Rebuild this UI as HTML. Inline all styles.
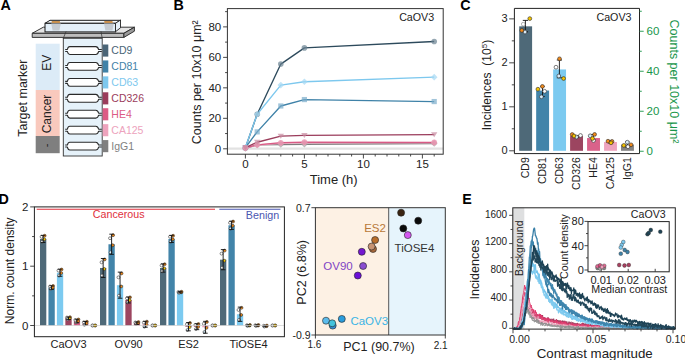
<!DOCTYPE html>
<html><head><meta charset="utf-8"><style>
html,body{margin:0;padding:0;background:#fff;width:685px;height:360px;overflow:hidden}
svg{display:block;font-family:"Liberation Sans",sans-serif}
</style></head><body>
<svg width="685" height="360" viewBox="0 0 685 360">
<rect width="685" height="360" fill="#fff"/>
<polygon points="32.2,33.3 43.3,27.2 134.4,27.2 123.9,33.3" fill="#e4e4e4" stroke="#222" stroke-width="0.9" stroke-linejoin="round"/>
<polygon points="32.2,33.3 123.9,33.3 123.9,37.4 32.2,37.4" fill="#bdbdbd" stroke="#222" stroke-width="0.9"/>
<polygon points="123.9,33.3 134.4,27.2 134.4,31.2 123.9,37.4" fill="#9a9a9a" stroke="#222" stroke-width="0.9" stroke-linejoin="round"/>
<polygon points="45,23.3 50,20.3 120.6,20.3 115.5,23.3" fill="#f7fbfe" stroke="#1a1a1a" stroke-width="1.0" stroke-linejoin="round"/>
<rect x="45" y="23.3" width="70.5" height="8.6" fill="#e3eff8" stroke="#1a1a1a" stroke-width="1.0"/>
<polygon points="115.5,23.3 120.5,20 120.5,27.8 115.5,31.7" fill="#e8f2fa" stroke="#222" stroke-width="0.9" stroke-linejoin="round"/>
<polygon points="51.6,20.9 59.8,20.9 60.2,23 51.9,23" fill="#c8904e"/>
<polygon points="104.2,20.9 112.4,20.9 112.8,23 104.5,23" fill="#c8904e"/>
<polygon points="51.2,23.6 60.8,23.6 59.4,30.6 52.6,30.6" fill="#c5cbd1"/>
<polygon points="104,23.6 113.8,23.6 112.4,30.6 105.4,30.6" fill="#c5cbd1"/>
<path d="M66.1,31.4 L63.3,38.3 M101,31.4 L102.2,38.3" stroke="#333" stroke-width="0.7" fill="none"/>
<rect x="63.3" y="38.3" width="38.9" height="117.7" fill="#e6f2fa" stroke="#333" stroke-width="0.9"/>
<rect x="35.7" y="43.7" width="24" height="46.3" fill="#dcebf7"/>
<rect x="35.7" y="90" width="24" height="46" fill="#f9c9bd"/>
<rect x="35.7" y="136" width="24" height="17.2" fill="#7f7f7f"/>
<text transform="translate(50.9,62.8) rotate(-90)" text-anchor="middle" font-size="12" fill="#222">EV</text>
<text transform="translate(50.7,114) rotate(-90)" text-anchor="middle" font-size="12" fill="#222">Cancer</text>
<text transform="translate(49.8,145.4) rotate(-90)" text-anchor="middle" font-size="11" fill="#222">-</text>
<text transform="translate(26.9,98.2) rotate(-90)" text-anchor="middle" font-size="12.5" fill="#222">Target marker</text>
<path d="M67.4,50.50 Q68,46.60 69.8,46.60 L95.8,46.60 Q97.8,46.60 98.6,50.50 Q97.8,54.40 95.8,54.40 L69.8,54.40 Q68,54.40 67.4,50.50 Z" fill="#fff"/>
<path d="M65.2,49.50 L67.4,49.50 Q68,46.60 69.8,46.60 L95.8,46.60 Q97.8,46.60 98.6,49.50 L101.8,49.50 M65.2,51.50 L67.4,51.50 Q68,54.40 69.8,54.40 L95.8,54.40 Q97.8,54.40 98.6,51.50 L101.8,51.50" fill="none" stroke="#2a2a2a" stroke-width="1.05" stroke-linejoin="round"/>
<rect x="102.7" y="44.50" width="5.6" height="12.1" fill="#4a6577"/>
<text x="111.3" y="54.40" font-size="10.5" fill="#4a6577">CD9</text>
<path d="M67.4,66.43 Q68,62.53 69.8,62.53 L95.8,62.53 Q97.8,62.53 98.6,66.43 Q97.8,70.33 95.8,70.33 L69.8,70.33 Q68,70.33 67.4,66.43 Z" fill="#fff"/>
<path d="M65.2,65.43 L67.4,65.43 Q68,62.53 69.8,62.53 L95.8,62.53 Q97.8,62.53 98.6,65.43 L101.8,65.43 M65.2,67.43 L67.4,67.43 Q68,70.33 69.8,70.33 L95.8,70.33 Q97.8,70.33 98.6,67.43 L101.8,67.43" fill="none" stroke="#2a2a2a" stroke-width="1.05" stroke-linejoin="round"/>
<rect x="102.7" y="60.43" width="5.6" height="12.1" fill="#3f82a8"/>
<text x="111.3" y="70.33" font-size="10.5" fill="#3f82a8">CD81</text>
<path d="M67.4,82.36 Q68,78.46 69.8,78.46 L95.8,78.46 Q97.8,78.46 98.6,82.36 Q97.8,86.26 95.8,86.26 L69.8,86.26 Q68,86.26 67.4,82.36 Z" fill="#fff"/>
<path d="M65.2,81.36 L67.4,81.36 Q68,78.46 69.8,78.46 L95.8,78.46 Q97.8,78.46 98.6,81.36 L101.8,81.36 M65.2,83.36 L67.4,83.36 Q68,86.26 69.8,86.26 L95.8,86.26 Q97.8,86.26 98.6,83.36 L101.8,83.36" fill="none" stroke="#2a2a2a" stroke-width="1.05" stroke-linejoin="round"/>
<rect x="102.7" y="76.36" width="5.6" height="12.1" fill="#7dc8ee"/>
<text x="111.3" y="86.26" font-size="10.5" fill="#7dc8ee">CD63</text>
<path d="M67.4,98.29 Q68,94.39 69.8,94.39 L95.8,94.39 Q97.8,94.39 98.6,98.29 Q97.8,102.19 95.8,102.19 L69.8,102.19 Q68,102.19 67.4,98.29 Z" fill="#fff"/>
<path d="M65.2,97.29 L67.4,97.29 Q68,94.39 69.8,94.39 L95.8,94.39 Q97.8,94.39 98.6,97.29 L101.8,97.29 M65.2,99.29 L67.4,99.29 Q68,102.19 69.8,102.19 L95.8,102.19 Q97.8,102.19 98.6,99.29 L101.8,99.29" fill="none" stroke="#2a2a2a" stroke-width="1.05" stroke-linejoin="round"/>
<rect x="102.7" y="92.29" width="5.6" height="12.1" fill="#9b3d5c"/>
<text x="111.3" y="102.19" font-size="10.5" fill="#9b3d5c">CD326</text>
<path d="M67.4,114.22 Q68,110.32 69.8,110.32 L95.8,110.32 Q97.8,110.32 98.6,114.22 Q97.8,118.12 95.8,118.12 L69.8,118.12 Q68,118.12 67.4,114.22 Z" fill="#fff"/>
<path d="M65.2,113.22 L67.4,113.22 Q68,110.32 69.8,110.32 L95.8,110.32 Q97.8,110.32 98.6,113.22 L101.8,113.22 M65.2,115.22 L67.4,115.22 Q68,118.12 69.8,118.12 L95.8,118.12 Q97.8,118.12 98.6,115.22 L101.8,115.22" fill="none" stroke="#2a2a2a" stroke-width="1.05" stroke-linejoin="round"/>
<rect x="102.7" y="108.22" width="5.6" height="12.1" fill="#dc5b85"/>
<text x="111.3" y="118.12" font-size="10.5" fill="#dc5b85">HE4</text>
<path d="M67.4,130.15 Q68,126.25 69.8,126.25 L95.8,126.25 Q97.8,126.25 98.6,130.15 Q97.8,134.05 95.8,134.05 L69.8,134.05 Q68,134.05 67.4,130.15 Z" fill="#fff"/>
<path d="M65.2,129.15 L67.4,129.15 Q68,126.25 69.8,126.25 L95.8,126.25 Q97.8,126.25 98.6,129.15 L101.8,129.15 M65.2,131.15 L67.4,131.15 Q68,134.05 69.8,134.05 L95.8,134.05 Q97.8,134.05 98.6,131.15 L101.8,131.15" fill="none" stroke="#2a2a2a" stroke-width="1.05" stroke-linejoin="round"/>
<rect x="102.7" y="124.15" width="5.6" height="12.1" fill="#eda3bd"/>
<text x="111.3" y="134.05" font-size="10.5" fill="#eda3bd">CA125</text>
<path d="M67.4,146.08 Q68,142.18 69.8,142.18 L95.8,142.18 Q97.8,142.18 98.6,146.08 Q97.8,149.98 95.8,149.98 L69.8,149.98 Q68,149.98 67.4,146.08 Z" fill="#fff"/>
<path d="M65.2,145.08 L67.4,145.08 Q68,142.18 69.8,142.18 L95.8,142.18 Q97.8,142.18 98.6,145.08 L101.8,145.08 M65.2,147.08 L67.4,147.08 Q68,149.98 69.8,149.98 L95.8,149.98 Q97.8,149.98 98.6,147.08 L101.8,147.08" fill="none" stroke="#2a2a2a" stroke-width="1.05" stroke-linejoin="round"/>
<rect x="102.7" y="140.08" width="5.6" height="12.1" fill="#7f7f7f"/>
<text x="111.3" y="149.98" font-size="10.5" fill="#7f7f7f">IgG1</text>
<line x1="227.4" y1="148.6" x2="443.2" y2="148.6" stroke="#e2e2e2" stroke-width="2.2"/>
<polyline points="245.40,148.34 257.20,144.84 280.80,144.53 304.40,144.23 434.20,143.47" fill="none" stroke="#7f7f7f" stroke-width="1.35" stroke-linejoin="round"/>
<polyline points="245.40,148.04 257.20,144.99 280.80,143.31 304.40,142.70 434.20,142.70" fill="none" stroke="#eda3bd" stroke-width="1.35" stroke-linejoin="round"/>
<polyline points="245.40,147.89 257.20,144.84 280.80,142.70 304.40,142.09 434.20,142.40" fill="none" stroke="#d95a85" stroke-width="1.35" stroke-linejoin="round"/>
<polyline points="245.40,147.58 257.20,142.25 280.80,136.15 304.40,135.39 434.20,134.63" fill="none" stroke="#9b3d5c" stroke-width="1.35" stroke-linejoin="round"/>
<polyline points="245.40,147.58 257.20,131.88 280.80,105.98 304.40,99.57 434.20,101.56" fill="none" stroke="#3f82a8" stroke-width="1.35" stroke-linejoin="round"/>
<polyline points="245.40,147.73 257.20,114.21 280.80,64.07 304.40,47.91 434.20,41.51" fill="none" stroke="#2d4a5c" stroke-width="1.35" stroke-linejoin="round"/>
<polyline points="245.40,147.43 257.20,114.21 280.80,85.10 304.40,81.74 434.20,77.17" fill="none" stroke="#7dc8ee" stroke-width="1.35" stroke-linejoin="round"/>
<circle cx="245.40" cy="147.73" r="2.8" fill="#6a8292" opacity="0.7"/>
<circle cx="257.20" cy="114.21" r="2.8" fill="#6a8292" opacity="0.7"/>
<circle cx="280.80" cy="64.07" r="2.8" fill="#6a8292" opacity="0.7"/>
<circle cx="304.40" cy="47.91" r="2.8" fill="#6a8292" opacity="0.7"/>
<circle cx="434.20" cy="41.51" r="2.8" fill="#6a8292" opacity="0.7"/>
<polygon points="245.40,144.13 248.70,147.43 245.40,150.73 242.10,147.43" fill="#a5d9f3" opacity="0.7"/>
<polygon points="257.20,110.91 260.50,114.21 257.20,117.51 253.90,114.21" fill="#a5d9f3" opacity="0.7"/>
<polygon points="280.80,81.80 284.10,85.10 280.80,88.40 277.50,85.10" fill="#a5d9f3" opacity="0.7"/>
<polygon points="304.40,78.44 307.70,81.74 304.40,85.04 301.10,81.74" fill="#a5d9f3" opacity="0.7"/>
<polygon points="434.20,73.87 437.50,77.17 434.20,80.47 430.90,77.17" fill="#a5d9f3" opacity="0.7"/>
<rect x="242.80" y="144.98" width="5.2" height="5.2" fill="#7aaccb" opacity="0.7"/>
<rect x="254.60" y="129.28" width="5.2" height="5.2" fill="#7aaccb" opacity="0.7"/>
<rect x="278.20" y="103.38" width="5.2" height="5.2" fill="#7aaccb" opacity="0.7"/>
<rect x="301.80" y="96.97" width="5.2" height="5.2" fill="#7aaccb" opacity="0.7"/>
<rect x="431.60" y="98.96" width="5.2" height="5.2" fill="#7aaccb" opacity="0.7"/>
<polygon points="245.40,145.04 248.70,148.34 245.40,151.64 242.10,148.34" fill="#a0a0a0" opacity="0.7"/>
<polygon points="257.20,141.54 260.50,144.84 257.20,148.14 253.90,144.84" fill="#a0a0a0" opacity="0.7"/>
<polygon points="280.80,141.23 284.10,144.53 280.80,147.83 277.50,144.53" fill="#a0a0a0" opacity="0.7"/>
<polygon points="304.40,140.93 307.70,144.23 304.40,147.53 301.10,144.23" fill="#a0a0a0" opacity="0.7"/>
<polygon points="434.20,140.17 437.50,143.47 434.20,146.77 430.90,143.47" fill="#a0a0a0" opacity="0.7"/>
<polygon points="245.40,144.74 248.70,148.04 245.40,151.34 242.10,148.04" fill="#f0b5c8" opacity="0.7"/>
<polygon points="257.20,141.69 260.50,144.99 257.20,148.29 253.90,144.99" fill="#f0b5c8" opacity="0.7"/>
<polygon points="280.80,140.01 284.10,143.31 280.80,146.61 277.50,143.31" fill="#f0b5c8" opacity="0.7"/>
<polygon points="304.40,139.40 307.70,142.70 304.40,146.00 301.10,142.70" fill="#f0b5c8" opacity="0.7"/>
<polygon points="434.20,139.40 437.50,142.70 434.20,146.00 430.90,142.70" fill="#f0b5c8" opacity="0.7"/>
<circle cx="245.40" cy="147.89" r="2.8" fill="#e58aa8" opacity="0.7"/>
<circle cx="257.20" cy="144.84" r="2.8" fill="#e58aa8" opacity="0.7"/>
<circle cx="280.80" cy="142.70" r="2.8" fill="#e58aa8" opacity="0.7"/>
<circle cx="304.40" cy="142.09" r="2.8" fill="#e58aa8" opacity="0.7"/>
<circle cx="434.20" cy="142.40" r="2.8" fill="#e58aa8" opacity="0.7"/>
<polygon points="242.20,145.18 248.60,145.18 245.40,150.18" fill="#c88aa0" opacity="0.7"/>
<polygon points="254.00,139.85 260.40,139.85 257.20,144.85" fill="#c88aa0" opacity="0.7"/>
<polygon points="277.60,133.75 284.00,133.75 280.80,138.75" fill="#c88aa0" opacity="0.7"/>
<polygon points="301.20,132.99 307.60,132.99 304.40,137.99" fill="#c88aa0" opacity="0.7"/>
<polygon points="431.00,132.23 437.40,132.23 434.20,137.23" fill="#c88aa0" opacity="0.7"/>
<rect x="227.4" y="8.6" width="215.79999999999998" height="145.6" fill="none" stroke="#333" stroke-width="1"/>
<line x1="223.1" y1="148.80" x2="227.4" y2="148.80" stroke="#333" stroke-width="0.9"/>
<text x="221.2" y="152.50" text-anchor="end" font-size="11.5" fill="#222">0</text>
<line x1="225.1" y1="133.56" x2="227.4" y2="133.56" stroke="#333" stroke-width="0.9"/>
<line x1="223.1" y1="118.32" x2="227.4" y2="118.32" stroke="#333" stroke-width="0.9"/>
<text x="221.2" y="122.02" text-anchor="end" font-size="11.5" fill="#222">20</text>
<line x1="225.1" y1="103.08" x2="227.4" y2="103.08" stroke="#333" stroke-width="0.9"/>
<line x1="223.1" y1="87.84" x2="227.4" y2="87.84" stroke="#333" stroke-width="0.9"/>
<text x="221.2" y="91.54" text-anchor="end" font-size="11.5" fill="#222">40</text>
<line x1="225.1" y1="72.60" x2="227.4" y2="72.60" stroke="#333" stroke-width="0.9"/>
<line x1="223.1" y1="57.36" x2="227.4" y2="57.36" stroke="#333" stroke-width="0.9"/>
<text x="221.2" y="61.06" text-anchor="end" font-size="11.5" fill="#222">60</text>
<line x1="225.1" y1="42.12" x2="227.4" y2="42.12" stroke="#333" stroke-width="0.9"/>
<line x1="223.1" y1="26.88" x2="227.4" y2="26.88" stroke="#333" stroke-width="0.9"/>
<text x="221.2" y="30.58" text-anchor="end" font-size="11.5" fill="#222">80</text>
<line x1="225.1" y1="11.64" x2="227.4" y2="11.64" stroke="#333" stroke-width="0.9"/>
<line x1="245.40" y1="154.2" x2="245.40" y2="158.5" stroke="#333" stroke-width="0.9"/>
<text x="245.40" y="168.2" text-anchor="middle" font-size="11.5" fill="#222">0</text>
<line x1="257.20" y1="154.2" x2="257.20" y2="156.5" stroke="#333" stroke-width="0.9"/>
<line x1="269.00" y1="154.2" x2="269.00" y2="156.5" stroke="#333" stroke-width="0.9"/>
<line x1="280.80" y1="154.2" x2="280.80" y2="156.5" stroke="#333" stroke-width="0.9"/>
<line x1="292.60" y1="154.2" x2="292.60" y2="156.5" stroke="#333" stroke-width="0.9"/>
<line x1="304.40" y1="154.2" x2="304.40" y2="158.5" stroke="#333" stroke-width="0.9"/>
<text x="304.40" y="168.2" text-anchor="middle" font-size="11.5" fill="#222">5</text>
<line x1="316.20" y1="154.2" x2="316.20" y2="156.5" stroke="#333" stroke-width="0.9"/>
<line x1="328.00" y1="154.2" x2="328.00" y2="156.5" stroke="#333" stroke-width="0.9"/>
<line x1="339.80" y1="154.2" x2="339.80" y2="156.5" stroke="#333" stroke-width="0.9"/>
<line x1="351.60" y1="154.2" x2="351.60" y2="156.5" stroke="#333" stroke-width="0.9"/>
<line x1="363.40" y1="154.2" x2="363.40" y2="158.5" stroke="#333" stroke-width="0.9"/>
<text x="363.40" y="168.2" text-anchor="middle" font-size="11.5" fill="#222">10</text>
<line x1="375.20" y1="154.2" x2="375.20" y2="156.5" stroke="#333" stroke-width="0.9"/>
<line x1="387.00" y1="154.2" x2="387.00" y2="156.5" stroke="#333" stroke-width="0.9"/>
<line x1="398.80" y1="154.2" x2="398.80" y2="156.5" stroke="#333" stroke-width="0.9"/>
<line x1="410.60" y1="154.2" x2="410.60" y2="156.5" stroke="#333" stroke-width="0.9"/>
<line x1="422.40" y1="154.2" x2="422.40" y2="158.5" stroke="#333" stroke-width="0.9"/>
<text x="422.40" y="168.2" text-anchor="middle" font-size="11.5" fill="#222">15</text>
<line x1="434.20" y1="154.2" x2="434.20" y2="156.5" stroke="#333" stroke-width="0.9"/>
<text x="333.7" y="183.6" text-anchor="middle" font-size="13" fill="#222">Time (h)</text>
<text transform="translate(201.2,82.2) rotate(-90)" text-anchor="middle" font-size="12.5" fill="#222">Counts per 10x10 μm²</text>
<text x="434.2" y="21.4" text-anchor="end" font-size="10.7" fill="#222">CaOV3</text>
<rect x="519.20" y="26.34" width="12.9" height="124.46" fill="#4e6978"/>
<rect x="536.17" y="90.55" width="12.9" height="60.25" fill="#4284a9"/>
<rect x="553.14" y="69.44" width="12.9" height="81.36" fill="#7ccaf0"/>
<rect x="570.11" y="136.07" width="12.9" height="14.73" fill="#9c4560"/>
<rect x="587.08" y="138.05" width="12.9" height="12.75" fill="#d9628a"/>
<rect x="604.05" y="142.00" width="12.9" height="8.80" fill="#eea4be"/>
<rect x="621.02" y="144.64" width="12.9" height="6.16" fill="#838383"/>
<path d="M525.40,20.40 V31.80 M522.80,20.40 H528.00 M522.80,31.80 H528.00" stroke="#111" stroke-width="0.9" fill="none"/>
<circle cx="523.30" cy="24.20" r="1.9" fill="#ffffff" stroke="#2a2a2a" stroke-width="0.6" opacity="0.6"/>
<circle cx="525.00" cy="32.00" r="1.9" fill="#d8ecf8" stroke="#2a2a2a" stroke-width="0.6" opacity="1.0"/>
<circle cx="521.80" cy="30.40" r="1.9" fill="#f08a1c" stroke="#2a2a2a" stroke-width="0.6" opacity="1.0"/>
<circle cx="529.80" cy="18.60" r="1.9" fill="#f5c400" stroke="#2a2a2a" stroke-width="0.6" opacity="1.0"/>
<path d="M542.50,86.40 V96.50 M540.30,86.40 H544.70 M540.30,96.50 H544.70" stroke="#111" stroke-width="0.9" fill="none"/>
<circle cx="544.60" cy="91.30" r="1.9" fill="#ffffff" stroke="#2a2a2a" stroke-width="0.6" opacity="1.0"/>
<circle cx="541.40" cy="96.80" r="1.9" fill="#d8ecf8" stroke="#2a2a2a" stroke-width="0.6" opacity="1.0"/>
<circle cx="537.90" cy="89.20" r="1.9" fill="#f5c400" stroke="#2a2a2a" stroke-width="0.6" opacity="1.0"/>
<circle cx="542.40" cy="86.40" r="1.9" fill="#f08a1c" stroke="#2a2a2a" stroke-width="0.6" opacity="1.0"/>
<path d="M559.40,60.00 V77.80 M556.80,60.00 H562.00 M556.80,77.80 H562.00" stroke="#111" stroke-width="0.9" fill="none"/>
<circle cx="556.00" cy="67.20" r="1.9" fill="#ffffff" stroke="#2a2a2a" stroke-width="0.6" opacity="1.0"/>
<circle cx="558.80" cy="76.00" r="1.9" fill="#d8ecf8" stroke="#2a2a2a" stroke-width="0.6" opacity="1.0"/>
<circle cx="563.60" cy="78.50" r="1.9" fill="#f5c400" stroke="#2a2a2a" stroke-width="0.6" opacity="1.0"/>
<circle cx="559.50" cy="58.80" r="1.9" fill="#f08a1c" stroke="#2a2a2a" stroke-width="0.6" opacity="1.0"/>
<path d="M576.60,135.50 V137.50 M574.40,135.50 H578.80 M574.40,137.50 H578.80" stroke="#111" stroke-width="0.9" fill="none"/>
<circle cx="580.50" cy="135.50" r="1.9" fill="#ffffff" stroke="#2a2a2a" stroke-width="0.6" opacity="1.0"/>
<circle cx="576.50" cy="137.00" r="1.9" fill="#d8ecf8" stroke="#2a2a2a" stroke-width="0.6" opacity="1.0"/>
<circle cx="572.20" cy="134.50" r="1.9" fill="#f08a1c" stroke="#2a2a2a" stroke-width="0.6" opacity="1.0"/>
<circle cx="574.00" cy="136.00" r="1.9" fill="#f5c400" stroke="#2a2a2a" stroke-width="0.6" opacity="1.0"/>
<path d="M593.40,134.50 V140.00 M591.20,134.50 H595.60 M591.20,140.00 H595.60" stroke="#111" stroke-width="0.9" fill="none"/>
<circle cx="590.20" cy="135.80" r="1.9" fill="#d8ecf8" stroke="#2a2a2a" stroke-width="0.6" opacity="1.0"/>
<circle cx="593.50" cy="140.50" r="1.9" fill="#ffffff" stroke="#2a2a2a" stroke-width="0.6" opacity="1.0"/>
<circle cx="594.60" cy="134.40" r="1.9" fill="#f08a1c" stroke="#2a2a2a" stroke-width="0.6" opacity="1.0"/>
<circle cx="592.50" cy="138.50" r="1.9" fill="#f5c400" stroke="#2a2a2a" stroke-width="0.6" opacity="1.0"/>
<path d="M610.40,141.00 V143.00 M608.20,141.00 H612.60 M608.20,143.00 H612.60" stroke="#111" stroke-width="0.9" fill="none"/>
<circle cx="608.00" cy="141.20" r="1.9" fill="#f08a1c" stroke="#2a2a2a" stroke-width="0.6" opacity="1.0"/>
<circle cx="612.00" cy="141.40" r="1.9" fill="#f08a1c" stroke="#2a2a2a" stroke-width="0.6" opacity="1.0"/>
<circle cx="611.00" cy="142.80" r="1.9" fill="#f5c400" stroke="#2a2a2a" stroke-width="0.6" opacity="1.0"/>
<path d="M627.40,142.00 V147.00 M625.20,142.00 H629.60 M625.20,147.00 H629.60" stroke="#111" stroke-width="0.9" fill="none"/>
<circle cx="627.30" cy="142.20" r="1.9" fill="#d8ecf8" stroke="#2a2a2a" stroke-width="0.6" opacity="1.0"/>
<circle cx="628.00" cy="146.70" r="1.9" fill="#ffffff" stroke="#2a2a2a" stroke-width="0.6" opacity="1.0"/>
<circle cx="623.80" cy="145.40" r="1.9" fill="#f5c400" stroke="#2a2a2a" stroke-width="0.6" opacity="1.0"/>
<circle cx="631.00" cy="144.80" r="1.9" fill="#f08a1c" stroke="#2a2a2a" stroke-width="0.6" opacity="1.0"/>
<path d="M514.4,8.4 H639.5 M514.4,8.4 V153.6 H639.5" stroke="#222" stroke-width="1" fill="none"/>
<line x1="639.5" y1="8.4" x2="639.5" y2="153.6" stroke="#222" stroke-width="1"/>
<line x1="509.2" y1="150.80" x2="514.4" y2="150.80" stroke="#333" stroke-width="0.9"/>
<text x="507.6" y="154.20" text-anchor="end" font-size="11" fill="#222">0</text>
<line x1="511.79999999999995" y1="128.81" x2="514.4" y2="128.81" stroke="#333" stroke-width="0.9"/>
<line x1="509.2" y1="106.82" x2="514.4" y2="106.82" stroke="#333" stroke-width="0.9"/>
<text x="507.6" y="110.22" text-anchor="end" font-size="11" fill="#222">1</text>
<line x1="511.79999999999995" y1="84.83" x2="514.4" y2="84.83" stroke="#333" stroke-width="0.9"/>
<line x1="509.2" y1="62.84" x2="514.4" y2="62.84" stroke="#333" stroke-width="0.9"/>
<text x="507.6" y="66.24" text-anchor="end" font-size="11" fill="#222">2</text>
<line x1="511.79999999999995" y1="40.85" x2="514.4" y2="40.85" stroke="#333" stroke-width="0.9"/>
<line x1="509.2" y1="18.86" x2="514.4" y2="18.86" stroke="#333" stroke-width="0.9"/>
<text x="507.6" y="22.26" text-anchor="end" font-size="11" fill="#222">3</text>
<line x1="639.5" y1="151.25" x2="643.7" y2="151.25" stroke="#18964a" stroke-width="0.9"/>
<text x="646.6" y="155.35" font-size="11.5" fill="#18964a">0</text>
<line x1="639.5" y1="131.25" x2="641.8" y2="131.25" stroke="#18964a" stroke-width="0.9"/>
<line x1="639.5" y1="111.25" x2="643.7" y2="111.25" stroke="#18964a" stroke-width="0.9"/>
<text x="646.6" y="115.35" font-size="11.5" fill="#18964a">20</text>
<line x1="639.5" y1="91.25" x2="641.8" y2="91.25" stroke="#18964a" stroke-width="0.9"/>
<line x1="639.5" y1="71.25" x2="643.7" y2="71.25" stroke="#18964a" stroke-width="0.9"/>
<text x="646.6" y="75.35" font-size="11.5" fill="#18964a">40</text>
<line x1="639.5" y1="51.25" x2="641.8" y2="51.25" stroke="#18964a" stroke-width="0.9"/>
<line x1="639.5" y1="31.25" x2="643.7" y2="31.25" stroke="#18964a" stroke-width="0.9"/>
<text x="646.6" y="35.35" font-size="11.5" fill="#18964a">60</text>
<line x1="639.5" y1="11.25" x2="641.8" y2="11.25" stroke="#18964a" stroke-width="0.9"/>
<text transform="translate(670.3,81.5) rotate(90)" text-anchor="middle" font-size="12.5" fill="#18964a">Counts per 10x10 μm²</text>
<text transform="translate(491.3,85.0) rotate(-90)" text-anchor="middle" font-size="12.1" fill="#222">Incidences&#160;&#160;(10<tspan font-size="8" dy="-4.5">5</tspan><tspan dy="4.5">)</tspan></text>
<text transform="translate(529.45,157.2) rotate(-90)" text-anchor="end" font-size="10.5" fill="#222">CD9</text>
<text transform="translate(546.42,157.2) rotate(-90)" text-anchor="end" font-size="10.5" fill="#222">CD81</text>
<text transform="translate(563.39,157.2) rotate(-90)" text-anchor="end" font-size="10.5" fill="#222">CD63</text>
<text transform="translate(580.36,157.2) rotate(-90)" text-anchor="end" font-size="10.5" fill="#222">CD326</text>
<text transform="translate(597.33,157.2) rotate(-90)" text-anchor="end" font-size="10.5" fill="#222">HE4</text>
<text transform="translate(614.30,157.2) rotate(-90)" text-anchor="end" font-size="10.5" fill="#222">CA125</text>
<text transform="translate(631.27,157.2) rotate(-90)" text-anchor="end" font-size="10.5" fill="#222">IgG1</text>
<text x="631.5" y="21.3" text-anchor="end" font-size="10.7" fill="#222">CaOV3</text>
<rect x="40.00" y="238.92" width="6.3" height="86.58" fill="#4e6978"/>
<rect x="48.45" y="287.55" width="6.3" height="37.95" fill="#4284a9"/>
<rect x="56.90" y="272.72" width="6.3" height="52.78" fill="#7ccaf0"/>
<rect x="65.35" y="318.27" width="6.3" height="7.23" fill="#9c4560"/>
<rect x="73.80" y="321.05" width="6.3" height="4.45" fill="#d9628a"/>
<rect x="82.25" y="323.31" width="6.3" height="2.19" fill="#eea4be"/>
<rect x="100.00" y="267.98" width="6.3" height="57.52" fill="#4e6978"/>
<rect x="108.45" y="244.26" width="6.3" height="81.24" fill="#4284a9"/>
<rect x="116.90" y="285.18" width="6.3" height="40.32" fill="#7ccaf0"/>
<rect x="125.35" y="300.00" width="6.3" height="25.50" fill="#9c4560"/>
<rect x="133.80" y="323.13" width="6.3" height="2.37" fill="#d9628a"/>
<rect x="142.25" y="324.31" width="6.3" height="1.19" fill="#eea4be"/>
<rect x="160.00" y="267.98" width="6.3" height="57.52" fill="#4e6978"/>
<rect x="168.45" y="238.92" width="6.3" height="86.58" fill="#4284a9"/>
<rect x="176.90" y="292.29" width="6.3" height="33.21" fill="#7ccaf0"/>
<rect x="185.35" y="325.50" width="6.3" height="1.19" fill="#9c4560"/>
<rect x="193.80" y="325.50" width="6.3" height="1.19" fill="#d9628a"/>
<rect x="202.25" y="325.50" width="6.3" height="1.78" fill="#eea4be"/>
<rect x="220.00" y="259.68" width="6.3" height="65.82" fill="#4e6978"/>
<rect x="228.45" y="225.28" width="6.3" height="100.22" fill="#4284a9"/>
<rect x="236.90" y="314.23" width="6.3" height="11.27" fill="#7ccaf0"/>
<rect x="262.25" y="325.50" width="6.3" height="0.59" fill="#eea4be"/>
<circle cx="41.55" cy="236.79" r="1.45" fill="#ffffff" stroke="#2a2a2a" stroke-width="0.55" opacity="1.0"/>
<circle cx="44.65" cy="235.72" r="1.45" fill="#f08a1c" stroke="#2a2a2a" stroke-width="0.55" opacity="1.0"/>
<circle cx="42.15" cy="241.77" r="1.45" fill="#ffffff" stroke="#2a2a2a" stroke-width="0.55" opacity="1.0"/>
<circle cx="44.25" cy="239.28" r="1.45" fill="#f5c400" stroke="#2a2a2a" stroke-width="0.55" opacity="1.0"/>
<path d="M43.15,235.36 V242.48 M40.85,235.36 H45.45 M40.85,242.48 H45.45" stroke="#111" stroke-width="0.9" fill="none"/>
<circle cx="50.00" cy="286.48" r="1.45" fill="#ffffff" stroke="#2a2a2a" stroke-width="0.55" opacity="1.0"/>
<circle cx="53.10" cy="285.95" r="1.45" fill="#f08a1c" stroke="#2a2a2a" stroke-width="0.55" opacity="1.0"/>
<circle cx="50.60" cy="288.97" r="1.45" fill="#d8ecf8" stroke="#2a2a2a" stroke-width="0.55" opacity="1.0"/>
<circle cx="52.70" cy="287.73" r="1.45" fill="#f08a1c" stroke="#2a2a2a" stroke-width="0.55" opacity="1.0"/>
<path d="M51.60,285.77 V289.33 M49.30,285.77 H53.90 M49.30,289.33 H53.90" stroke="#111" stroke-width="0.9" fill="none"/>
<circle cx="58.45" cy="270.59" r="1.45" fill="#ffffff" stroke="#2a2a2a" stroke-width="0.55" opacity="1.0"/>
<circle cx="61.55" cy="269.52" r="1.45" fill="#f08a1c" stroke="#2a2a2a" stroke-width="0.55" opacity="1.0"/>
<circle cx="59.05" cy="275.57" r="1.45" fill="#ffffff" stroke="#2a2a2a" stroke-width="0.55" opacity="1.0"/>
<circle cx="61.15" cy="273.08" r="1.45" fill="#f08a1c" stroke="#2a2a2a" stroke-width="0.55" opacity="1.0"/>
<path d="M60.05,269.17 V276.28 M57.75,269.17 H62.35 M57.75,276.28 H62.35" stroke="#111" stroke-width="0.9" fill="none"/>
<circle cx="66.90" cy="317.55" r="1.45" fill="#ffffff" stroke="#2a2a2a" stroke-width="0.55" opacity="1.0"/>
<circle cx="70.00" cy="317.20" r="1.45" fill="#f08a1c" stroke="#2a2a2a" stroke-width="0.55" opacity="1.0"/>
<circle cx="67.50" cy="319.21" r="1.45" fill="#d8ecf8" stroke="#2a2a2a" stroke-width="0.55" opacity="1.0"/>
<circle cx="69.60" cy="318.38" r="1.45" fill="#f5c400" stroke="#2a2a2a" stroke-width="0.55" opacity="1.0"/>
<path d="M68.50,317.08 V319.45 M66.20,317.08 H70.80 M66.20,319.45 H70.80" stroke="#111" stroke-width="0.9" fill="none"/>
<circle cx="75.35" cy="319.99" r="1.45" fill="#ffffff" stroke="#2a2a2a" stroke-width="0.55" opacity="1.0"/>
<circle cx="78.45" cy="319.45" r="1.45" fill="#f08a1c" stroke="#2a2a2a" stroke-width="0.55" opacity="1.0"/>
<circle cx="75.95" cy="322.48" r="1.45" fill="#ffffff" stroke="#2a2a2a" stroke-width="0.55" opacity="1.0"/>
<circle cx="78.05" cy="321.23" r="1.45" fill="#f08a1c" stroke="#2a2a2a" stroke-width="0.55" opacity="1.0"/>
<path d="M76.95,319.27 V322.83 M74.65,319.27 H79.25 M74.65,322.83 H79.25" stroke="#111" stroke-width="0.9" fill="none"/>
<circle cx="83.80" cy="322.24" r="1.45" fill="#ffffff" stroke="#2a2a2a" stroke-width="0.55" opacity="1.0"/>
<circle cx="86.90" cy="321.70" r="1.45" fill="#f08a1c" stroke="#2a2a2a" stroke-width="0.55" opacity="1.0"/>
<circle cx="84.40" cy="324.73" r="1.45" fill="#d8ecf8" stroke="#2a2a2a" stroke-width="0.55" opacity="1.0"/>
<circle cx="86.50" cy="323.48" r="1.45" fill="#f08a1c" stroke="#2a2a2a" stroke-width="0.55" opacity="1.0"/>
<path d="M85.40,321.53 V325.08 M83.10,321.53 H87.70 M83.10,325.08 H87.70" stroke="#111" stroke-width="0.9" fill="none"/>
<circle cx="92.25" cy="325.50" r="1.45" fill="#ffffff" stroke="#2a2a2a" stroke-width="0.55" opacity="1.0"/>
<circle cx="95.35" cy="325.50" r="1.45" fill="#f08a1c" stroke="#2a2a2a" stroke-width="0.55" opacity="1.0"/>
<circle cx="92.85" cy="325.50" r="1.45" fill="#ffffff" stroke="#2a2a2a" stroke-width="0.55" opacity="1.0"/>
<circle cx="94.95" cy="325.50" r="1.45" fill="#f5c400" stroke="#2a2a2a" stroke-width="0.55" opacity="1.0"/>
<circle cx="101.55" cy="262.29" r="1.45" fill="#ffffff" stroke="#2a2a2a" stroke-width="0.55" opacity="1.0"/>
<circle cx="104.65" cy="259.44" r="1.45" fill="#f08a1c" stroke="#2a2a2a" stroke-width="0.55" opacity="1.0"/>
<circle cx="102.15" cy="275.57" r="1.45" fill="#ffffff" stroke="#2a2a2a" stroke-width="0.55" opacity="1.0"/>
<circle cx="104.25" cy="268.93" r="1.45" fill="#f5c400" stroke="#2a2a2a" stroke-width="0.55" opacity="1.0"/>
<path d="M103.15,258.49 V277.47 M100.85,258.49 H105.45 M100.85,277.47 H105.45" stroke="#111" stroke-width="0.9" fill="none"/>
<circle cx="110.00" cy="238.21" r="1.45" fill="#ffffff" stroke="#2a2a2a" stroke-width="0.55" opacity="1.0"/>
<circle cx="113.10" cy="235.19" r="1.45" fill="#f08a1c" stroke="#2a2a2a" stroke-width="0.55" opacity="1.0"/>
<circle cx="110.60" cy="252.32" r="1.45" fill="#d8ecf8" stroke="#2a2a2a" stroke-width="0.55" opacity="1.0"/>
<circle cx="112.70" cy="245.27" r="1.45" fill="#f08a1c" stroke="#2a2a2a" stroke-width="0.55" opacity="1.0"/>
<path d="M111.60,234.18 V254.34 M109.30,234.18 H113.90 M109.30,254.34 H113.90" stroke="#111" stroke-width="0.9" fill="none"/>
<circle cx="118.45" cy="277.35" r="1.45" fill="#ffffff" stroke="#2a2a2a" stroke-width="0.55" opacity="1.0"/>
<circle cx="121.55" cy="273.43" r="1.45" fill="#f08a1c" stroke="#2a2a2a" stroke-width="0.55" opacity="1.0"/>
<circle cx="119.05" cy="295.61" r="1.45" fill="#ffffff" stroke="#2a2a2a" stroke-width="0.55" opacity="1.0"/>
<circle cx="121.15" cy="286.48" r="1.45" fill="#f08a1c" stroke="#2a2a2a" stroke-width="0.55" opacity="1.0"/>
<path d="M120.05,272.13 V298.22 M117.75,272.13 H122.35 M117.75,298.22 H122.35" stroke="#111" stroke-width="0.9" fill="none"/>
<circle cx="126.90" cy="298.22" r="1.45" fill="#ffffff" stroke="#2a2a2a" stroke-width="0.55" opacity="1.0"/>
<circle cx="130.00" cy="297.33" r="1.45" fill="#f08a1c" stroke="#2a2a2a" stroke-width="0.55" opacity="1.0"/>
<circle cx="127.50" cy="302.37" r="1.45" fill="#d8ecf8" stroke="#2a2a2a" stroke-width="0.55" opacity="1.0"/>
<circle cx="129.60" cy="300.30" r="1.45" fill="#f5c400" stroke="#2a2a2a" stroke-width="0.55" opacity="1.0"/>
<path d="M128.50,297.04 V302.97 M126.20,297.04 H130.80 M126.20,302.97 H130.80" stroke="#111" stroke-width="0.9" fill="none"/>
<circle cx="135.35" cy="322.42" r="1.45" fill="#ffffff" stroke="#2a2a2a" stroke-width="0.55" opacity="1.0"/>
<circle cx="138.45" cy="322.06" r="1.45" fill="#f08a1c" stroke="#2a2a2a" stroke-width="0.55" opacity="1.0"/>
<circle cx="135.95" cy="324.08" r="1.45" fill="#ffffff" stroke="#2a2a2a" stroke-width="0.55" opacity="1.0"/>
<circle cx="138.05" cy="323.25" r="1.45" fill="#f08a1c" stroke="#2a2a2a" stroke-width="0.55" opacity="1.0"/>
<path d="M136.95,321.94 V324.31 M134.65,321.94 H139.25 M134.65,324.31 H139.25" stroke="#111" stroke-width="0.9" fill="none"/>
<circle cx="143.80" cy="322.54" r="1.45" fill="#ffffff" stroke="#2a2a2a" stroke-width="0.55" opacity="1.0"/>
<circle cx="146.90" cy="321.65" r="1.45" fill="#f08a1c" stroke="#2a2a2a" stroke-width="0.55" opacity="1.0"/>
<circle cx="144.40" cy="326.69" r="1.45" fill="#d8ecf8" stroke="#2a2a2a" stroke-width="0.55" opacity="1.0"/>
<circle cx="146.50" cy="324.61" r="1.45" fill="#f08a1c" stroke="#2a2a2a" stroke-width="0.55" opacity="1.0"/>
<path d="M145.40,321.35 V327.28 M143.10,321.35 H147.70 M143.10,327.28 H147.70" stroke="#111" stroke-width="0.9" fill="none"/>
<circle cx="152.25" cy="325.50" r="1.45" fill="#ffffff" stroke="#2a2a2a" stroke-width="0.55" opacity="1.0"/>
<circle cx="155.35" cy="325.50" r="1.45" fill="#f08a1c" stroke="#2a2a2a" stroke-width="0.55" opacity="1.0"/>
<circle cx="152.85" cy="325.50" r="1.45" fill="#ffffff" stroke="#2a2a2a" stroke-width="0.55" opacity="1.0"/>
<circle cx="154.95" cy="325.50" r="1.45" fill="#f5c400" stroke="#2a2a2a" stroke-width="0.55" opacity="1.0"/>
<circle cx="161.55" cy="265.49" r="1.45" fill="#ffffff" stroke="#2a2a2a" stroke-width="0.55" opacity="1.0"/>
<circle cx="164.65" cy="264.24" r="1.45" fill="#f08a1c" stroke="#2a2a2a" stroke-width="0.55" opacity="1.0"/>
<circle cx="162.15" cy="271.30" r="1.45" fill="#ffffff" stroke="#2a2a2a" stroke-width="0.55" opacity="1.0"/>
<circle cx="164.25" cy="268.39" r="1.45" fill="#f5c400" stroke="#2a2a2a" stroke-width="0.55" opacity="1.0"/>
<path d="M163.15,263.83 V272.13 M160.85,263.83 H165.45 M160.85,272.13 H165.45" stroke="#111" stroke-width="0.9" fill="none"/>
<circle cx="170.00" cy="236.79" r="1.45" fill="#ffffff" stroke="#2a2a2a" stroke-width="0.55" opacity="1.0"/>
<circle cx="173.10" cy="235.72" r="1.45" fill="#f08a1c" stroke="#2a2a2a" stroke-width="0.55" opacity="1.0"/>
<circle cx="170.60" cy="241.77" r="1.45" fill="#d8ecf8" stroke="#2a2a2a" stroke-width="0.55" opacity="1.0"/>
<circle cx="172.70" cy="239.28" r="1.45" fill="#f08a1c" stroke="#2a2a2a" stroke-width="0.55" opacity="1.0"/>
<path d="M171.60,235.36 V242.48 M169.30,235.36 H173.90 M169.30,242.48 H173.90" stroke="#111" stroke-width="0.9" fill="none"/>
<circle cx="178.45" cy="291.94" r="1.45" fill="#ffffff" stroke="#2a2a2a" stroke-width="0.55" opacity="1.0"/>
<circle cx="181.55" cy="291.76" r="1.45" fill="#f08a1c" stroke="#2a2a2a" stroke-width="0.55" opacity="1.0"/>
<circle cx="179.05" cy="292.77" r="1.45" fill="#ffffff" stroke="#2a2a2a" stroke-width="0.55" opacity="1.0"/>
<circle cx="181.15" cy="292.35" r="1.45" fill="#f08a1c" stroke="#2a2a2a" stroke-width="0.55" opacity="1.0"/>
<path d="M180.05,291.70 V292.88 M177.75,291.70 H182.35 M177.75,292.88 H182.35" stroke="#111" stroke-width="0.9" fill="none"/>
<circle cx="186.90" cy="324.20" r="1.45" fill="#ffffff" stroke="#2a2a2a" stroke-width="0.55" opacity="1.0"/>
<circle cx="190.00" cy="322.95" r="1.45" fill="#f08a1c" stroke="#2a2a2a" stroke-width="0.55" opacity="1.0"/>
<circle cx="187.50" cy="330.01" r="1.45" fill="#d8ecf8" stroke="#2a2a2a" stroke-width="0.55" opacity="1.0"/>
<circle cx="189.60" cy="327.10" r="1.45" fill="#f5c400" stroke="#2a2a2a" stroke-width="0.55" opacity="1.0"/>
<path d="M188.50,322.54 V330.84 M186.20,322.54 H190.80 M186.20,330.84 H190.80" stroke="#111" stroke-width="0.9" fill="none"/>
<circle cx="195.35" cy="324.91" r="1.45" fill="#ffffff" stroke="#2a2a2a" stroke-width="0.55" opacity="1.0"/>
<circle cx="198.45" cy="324.02" r="1.45" fill="#f08a1c" stroke="#2a2a2a" stroke-width="0.55" opacity="1.0"/>
<circle cx="195.95" cy="329.06" r="1.45" fill="#ffffff" stroke="#2a2a2a" stroke-width="0.55" opacity="1.0"/>
<circle cx="198.05" cy="326.98" r="1.45" fill="#f08a1c" stroke="#2a2a2a" stroke-width="0.55" opacity="1.0"/>
<path d="M196.95,323.72 V329.65 M194.65,323.72 H199.25 M194.65,329.65 H199.25" stroke="#111" stroke-width="0.9" fill="none"/>
<circle cx="203.80" cy="323.72" r="1.45" fill="#ffffff" stroke="#2a2a2a" stroke-width="0.55" opacity="1.0"/>
<circle cx="206.90" cy="321.94" r="1.45" fill="#f08a1c" stroke="#2a2a2a" stroke-width="0.55" opacity="1.0"/>
<circle cx="204.40" cy="332.02" r="1.45" fill="#d8ecf8" stroke="#2a2a2a" stroke-width="0.55" opacity="1.0"/>
<circle cx="206.50" cy="327.87" r="1.45" fill="#f08a1c" stroke="#2a2a2a" stroke-width="0.55" opacity="1.0"/>
<path d="M205.40,321.35 V333.21 M203.10,321.35 H207.70 M203.10,333.21 H207.70" stroke="#111" stroke-width="0.9" fill="none"/>
<circle cx="212.25" cy="325.50" r="1.45" fill="#ffffff" stroke="#2a2a2a" stroke-width="0.55" opacity="1.0"/>
<circle cx="215.35" cy="325.50" r="1.45" fill="#f08a1c" stroke="#2a2a2a" stroke-width="0.55" opacity="1.0"/>
<circle cx="212.85" cy="325.50" r="1.45" fill="#ffffff" stroke="#2a2a2a" stroke-width="0.55" opacity="1.0"/>
<circle cx="214.95" cy="325.50" r="1.45" fill="#f5c400" stroke="#2a2a2a" stroke-width="0.55" opacity="1.0"/>
<circle cx="221.55" cy="253.63" r="1.45" fill="#ffffff" stroke="#2a2a2a" stroke-width="0.55" opacity="1.0"/>
<circle cx="224.65" cy="250.60" r="1.45" fill="#f08a1c" stroke="#2a2a2a" stroke-width="0.55" opacity="1.0"/>
<circle cx="222.15" cy="267.74" r="1.45" fill="#ffffff" stroke="#2a2a2a" stroke-width="0.55" opacity="1.0"/>
<circle cx="224.25" cy="260.69" r="1.45" fill="#f5c400" stroke="#2a2a2a" stroke-width="0.55" opacity="1.0"/>
<path d="M223.15,249.60 V269.76 M220.85,249.60 H225.45 M220.85,269.76 H225.45" stroke="#111" stroke-width="0.9" fill="none"/>
<circle cx="230.00" cy="222.79" r="1.45" fill="#ffffff" stroke="#2a2a2a" stroke-width="0.55" opacity="1.0"/>
<circle cx="233.10" cy="221.55" r="1.45" fill="#f08a1c" stroke="#2a2a2a" stroke-width="0.55" opacity="1.0"/>
<circle cx="230.60" cy="228.60" r="1.45" fill="#d8ecf8" stroke="#2a2a2a" stroke-width="0.55" opacity="1.0"/>
<circle cx="232.70" cy="225.70" r="1.45" fill="#f08a1c" stroke="#2a2a2a" stroke-width="0.55" opacity="1.0"/>
<path d="M231.60,221.13 V229.43 M229.30,221.13 H233.90 M229.30,229.43 H233.90" stroke="#111" stroke-width="0.9" fill="none"/>
<circle cx="238.45" cy="309.96" r="1.45" fill="#ffffff" stroke="#2a2a2a" stroke-width="0.55" opacity="1.0"/>
<circle cx="241.55" cy="307.83" r="1.45" fill="#f08a1c" stroke="#2a2a2a" stroke-width="0.55" opacity="1.0"/>
<circle cx="239.05" cy="319.93" r="1.45" fill="#ffffff" stroke="#2a2a2a" stroke-width="0.55" opacity="1.0"/>
<circle cx="241.15" cy="314.94" r="1.45" fill="#f08a1c" stroke="#2a2a2a" stroke-width="0.55" opacity="1.0"/>
<path d="M240.05,307.12 V321.35 M237.75,307.12 H242.35 M237.75,321.35 H242.35" stroke="#111" stroke-width="0.9" fill="none"/>
<circle cx="246.90" cy="325.14" r="1.45" fill="#ffffff" stroke="#2a2a2a" stroke-width="0.55" opacity="1.0"/>
<circle cx="250.00" cy="324.97" r="1.45" fill="#f08a1c" stroke="#2a2a2a" stroke-width="0.55" opacity="1.0"/>
<circle cx="247.50" cy="325.97" r="1.45" fill="#d8ecf8" stroke="#2a2a2a" stroke-width="0.55" opacity="1.0"/>
<circle cx="249.60" cy="325.56" r="1.45" fill="#f5c400" stroke="#2a2a2a" stroke-width="0.55" opacity="1.0"/>
<path d="M248.50,324.91 V326.09 M246.20,324.91 H250.80 M246.20,326.09 H250.80" stroke="#111" stroke-width="0.9" fill="none"/>
<circle cx="255.35" cy="325.14" r="1.45" fill="#ffffff" stroke="#2a2a2a" stroke-width="0.55" opacity="1.0"/>
<circle cx="258.45" cy="324.97" r="1.45" fill="#f08a1c" stroke="#2a2a2a" stroke-width="0.55" opacity="1.0"/>
<circle cx="255.95" cy="325.97" r="1.45" fill="#ffffff" stroke="#2a2a2a" stroke-width="0.55" opacity="1.0"/>
<circle cx="258.05" cy="325.56" r="1.45" fill="#f08a1c" stroke="#2a2a2a" stroke-width="0.55" opacity="1.0"/>
<path d="M256.95,324.91 V326.09 M254.65,324.91 H259.25 M254.65,326.09 H259.25" stroke="#111" stroke-width="0.9" fill="none"/>
<circle cx="263.80" cy="325.74" r="1.45" fill="#ffffff" stroke="#2a2a2a" stroke-width="0.55" opacity="1.0"/>
<circle cx="266.90" cy="325.56" r="1.45" fill="#f08a1c" stroke="#2a2a2a" stroke-width="0.55" opacity="1.0"/>
<circle cx="264.40" cy="326.57" r="1.45" fill="#d8ecf8" stroke="#2a2a2a" stroke-width="0.55" opacity="1.0"/>
<circle cx="266.50" cy="326.15" r="1.45" fill="#f08a1c" stroke="#2a2a2a" stroke-width="0.55" opacity="1.0"/>
<path d="M265.40,325.50 V326.69 M263.10,325.50 H267.70 M263.10,326.69 H267.70" stroke="#111" stroke-width="0.9" fill="none"/>
<circle cx="272.25" cy="325.50" r="1.45" fill="#ffffff" stroke="#2a2a2a" stroke-width="0.55" opacity="1.0"/>
<circle cx="275.35" cy="325.50" r="1.45" fill="#f08a1c" stroke="#2a2a2a" stroke-width="0.55" opacity="1.0"/>
<circle cx="272.85" cy="325.50" r="1.45" fill="#ffffff" stroke="#2a2a2a" stroke-width="0.55" opacity="1.0"/>
<circle cx="274.95" cy="325.50" r="1.45" fill="#f5c400" stroke="#2a2a2a" stroke-width="0.55" opacity="1.0"/>
<line x1="34.4" y1="325.50" x2="284.4" y2="325.50" stroke="#cfcfcf" stroke-width="0.7"/>
<rect x="34.4" y="206.9" width="249.99999999999997" height="129.79999999999998" fill="none" stroke="#222" stroke-width="1"/>
<line x1="30.2" y1="325.50" x2="34.4" y2="325.50" stroke="#333" stroke-width="0.9"/>
<text x="28.3" y="329.60" text-anchor="end" font-size="11.5" fill="#222">0</text>
<line x1="32.1" y1="295.85" x2="34.4" y2="295.85" stroke="#333" stroke-width="0.9"/>
<line x1="30.2" y1="266.20" x2="34.4" y2="266.20" stroke="#333" stroke-width="0.9"/>
<text x="28.3" y="270.30" text-anchor="end" font-size="11.5" fill="#222">1</text>
<line x1="32.1" y1="236.55" x2="34.4" y2="236.55" stroke="#333" stroke-width="0.9"/>
<line x1="30.2" y1="206.90" x2="34.4" y2="206.90" stroke="#333" stroke-width="0.9"/>
<text x="28.3" y="211.00" text-anchor="end" font-size="11.5" fill="#222">2</text>
<line x1="36.7" y1="209.3" x2="215" y2="209.3" stroke="#e0303c" stroke-width="1.1"/>
<line x1="219.3" y1="209.3" x2="280.5" y2="209.3" stroke="#4a56b0" stroke-width="1.1"/>
<text x="118.7" y="218.2" text-anchor="middle" font-size="10.7" fill="#e0303c">Cancerous</text>
<text x="262.5" y="218.6" text-anchor="middle" font-size="10.7" fill="#4a56b0">Benign</text>
<text x="68.6" y="347.7" text-anchor="middle" font-size="11" fill="#222">CaOV3</text>
<text x="128.6" y="347.7" text-anchor="middle" font-size="11" fill="#222">OV90</text>
<text x="188.6" y="347.7" text-anchor="middle" font-size="11" fill="#222">ES2</text>
<text x="248.6" y="347.7" text-anchor="middle" font-size="11" fill="#222">TiOSE4</text>
<text transform="translate(14.3,270.8) rotate(-90)" text-anchor="middle" font-size="12" fill="#222">Norm. count density</text>
<rect x="315.4" y="207.7" width="73.30000000000001" height="127.30000000000001" fill="#fdf1e4"/>
<rect x="388.7" y="207.7" width="56.60000000000002" height="127.30000000000001" fill="#e6f4fc"/>
<line x1="388.7" y1="207.7" x2="388.7" y2="335.0" stroke="#555" stroke-width="1"/>
<rect x="315.4" y="207.7" width="129.90000000000003" height="127.30000000000001" fill="none" stroke="#333" stroke-width="1"/>
<circle cx="375.1" cy="240.0" r="3.5" fill="#b86e2c" stroke="#222" stroke-width="0.6"/>
<circle cx="373.0" cy="249.0" r="3.5" fill="#a8683a" stroke="#222" stroke-width="0.6"/>
<circle cx="371.6" cy="246.5" r="3.5" fill="#c79372" stroke="#222" stroke-width="0.6"/>
<circle cx="361.8" cy="251.8" r="3.5" fill="#7418d0" stroke="#222" stroke-width="0.6"/>
<circle cx="363.1" cy="266.0" r="3.5" fill="#8a4ed0" stroke="#222" stroke-width="0.6"/>
<circle cx="357.8" cy="275.5" r="3.5" fill="#6c10d8" stroke="#222" stroke-width="0.6"/>
<circle cx="401.1" cy="212.7" r="3.5" fill="#3a2412" stroke="#222" stroke-width="0.6"/>
<circle cx="418.2" cy="220.7" r="3.5" fill="#0a0a0a" stroke="#222" stroke-width="0.6"/>
<circle cx="403.3" cy="228.4" r="3.5" fill="#0a0a0a" stroke="#222" stroke-width="0.6"/>
<circle cx="407.8" cy="235.1" r="3.5" fill="#d458f0" stroke="#222" stroke-width="0.6"/>
<circle cx="326.0" cy="320.7" r="3.5" fill="#5cbcec" stroke="#222" stroke-width="0.6"/>
<circle cx="332.7" cy="325.6" r="3.5" fill="#3590d8" stroke="#222" stroke-width="0.6"/>
<circle cx="332.2" cy="323.3" r="3.5" fill="#45c3dc" stroke="#222" stroke-width="0.6"/>
<circle cx="341.8" cy="318.9" r="3.5" fill="#2a9cdc" stroke="#222" stroke-width="0.6"/>
<line x1="311.4" y1="207.7" x2="315.4" y2="207.7" stroke="#333" stroke-width="0.9"/>
<line x1="311.4" y1="335.0" x2="315.4" y2="335.0" stroke="#333" stroke-width="0.9"/>
<line x1="315.4" y1="335.0" x2="315.4" y2="338.5" stroke="#333" stroke-width="0.9"/>
<line x1="445.3" y1="335.0" x2="445.3" y2="338.5" stroke="#333" stroke-width="0.9"/>
<text x="310.5" y="211.89999999999998" text-anchor="end" font-size="10.5" fill="#222">0.7</text>
<text x="310.5" y="338.7" text-anchor="end" font-size="10.5" fill="#222">-0.9</text>
<text x="314.4" y="348.1" text-anchor="middle" font-size="10" fill="#222">1.6</text>
<text x="440.6" y="348.7" text-anchor="middle" font-size="10" fill="#222">2.1</text>
<text x="379" y="351" text-anchor="middle" font-size="12.5" fill="#222">PC1 (90.7%)</text>
<text transform="translate(306.2,272.4) rotate(-90)" text-anchor="middle" font-size="12.5" fill="#222">PC2 (6.8%)</text>
<text x="375" y="232" text-anchor="middle" font-size="11.5" fill="#b87838">ES2</text>
<text x="338" y="270" text-anchor="middle" font-size="11.5" fill="#8044c4">OV90</text>
<text x="414.5" y="252" text-anchor="middle" font-size="11.5" fill="#333">TiOSE4</text>
<text x="350.4" y="325" font-size="11.5" fill="#3ab4e4">CaOV3</text>
<rect x="512.8" y="207.8" width="11.5" height="121.30000000000001" fill="#dedfe0"/>
<text transform="translate(522.6,248.3) rotate(-90)" text-anchor="middle" font-size="10.4" fill="#222">Background</text>
<polyline points="513.50,328.33 513.80,328.34 514.10,328.80 514.40,327.92 514.70,328.70 515.00,327.94 515.30,328.80 515.60,328.80 515.90,328.80 516.20,328.57 516.50,328.80 516.80,328.65 517.10,328.48 517.40,328.80 517.70,328.30 518.00,328.62 518.30,328.45 518.60,327.50 518.90,326.59 519.20,327.52 519.50,325.58 519.80,324.51 520.10,324.11 520.40,322.17 520.70,320.83 521.00,319.42 521.30,320.05 521.60,316.88 521.90,315.60 522.20,314.66 522.50,314.58 522.80,310.92 523.10,309.39 523.40,312.13 523.70,307.49 524.00,308.15 524.30,308.75 524.60,310.01 524.90,306.00 525.20,303.87 525.50,306.77 525.80,304.96 526.10,304.89 526.40,306.20 526.70,306.29 527.00,306.72 527.30,306.28 527.60,308.52 527.90,309.10 528.20,307.86 528.50,307.70 528.80,309.32 529.10,309.39 529.40,308.10 529.70,309.04 530.00,310.94 530.30,310.07 530.60,310.15 530.90,311.03 531.20,311.09 531.50,311.45 531.80,309.83 532.10,313.84 532.40,312.61 532.70,311.87 533.00,314.02 533.30,313.68 533.60,313.71 533.90,315.03 534.20,316.50 534.50,315.19 534.80,316.48 535.10,317.25 535.40,314.38 535.70,314.96 536.00,316.28 536.30,314.07 536.60,315.52 536.90,317.07 537.20,316.94 537.50,316.62 537.80,314.46 538.10,318.45 538.40,316.91 538.70,317.21 539.00,317.07 539.30,315.18 539.60,315.54 539.90,315.85 540.20,318.77 540.50,316.41 540.80,317.05 541.10,317.14 541.40,317.99 541.70,318.03 542.00,317.93 542.30,316.69 542.60,315.15 542.90,318.16 543.20,318.35 543.50,319.30 543.80,318.24 544.10,317.91 544.40,318.90 544.70,317.32 545.00,317.87 545.30,317.96 545.60,319.12 545.90,320.72 546.20,319.64 546.50,320.02 546.80,319.31 547.10,319.40 547.40,318.84 547.70,319.04 548.00,317.29 548.30,318.38 548.60,318.37 548.90,320.21 549.20,320.12 549.50,320.57 549.80,320.97 550.10,319.48 550.40,320.67 550.70,321.47 551.00,319.90 551.30,320.86 551.60,319.88 551.90,318.75 552.20,320.23 552.50,319.51 552.80,320.34 553.10,319.92 553.40,320.62 553.70,318.68 554.00,322.17 554.30,321.63 554.60,320.30 554.90,319.91 555.20,320.71 555.50,321.30 555.80,321.16 556.10,321.20 556.40,319.36 556.70,320.09 557.00,322.12 557.30,321.29 557.60,319.95 557.90,320.53 558.20,320.13 558.50,320.53 558.80,322.32 559.10,321.27 559.40,322.39 559.70,321.71 560.00,320.43 560.30,321.14 560.60,323.50 560.90,321.12 561.20,320.94 561.50,322.78 561.80,321.91 562.10,321.87 562.40,323.07 562.70,320.57 563.00,322.32 563.30,321.20 563.60,320.97 563.90,321.47 564.20,323.04 564.50,322.07 564.80,320.79 565.10,321.39 565.40,323.47 565.70,323.12 566.00,321.52 566.30,324.27 566.60,322.16 566.90,321.56 567.20,322.41 567.50,323.27 567.80,323.82 568.10,323.42 568.40,322.34 568.70,322.27 569.00,321.63 569.30,322.72 569.60,322.36 569.90,323.04 570.20,321.93 570.50,322.54 570.80,322.30 571.10,322.09 571.40,322.15 571.70,322.31 572.00,322.23 572.30,323.58 572.60,323.26 572.90,322.24 573.20,323.65 573.50,323.52 573.80,324.42 574.10,323.23 574.40,323.26 574.70,322.94 575.00,323.58 575.30,323.89 575.60,323.69 575.90,323.41 576.20,324.05 576.50,323.74 576.80,323.89 577.10,323.07 577.40,323.94 577.70,323.10 578.00,323.25 578.30,324.02 578.60,325.46 578.90,324.69 579.20,324.02 579.50,323.92 579.80,324.80 580.10,325.11 580.40,325.02 580.70,324.04 581.00,324.34 581.30,323.99 581.60,324.05 581.90,323.68 582.20,324.13 582.50,322.82 582.80,323.52 583.10,324.69 583.40,323.77 583.70,324.82 584.00,323.56 584.30,324.24 584.60,324.80 584.90,323.83 585.20,324.08 585.50,326.32 585.80,324.16 586.10,324.17 586.40,324.29 586.70,324.73 587.00,324.72 587.30,325.44 587.60,325.34 587.90,324.54 588.20,324.60 588.50,323.90 588.80,323.87 589.10,324.42 589.40,325.45 589.70,325.06 590.00,325.55 590.30,325.67 590.60,324.95 590.90,326.50 591.20,324.76 591.50,324.72 591.80,324.88 592.10,325.96 592.40,325.13 592.70,324.75 593.00,325.56 593.30,326.05 593.60,325.25 593.90,325.18 594.20,326.10 594.50,326.06 594.80,326.06 595.10,324.96 595.40,325.67 595.70,325.75 596.00,324.36 596.30,326.35 596.60,325.66 596.90,325.40 597.20,327.12 597.50,325.77 597.80,325.23 598.10,325.69 598.40,326.12 598.70,326.30 599.00,325.77 599.30,325.28 599.60,325.41 599.90,325.36 600.20,325.24 600.50,325.91 600.80,325.63 601.10,325.99 601.40,325.44 601.70,325.44 602.00,325.88 602.30,325.80 602.60,326.76 602.90,325.48 603.20,326.19 603.50,326.05 603.80,325.27 604.10,326.57 604.40,326.23 604.70,324.83 605.00,326.53 605.30,326.76 605.60,325.69 605.90,327.26 606.20,326.32 606.50,325.52 606.80,326.60 607.10,326.04 607.40,325.45 607.70,324.97 608.00,326.47 608.30,325.88 608.60,326.74 608.90,326.60 609.20,326.06 609.50,326.07 609.80,327.49 610.10,327.47 610.40,326.90 610.70,326.24 611.00,325.87 611.30,326.25 611.60,327.51 611.90,326.80 612.20,326.36 612.50,325.81 612.80,326.67 613.10,326.05 613.40,326.61 613.70,327.06 614.00,327.27 614.30,326.73 614.60,326.46 614.90,326.81 615.20,327.77 615.50,326.93 615.80,325.89 616.10,327.66 616.40,326.90 616.70,328.80 617.00,326.51 617.30,326.75 617.60,326.64 617.90,327.06 618.20,326.51 618.50,326.00 618.80,325.76 619.10,326.82 619.40,326.61 619.70,326.59 620.00,328.18 620.30,327.42 620.60,327.61 620.90,326.70 621.20,327.18 621.50,326.90 621.80,326.92 622.10,327.48 622.40,327.41 622.70,327.26 623.00,327.18 623.30,326.29 623.60,326.71 623.90,327.36 624.20,326.96 624.50,326.74 624.80,327.40 625.10,326.69 625.40,326.85 625.70,327.74 626.00,327.06 626.30,328.07 626.60,327.58 626.90,327.76 627.20,327.95 627.50,326.13 627.80,327.31 628.10,326.65 628.40,327.13 628.70,327.34 629.00,328.10 629.30,327.41 629.60,328.34 629.90,327.17 630.20,327.44 630.50,327.53 630.80,328.00 631.10,327.46 631.40,327.16 631.70,327.33 632.00,326.75 632.30,328.20 632.60,327.93 632.90,327.77 633.20,327.69 633.50,327.22 633.80,327.34 634.10,328.00 634.40,327.15 634.70,327.16 635.00,328.43 635.30,328.43 635.60,327.76 635.90,327.89 636.20,327.71 636.50,328.38 636.80,327.39 637.10,327.68 637.40,327.90 637.70,328.41 638.00,327.52 638.30,327.79 638.60,327.41 638.90,327.33 639.20,327.34 639.50,327.74 639.80,328.17 640.10,327.34 640.40,327.40 640.70,327.51 641.00,327.91 641.30,328.10 641.60,327.09 641.90,327.93 642.20,327.24 642.50,328.13 642.80,327.27 643.10,327.22 643.40,327.42 643.70,327.76 644.00,327.28 644.30,327.92 644.60,327.89 644.90,327.86 645.20,327.97 645.50,328.28 645.80,327.47 646.10,327.85 646.40,327.84 646.70,326.81 647.00,328.07 647.30,327.49 647.60,327.52 647.90,327.67 648.20,327.95 648.50,328.07 648.80,328.16 649.10,327.57 649.40,328.28 649.70,328.15 650.00,327.74 650.30,327.94 650.60,328.36 650.90,328.18 651.20,328.32 651.50,328.03 651.80,328.55 652.10,328.80 652.40,328.22 652.70,327.21 653.00,328.80 653.30,327.74 653.60,327.34 653.90,326.86 654.20,328.25 654.50,328.59 654.80,328.55 655.10,327.88 655.40,328.78 655.70,328.04 656.00,327.80 656.30,328.12 656.60,328.20 656.90,328.13 657.20,328.31 657.50,327.06 657.80,328.80 658.10,327.86 658.40,328.46 658.70,327.76 659.00,328.23 659.30,328.08 659.60,327.41 659.90,328.36 660.20,328.49 660.50,327.66 660.80,327.20 661.10,327.90 661.40,327.81 661.70,328.27 662.00,328.22 662.30,328.80 662.60,328.55 662.90,328.13 663.20,328.33 663.50,326.91 663.80,327.85 664.10,327.85 664.40,328.23 664.70,328.44 665.00,328.40 665.30,328.74 665.60,327.99 665.90,328.46 666.20,328.27 666.50,328.34 666.80,328.49 667.10,328.22 667.40,328.45 667.70,328.35 668.00,328.80 668.30,328.33 668.60,328.52 668.90,328.80 669.20,328.68 669.50,328.64 669.80,328.80 670.10,327.97 670.40,328.75 670.70,328.77 671.00,328.64 671.30,328.80 671.60,328.80 671.90,328.80 672.20,328.19 672.50,328.67 672.80,328.24 673.10,328.80 673.40,328.56 673.70,327.94 674.00,328.56 674.30,328.08 674.60,328.80 674.90,328.39" fill="none" stroke="#9e3c5c" stroke-width="1.0" stroke-linejoin="round" opacity="1.0"/>
<polyline points="513.50,328.80 513.80,328.11 514.10,328.47 514.40,328.78 514.70,328.80 515.00,328.75 515.30,328.15 515.60,328.80 515.90,328.32 516.20,328.80 516.50,328.66 516.80,328.80 517.10,328.70 517.40,328.38 517.70,328.22 518.00,328.62 518.30,328.39 518.60,328.22 518.90,327.17 519.20,326.00 519.50,326.17 519.80,324.35 520.10,324.82 520.40,322.64 520.70,323.06 521.00,321.42 521.30,319.64 521.60,317.16 521.90,317.26 522.20,315.82 522.50,313.67 522.80,312.30 523.10,313.18 523.40,311.05 523.70,311.46 524.00,311.99 524.30,308.57 524.60,311.53 524.90,310.28 525.20,308.07 525.50,307.29 525.80,306.55 526.10,308.68 526.40,305.22 526.70,309.31 527.00,308.81 527.30,308.23 527.60,308.74 527.90,309.21 528.20,309.68 528.50,311.16 528.80,309.70 529.10,311.99 529.40,312.16 529.70,311.19 530.00,312.35 530.30,311.48 530.60,312.37 530.90,313.10 531.20,314.80 531.50,313.13 531.80,313.32 532.10,313.79 532.40,313.87 532.70,313.30 533.00,316.41 533.30,314.33 533.60,314.65 533.90,314.83 534.20,316.42 534.50,318.80 534.80,319.13 535.10,317.48 535.40,316.99 535.70,316.75 536.00,315.96 536.30,317.64 536.60,316.98 536.90,319.03 537.20,317.01 537.50,316.45 537.80,315.81 538.10,315.97 538.40,318.19 538.70,318.04 539.00,316.82 539.30,316.58 539.60,318.28 539.90,317.81 540.20,318.42 540.50,318.30 540.80,317.73 541.10,317.00 541.40,318.72 541.70,318.79 542.00,318.96 542.30,319.71 542.60,319.79 542.90,318.67 543.20,319.68 543.50,317.43 543.80,319.95 544.10,319.45 544.40,320.43 544.70,320.50 545.00,318.97 545.30,319.71 545.60,320.80 545.90,319.46 546.20,320.03 546.50,319.51 546.80,320.56 547.10,320.37 547.40,319.49 547.70,319.05 548.00,318.45 548.30,321.03 548.60,320.01 548.90,319.86 549.20,320.05 549.50,319.78 549.80,321.14 550.10,321.15 550.40,318.86 550.70,320.71 551.00,320.88 551.30,320.58 551.60,320.98 551.90,322.30 552.20,321.25 552.50,322.01 552.80,321.92 553.10,319.94 553.40,322.63 553.70,321.42 554.00,321.08 554.30,322.03 554.60,323.19 554.90,320.83 555.20,320.97 555.50,321.85 555.80,320.21 556.10,320.79 556.40,321.76 556.70,322.36 557.00,322.25 557.30,322.53 557.60,322.77 557.90,321.63 558.20,321.76 558.50,321.83 558.80,321.87 559.10,323.04 559.40,322.90 559.70,320.69 560.00,322.71 560.30,321.55 560.60,321.54 560.90,323.43 561.20,323.49 561.50,323.40 561.80,323.05 562.10,323.96 562.40,321.73 562.70,323.28 563.00,322.16 563.30,322.24 563.60,321.50 563.90,323.93 564.20,324.15 564.50,323.51 564.80,322.44 565.10,323.05 565.40,322.14 565.70,322.78 566.00,324.15 566.30,324.25 566.60,323.58 566.90,323.70 567.20,323.06 567.50,323.46 567.80,323.09 568.10,323.61 568.40,322.81 568.70,324.06 569.00,323.18 569.30,323.54 569.60,323.32 569.90,324.58 570.20,324.16 570.50,322.93 570.80,322.86 571.10,324.01 571.40,323.70 571.70,323.48 572.00,323.85 572.30,324.92 572.60,323.69 572.90,324.83 573.20,323.47 573.50,323.69 573.80,324.12 574.10,323.87 574.40,323.60 574.70,323.23 575.00,323.79 575.30,323.77 575.60,324.09 575.90,324.87 576.20,324.53 576.50,325.02 576.80,324.38 577.10,324.58 577.40,324.74 577.70,324.84 578.00,325.08 578.30,324.01 578.60,324.73 578.90,324.61 579.20,325.35 579.50,325.12 579.80,324.18 580.10,324.89 580.40,325.12 580.70,324.69 581.00,325.54 581.30,324.88 581.60,323.85 581.90,324.96 582.20,325.31 582.50,324.24 582.80,325.29 583.10,322.97 583.40,326.24 583.70,323.94 584.00,324.59 584.30,324.72 584.60,324.01 584.90,325.19 585.20,324.39 585.50,324.13 585.80,323.50 586.10,325.54 586.40,325.88 586.70,324.94 587.00,325.29 587.30,326.24 587.60,325.46 587.90,325.99 588.20,325.92 588.50,325.76 588.80,325.65 589.10,326.11 589.40,325.49 589.70,325.46 590.00,324.93 590.30,324.06 590.60,324.84 590.90,325.25 591.20,326.18 591.50,325.29 591.80,324.26 592.10,326.01 592.40,326.39 592.70,325.82 593.00,325.83 593.30,325.85 593.60,325.65 593.90,326.62 594.20,325.21 594.50,325.28 594.80,324.85 595.10,325.49 595.40,325.39 595.70,325.44 596.00,326.01 596.30,326.57 596.60,325.07 596.90,326.03 597.20,325.54 597.50,325.58 597.80,325.74 598.10,326.29 598.40,325.06 598.70,327.05 599.00,326.07 599.30,325.70 599.60,325.18 599.90,326.86 600.20,326.65 600.50,326.78 600.80,326.34 601.10,327.33 601.40,327.24 601.70,327.61 602.00,326.52 602.30,326.90 602.60,326.10 602.90,326.42 603.20,326.16 603.50,326.40 603.80,326.43 604.10,326.41 604.40,326.41 604.70,326.52 605.00,326.19 605.30,326.03 605.60,326.19 605.90,326.88 606.20,326.93 606.50,327.17 606.80,327.99 607.10,325.92 607.40,327.06 607.70,325.78 608.00,326.23 608.30,326.11 608.60,326.64 608.90,327.41 609.20,327.55 609.50,326.86 609.80,327.24 610.10,326.93 610.40,325.95 610.70,327.70 611.00,326.36 611.30,326.42 611.60,326.70 611.90,326.19 612.20,326.39 612.50,327.23 612.80,326.24 613.10,326.44 613.40,325.82 613.70,325.74 614.00,327.05 614.30,327.12 614.60,326.67 614.90,327.90 615.20,326.33 615.50,327.23 615.80,326.52 616.10,326.94 616.40,327.26 616.70,326.20 617.00,327.79 617.30,326.96 617.60,327.06 617.90,326.95 618.20,327.26 618.50,326.36 618.80,326.40 619.10,327.30 619.40,326.99 619.70,326.90 620.00,327.32 620.30,328.04 620.60,326.58 620.90,325.79 621.20,327.01 621.50,326.24 621.80,327.09 622.10,326.70 622.40,327.28 622.70,328.31 623.00,327.23 623.30,326.35 623.60,326.69 623.90,326.73 624.20,326.53 624.50,327.60 624.80,327.47 625.10,327.94 625.40,327.85 625.70,327.33 626.00,327.10 626.30,327.15 626.60,327.43 626.90,327.09 627.20,326.60 627.50,328.76 627.80,328.27 628.10,327.36 628.40,327.28 628.70,327.35 629.00,327.80 629.30,327.40 629.60,326.40 629.90,327.74 630.20,327.90 630.50,326.88 630.80,326.85 631.10,327.58 631.40,327.04 631.70,328.19 632.00,328.10 632.30,326.73 632.60,327.91 632.90,326.89 633.20,327.29 633.50,328.39 633.80,327.54 634.10,328.04 634.40,327.47 634.70,328.77 635.00,327.71 635.30,328.80 635.60,328.02 635.90,327.54 636.20,327.78 636.50,327.61 636.80,328.56 637.10,327.21 637.40,328.23 637.70,328.55 638.00,328.35 638.30,327.09 638.60,328.48 638.90,328.24 639.20,328.40 639.50,327.28 639.80,327.91 640.10,328.44 640.40,327.89 640.70,327.95 641.00,327.63 641.30,327.76 641.60,327.87 641.90,328.80 642.20,327.81 642.50,327.61 642.80,327.35 643.10,328.11 643.40,327.99 643.70,327.64 644.00,327.03 644.30,328.80 644.60,327.84 644.90,327.56 645.20,328.07 645.50,327.48 645.80,327.81 646.10,326.94 646.40,327.66 646.70,326.60 647.00,328.37 647.30,327.93 647.60,327.82 647.90,327.96 648.20,327.25 648.50,327.96 648.80,327.97 649.10,328.42 649.40,327.61 649.70,327.72 650.00,327.95 650.30,328.11 650.60,328.05 650.90,328.15 651.20,328.45 651.50,328.15 651.80,328.20 652.10,327.96 652.40,327.32 652.70,328.33 653.00,327.86 653.30,328.00 653.60,327.45 653.90,328.80 654.20,328.64 654.50,327.93 654.80,328.37 655.10,328.58 655.40,328.80 655.70,328.23 656.00,328.62 656.30,327.72 656.60,328.03 656.90,328.06 657.20,328.01 657.50,327.61 657.80,328.46 658.10,327.72 658.40,327.76 658.70,328.13 659.00,328.80 659.30,328.76 659.60,328.13 659.90,327.68 660.20,327.53 660.50,328.24 660.80,328.62 661.10,328.65 661.40,328.19 661.70,327.87 662.00,328.48 662.30,328.80 662.60,328.27 662.90,328.52 663.20,328.14 663.50,328.20 663.80,328.80 664.10,328.04 664.40,328.80 664.70,328.15 665.00,328.33 665.30,328.73 665.60,328.67 665.90,328.08 666.20,328.31 666.50,328.37 666.80,328.40 667.10,328.35 667.40,328.78 667.70,327.94 668.00,328.80 668.30,328.80 668.60,327.85 668.90,328.41 669.20,328.07 669.50,327.72 669.80,328.47 670.10,328.71 670.40,328.25 670.70,328.61 671.00,328.49 671.30,327.59 671.60,328.40 671.90,328.80 672.20,328.80 672.50,327.95 672.80,327.83 673.10,328.69 673.40,328.40 673.70,328.59 674.00,328.31 674.30,328.80 674.60,328.80 674.90,328.39" fill="none" stroke="#a84466" stroke-width="1.0" stroke-linejoin="round" opacity="1.0"/>
<polyline points="513.50,328.66 513.80,328.80 514.10,328.67 514.40,328.64 514.70,328.42 515.00,328.67 515.30,328.80 515.60,328.80 515.90,328.80 516.20,328.80 516.50,328.80 516.80,327.99 517.10,326.10 517.40,326.71 517.70,325.66 518.00,324.81 518.30,322.40 518.60,321.46 518.90,321.22 519.20,320.67 519.50,320.44 519.80,318.01 520.10,316.39 520.40,313.15 520.70,311.94 521.00,309.90 521.30,306.63 521.60,307.14 521.90,303.71 522.20,302.35 522.50,298.03 522.80,296.12 523.10,294.85 523.40,293.40 523.70,292.61 524.00,290.36 524.30,287.67 524.60,285.21 524.90,285.85 525.20,289.17 525.50,287.33 525.80,289.69 526.10,290.86 526.40,289.25 526.70,292.21 527.00,294.78 527.30,291.44 527.60,294.58 527.90,295.81 528.20,295.88 528.50,298.47 528.80,298.74 529.10,298.00 529.40,301.71 529.70,302.47 530.00,303.74 530.30,305.24 530.60,304.96 530.90,305.63 531.20,305.02 531.50,308.08 531.80,307.71 532.10,308.85 532.40,308.97 532.70,309.99 533.00,310.63 533.30,312.68 533.60,309.51 533.90,310.29 534.20,312.19 534.50,313.59 534.80,312.92 535.10,310.65 535.40,310.24 535.70,313.28 536.00,312.40 536.30,312.22 536.60,314.46 536.90,314.77 537.20,314.05 537.50,314.33 537.80,314.70 538.10,316.00 538.40,315.26 538.70,315.36 539.00,315.58 539.30,313.79 539.60,316.65 539.90,316.54 540.20,316.33 540.50,314.22 540.80,315.65 541.10,317.20 541.40,314.98 541.70,316.65 542.00,317.93 542.30,316.03 542.60,318.83 542.90,318.08 543.20,317.66 543.50,318.27 543.80,318.67 544.10,318.30 544.40,319.27 544.70,317.79 545.00,318.09 545.30,319.43 545.60,318.64 545.90,317.94 546.20,319.59 546.50,320.12 546.80,318.57 547.10,317.87 547.40,319.01 547.70,319.08 548.00,319.04 548.30,320.56 548.60,318.60 548.90,320.60 549.20,318.57 549.50,319.06 549.80,320.33 550.10,320.82 550.40,320.68 550.70,320.34 551.00,320.26 551.30,320.35 551.60,320.78 551.90,320.25 552.20,320.71 552.50,321.03 552.80,320.65 553.10,321.35 553.40,321.27 553.70,322.51 554.00,321.25 554.30,320.73 554.60,320.86 554.90,321.23 555.20,322.06 555.50,321.15 555.80,321.80 556.10,323.02 556.40,319.67 556.70,320.88 557.00,322.03 557.30,322.23 557.60,322.19 557.90,321.76 558.20,322.68 558.50,322.48 558.80,321.95 559.10,324.27 559.40,322.78 559.70,322.19 560.00,322.61 560.30,322.57 560.60,322.74 560.90,320.80 561.20,322.52 561.50,323.67 561.80,322.11 562.10,322.97 562.40,323.77 562.70,323.75 563.00,324.26 563.30,321.97 563.60,323.01 563.90,323.06 564.20,323.81 564.50,324.20 564.80,321.52 565.10,324.29 565.40,322.51 565.70,324.09 566.00,322.58 566.30,323.82 566.60,324.60 566.90,323.69 567.20,323.98 567.50,324.45 567.80,324.04 568.10,323.92 568.40,325.11 568.70,324.82 569.00,323.93 569.30,326.09 569.60,323.43 569.90,324.91 570.20,324.14 570.50,324.46 570.80,324.90 571.10,324.62 571.40,324.95 571.70,323.52 572.00,323.59 572.30,325.05 572.60,324.01 572.90,323.99 573.20,323.71 573.50,325.58 573.80,325.25 574.10,325.77 574.40,324.16 574.70,324.82 575.00,324.08 575.30,325.38 575.60,325.95 575.90,324.32 576.20,325.97 576.50,325.61 576.80,324.86 577.10,323.69 577.40,325.96 577.70,324.98 578.00,324.67 578.30,325.36 578.60,325.39 578.90,326.13 579.20,324.49 579.50,325.93 579.80,326.18 580.10,326.18 580.40,325.14 580.70,324.79 581.00,325.96 581.30,325.40 581.60,325.43 581.90,326.29 582.20,325.22 582.50,323.93 582.80,325.19 583.10,324.26 583.40,326.01 583.70,325.71 584.00,325.14 584.30,325.55 584.60,326.11 584.90,325.65 585.20,326.47 585.50,325.61 585.80,326.33 586.10,326.64 586.40,326.73 586.70,325.31 587.00,326.31 587.30,324.60 587.60,325.12 587.90,324.59 588.20,326.52 588.50,325.10 588.80,325.89 589.10,325.80 589.40,325.92 589.70,325.60 590.00,326.13 590.30,327.12 590.60,326.06 590.90,326.39 591.20,326.70 591.50,325.98 591.80,325.35 592.10,325.81 592.40,326.83 592.70,325.19 593.00,325.85 593.30,326.85 593.60,326.75 593.90,326.29 594.20,326.80 594.50,326.43 594.80,325.64 595.10,325.44 595.40,326.02 595.70,326.98 596.00,326.11 596.30,325.93 596.60,326.03 596.90,325.60 597.20,326.47 597.50,325.86 597.80,326.80 598.10,325.21 598.40,326.82 598.70,326.28 599.00,325.54 599.30,327.12 599.60,326.56 599.90,325.45 600.20,326.25 600.50,326.94 600.80,326.51 601.10,327.24 601.40,327.24 601.70,327.20 602.00,327.01 602.30,327.60 602.60,327.23 602.90,327.12 603.20,325.67 603.50,327.39 603.80,327.64 604.10,326.73 604.40,326.64 604.70,328.03 605.00,325.93 605.30,327.21 605.60,328.34 605.90,326.43 606.20,327.37 606.50,328.06 606.80,326.93 607.10,327.32 607.40,327.53 607.70,326.51 608.00,326.99 608.30,327.21 608.60,327.53 608.90,327.05 609.20,326.97 609.50,326.52 609.80,326.90 610.10,327.61 610.40,327.18 610.70,326.66 611.00,326.67 611.30,328.65 611.60,327.80 611.90,327.53 612.20,325.74 612.50,327.54 612.80,327.48 613.10,328.15 613.40,327.47 613.70,327.20 614.00,327.54 614.30,326.19 614.60,327.84 614.90,327.46 615.20,326.91 615.50,328.03 615.80,328.31 616.10,326.56 616.40,326.97 616.70,327.51 617.00,327.46 617.30,327.15 617.60,326.85 617.90,328.54 618.20,327.96 618.50,326.77 618.80,326.70 619.10,328.35 619.40,327.98 619.70,328.44 620.00,327.90 620.30,327.01 620.60,327.63 620.90,326.34 621.20,327.11 621.50,327.49 621.80,327.81 622.10,327.15 622.40,327.49 622.70,327.81 623.00,327.77 623.30,327.92 623.60,327.70 623.90,327.43 624.20,328.03 624.50,327.65 624.80,327.20 625.10,327.32 625.40,327.66 625.70,327.61 626.00,327.76 626.30,327.69 626.60,327.79 626.90,327.64 627.20,327.07 627.50,327.95 627.80,328.29 628.10,327.98 628.40,327.67 628.70,328.01 629.00,327.29 629.30,326.82 629.60,327.84 629.90,327.34 630.20,328.21 630.50,327.29 630.80,326.51 631.10,327.33 631.40,328.67 631.70,327.69 632.00,327.20 632.30,327.52 632.60,328.18 632.90,328.18 633.20,328.03 633.50,328.69 633.80,328.31 634.10,327.96 634.40,328.28 634.70,328.80 635.00,328.48 635.30,328.52 635.60,327.49 635.90,327.96 636.20,328.40 636.50,327.91 636.80,328.59 637.10,328.37 637.40,328.53 637.70,327.99 638.00,328.80 638.30,328.72 638.60,328.03 638.90,328.18 639.20,328.80 639.50,328.00 639.80,328.59 640.10,328.65 640.40,328.19 640.70,327.63 641.00,328.29 641.30,328.37 641.60,328.74 641.90,328.58 642.20,328.23 642.50,328.63 642.80,328.48 643.10,328.33 643.40,328.26 643.70,328.12 644.00,328.57 644.30,327.75 644.60,327.96 644.90,328.26 645.20,327.58 645.50,328.06 645.80,327.33 646.10,327.96 646.40,328.55 646.70,328.55 647.00,328.27 647.30,328.19 647.60,327.64 647.90,328.80 648.20,328.55 648.50,328.80 648.80,327.91 649.10,328.24 649.40,327.49 649.70,328.70 650.00,328.77 650.30,327.47 650.60,328.33 650.90,328.65 651.20,327.55 651.50,327.53 651.80,327.89 652.10,328.09 652.40,327.74 652.70,328.40 653.00,328.50 653.30,328.68 653.60,328.72 653.90,328.80 654.20,328.80 654.50,327.82 654.80,328.19 655.10,327.95 655.40,327.95 655.70,328.40 656.00,328.44 656.30,328.66 656.60,327.74 656.90,327.90 657.20,328.45 657.50,328.38 657.80,328.33 658.10,328.45 658.40,328.14 658.70,328.79 659.00,328.65 659.30,328.46 659.60,328.20 659.90,328.43 660.20,327.32 660.50,328.09 660.80,328.53 661.10,327.87 661.40,328.61 661.70,328.60 662.00,327.94 662.30,328.43 662.60,328.41 662.90,328.75 663.20,328.80 663.50,328.55 663.80,328.20 664.10,328.51 664.40,328.55 664.70,328.80 665.00,328.71 665.30,328.29 665.60,328.03 665.90,328.44 666.20,328.30 666.50,328.15 666.80,328.57 667.10,328.42 667.40,328.67 667.70,328.80 668.00,328.47 668.30,328.80 668.60,328.51 668.90,328.80 669.20,328.71 669.50,328.80 669.80,327.70 670.10,328.37 670.40,328.77 670.70,328.80 671.00,328.80 671.30,328.80 671.60,328.80 671.90,328.80 672.20,328.80 672.50,328.80 672.80,328.65 673.10,328.80 673.40,328.31 673.70,328.80 674.00,328.35 674.30,328.80 674.60,328.80 674.90,328.67" fill="none" stroke="#e0346a" stroke-width="1.0" stroke-linejoin="round" opacity="1.0"/>
<polyline points="513.50,328.80 513.80,328.80 514.10,328.80 514.40,328.80 514.70,328.80 515.00,328.80 515.30,328.80 515.60,328.75 515.90,328.50 516.20,328.44 516.50,328.35 516.80,328.19 517.10,327.66 517.40,327.61 517.70,326.23 518.00,325.37 518.30,324.92 518.60,323.73 518.90,321.60 519.20,323.10 519.50,321.19 519.80,319.94 520.10,317.69 520.40,318.86 520.70,315.43 521.00,312.91 521.30,309.47 521.60,309.83 521.90,306.03 522.20,306.57 522.50,301.61 522.80,301.82 523.10,301.59 523.40,297.88 523.70,297.61 524.00,296.20 524.30,295.75 524.60,292.36 524.90,293.98 525.20,296.61 525.50,292.66 525.80,294.29 526.10,296.81 526.40,296.15 526.70,296.06 527.00,300.40 527.30,300.61 527.60,301.59 527.90,302.36 528.20,302.72 528.50,301.65 528.80,300.61 529.10,304.86 529.40,303.82 529.70,305.95 530.00,307.15 530.30,306.09 530.60,307.95 530.90,311.05 531.20,310.78 531.50,309.01 531.80,311.35 532.10,312.38 532.40,313.77 532.70,314.53 533.00,313.88 533.30,313.87 533.60,315.14 533.90,313.01 534.20,315.74 534.50,315.10 534.80,314.43 535.10,314.52 535.40,315.48 535.70,313.98 536.00,313.30 536.30,316.10 536.60,317.30 536.90,315.91 537.20,316.27 537.50,316.37 537.80,315.63 538.10,317.09 538.40,317.64 538.70,317.06 539.00,318.03 539.30,316.41 539.60,317.76 539.90,316.99 540.20,317.40 540.50,318.25 540.80,318.32 541.10,319.10 541.40,319.09 541.70,317.61 542.00,319.97 542.30,317.60 542.60,319.06 542.90,319.57 543.20,319.40 543.50,320.06 543.80,319.75 544.10,318.95 544.40,320.56 544.70,319.89 545.00,319.22 545.30,320.12 545.60,320.12 545.90,320.50 546.20,319.80 546.50,320.50 546.80,320.27 547.10,321.83 547.40,320.27 547.70,321.70 548.00,320.65 548.30,321.72 548.60,322.76 548.90,320.62 549.20,321.12 549.50,320.34 549.80,320.57 550.10,320.76 550.40,321.37 550.70,322.11 551.00,322.15 551.30,321.12 551.60,321.70 551.90,320.49 552.20,322.18 552.50,321.60 552.80,321.01 553.10,321.36 553.40,322.46 553.70,322.16 554.00,322.65 554.30,321.88 554.60,322.42 554.90,322.19 555.20,321.27 555.50,322.39 555.80,322.48 556.10,322.14 556.40,323.33 556.70,324.43 557.00,323.95 557.30,322.98 557.60,322.15 557.90,322.95 558.20,322.69 558.50,323.35 558.80,324.19 559.10,323.34 559.40,322.41 559.70,324.51 560.00,323.64 560.30,324.63 560.60,323.04 560.90,325.53 561.20,322.87 561.50,323.90 561.80,324.43 562.10,322.03 562.40,323.36 562.70,322.82 563.00,325.23 563.30,324.54 563.60,323.41 563.90,322.89 564.20,322.93 564.50,324.33 564.80,323.68 565.10,324.55 565.40,323.96 565.70,323.18 566.00,325.68 566.30,324.79 566.60,324.01 566.90,324.30 567.20,325.49 567.50,325.19 567.80,323.80 568.10,325.71 568.40,324.32 568.70,325.18 569.00,324.00 569.30,324.41 569.60,325.44 569.90,324.13 570.20,325.04 570.50,325.30 570.80,324.62 571.10,326.08 571.40,325.60 571.70,325.10 572.00,325.91 572.30,326.16 572.60,326.10 572.90,325.21 573.20,325.85 573.50,325.59 573.80,324.62 574.10,325.14 574.40,326.73 574.70,324.89 575.00,325.75 575.30,326.56 575.60,325.22 575.90,325.48 576.20,325.02 576.50,325.86 576.80,324.75 577.10,325.86 577.40,325.05 577.70,325.82 578.00,324.51 578.30,324.93 578.60,326.26 578.90,326.06 579.20,323.74 579.50,326.70 579.80,325.21 580.10,326.33 580.40,326.43 580.70,325.69 581.00,325.57 581.30,324.61 581.60,326.15 581.90,327.06 582.20,325.10 582.50,326.63 582.80,326.40 583.10,326.55 583.40,325.30 583.70,325.92 584.00,326.17 584.30,327.11 584.60,325.46 584.90,325.74 585.20,325.61 585.50,326.64 585.80,325.14 586.10,326.02 586.40,325.35 586.70,325.97 587.00,326.67 587.30,325.89 587.60,326.67 587.90,325.97 588.20,326.25 588.50,326.20 588.80,325.77 589.10,326.59 589.40,326.75 589.70,325.89 590.00,326.81 590.30,326.48 590.60,326.17 590.90,326.55 591.20,326.97 591.50,326.94 591.80,327.41 592.10,326.69 592.40,326.68 592.70,325.67 593.00,326.27 593.30,326.96 593.60,325.96 593.90,326.09 594.20,327.75 594.50,326.64 594.80,326.05 595.10,325.47 595.40,326.23 595.70,328.12 596.00,326.77 596.30,327.16 596.60,327.21 596.90,326.56 597.20,327.06 597.50,326.91 597.80,326.71 598.10,327.51 598.40,326.46 598.70,326.52 599.00,326.60 599.30,327.69 599.60,326.74 599.90,328.06 600.20,326.29 600.50,326.49 600.80,325.57 601.10,326.55 601.40,327.13 601.70,327.49 602.00,326.54 602.30,326.82 602.60,327.92 602.90,326.85 603.20,327.19 603.50,327.50 603.80,326.61 604.10,327.85 604.40,327.06 604.70,327.62 605.00,327.03 605.30,327.35 605.60,327.89 605.90,327.34 606.20,326.21 606.50,327.08 606.80,327.03 607.10,327.15 607.40,327.37 607.70,326.37 608.00,328.25 608.30,326.82 608.60,328.01 608.90,327.10 609.20,327.12 609.50,327.26 609.80,327.14 610.10,327.65 610.40,328.03 610.70,328.36 611.00,328.39 611.30,326.71 611.60,327.75 611.90,327.67 612.20,327.37 612.50,327.58 612.80,327.44 613.10,326.82 613.40,326.99 613.70,327.97 614.00,327.43 614.30,328.22 614.60,327.24 614.90,327.18 615.20,327.56 615.50,327.57 615.80,328.04 616.10,327.25 616.40,327.97 616.70,327.74 617.00,327.09 617.30,327.47 617.60,327.48 617.90,328.12 618.20,328.25 618.50,327.97 618.80,327.33 619.10,328.01 619.40,327.72 619.70,327.33 620.00,328.04 620.30,327.26 620.60,327.51 620.90,327.13 621.20,326.96 621.50,327.88 621.80,326.88 622.10,327.37 622.40,327.53 622.70,327.97 623.00,327.39 623.30,328.12 623.60,327.34 623.90,327.36 624.20,327.35 624.50,327.53 624.80,327.42 625.10,327.08 625.40,327.43 625.70,327.39 626.00,328.37 626.30,327.30 626.60,328.01 626.90,327.39 627.20,328.30 627.50,327.81 627.80,327.59 628.10,328.47 628.40,328.66 628.70,328.68 629.00,328.40 629.30,327.96 629.60,327.60 629.90,327.71 630.20,327.68 630.50,328.22 630.80,327.76 631.10,328.10 631.40,328.09 631.70,327.95 632.00,327.69 632.30,327.50 632.60,328.80 632.90,327.98 633.20,327.26 633.50,327.45 633.80,327.76 634.10,328.80 634.40,328.16 634.70,327.65 635.00,328.80 635.30,327.21 635.60,328.68 635.90,328.80 636.20,328.15 636.50,328.63 636.80,328.49 637.10,326.78 637.40,328.35 637.70,327.92 638.00,326.88 638.30,328.63 638.60,327.94 638.90,328.39 639.20,328.45 639.50,327.96 639.80,327.14 640.10,328.05 640.40,327.90 640.70,327.71 641.00,327.89 641.30,328.27 641.60,328.80 641.90,328.33 642.20,328.40 642.50,328.80 642.80,328.52 643.10,328.20 643.40,328.00 643.70,327.75 644.00,328.75 644.30,328.28 644.60,328.80 644.90,327.96 645.20,328.05 645.50,328.52 645.80,328.80 646.10,328.26 646.40,328.07 646.70,328.59 647.00,327.74 647.30,328.80 647.60,327.78 647.90,327.65 648.20,328.40 648.50,328.12 648.80,328.80 649.10,328.75 649.40,328.60 649.70,327.46 650.00,328.37 650.30,328.01 650.60,327.51 650.90,328.80 651.20,327.54 651.50,327.96 651.80,328.01 652.10,328.12 652.40,328.50 652.70,328.62 653.00,327.86 653.30,328.62 653.60,328.73 653.90,328.59 654.20,328.80 654.50,328.22 654.80,328.30 655.10,328.26 655.40,327.95 655.70,328.43 656.00,328.80 656.30,328.73 656.60,328.48 656.90,328.55 657.20,328.80 657.50,328.80 657.80,327.68 658.10,327.91 658.40,328.80 658.70,328.80 659.00,328.80 659.30,328.80 659.60,328.04 659.90,327.99 660.20,328.74 660.50,328.01 660.80,328.60 661.10,328.80 661.40,327.78 661.70,328.79 662.00,328.80 662.30,328.80 662.60,328.38 662.90,328.17 663.20,328.59 663.50,328.04 663.80,328.65 664.10,328.44 664.40,328.47 664.70,328.80 665.00,328.61 665.30,328.35 665.60,328.54 665.90,328.51 666.20,328.51 666.50,328.42 666.80,328.80 667.10,328.46 667.40,328.80 667.70,328.80 668.00,328.80 668.30,328.80 668.60,328.11 668.90,328.80 669.20,328.48 669.50,328.23 669.80,328.74 670.10,328.75 670.40,327.87 670.70,328.12 671.00,328.54 671.30,328.53 671.60,328.26 671.90,328.31 672.20,328.69 672.50,328.30 672.80,328.80 673.10,328.80 673.40,328.51 673.70,328.80 674.00,328.80 674.30,328.16 674.60,328.71 674.90,328.80" fill="none" stroke="#e04a78" stroke-width="1.0" stroke-linejoin="round" opacity="1.0"/>
<polyline points="513.50,328.78 513.80,328.80 514.10,328.41 514.40,328.80 514.70,328.66 515.00,328.66 515.30,328.80 515.60,328.80 515.90,328.73 516.20,328.80 516.50,328.80 516.80,328.74 517.10,328.80 517.40,328.40 517.70,328.62 518.00,328.59 518.30,327.22 518.60,326.18 518.90,325.19 519.20,325.17 519.50,324.35 519.80,323.38 520.10,322.50 520.40,319.59 520.70,318.81 521.00,317.31 521.30,316.02 521.60,312.71 521.90,311.34 522.20,307.86 522.50,307.64 522.80,303.97 523.10,303.21 523.40,304.91 523.70,299.90 524.00,302.24 524.30,300.52 524.60,298.57 524.90,298.35 525.20,297.27 525.50,296.76 525.80,295.89 526.10,296.19 526.40,296.92 526.70,297.20 527.00,299.10 527.30,298.96 527.60,301.92 527.90,299.18 528.20,301.00 528.50,302.15 528.80,301.83 529.10,307.31 529.40,303.47 529.70,306.79 530.00,307.50 530.30,310.78 530.60,307.92 530.90,312.05 531.20,311.18 531.50,312.72 531.80,313.19 532.10,315.17 532.40,313.73 532.70,314.97 533.00,315.62 533.30,317.24 533.60,313.54 533.90,317.41 534.20,317.12 534.50,316.05 534.80,317.01 535.10,316.55 535.40,318.68 535.70,317.64 536.00,317.50 536.30,317.73 536.60,318.00 536.90,318.26 537.20,317.90 537.50,320.65 537.80,317.52 538.10,316.34 538.40,319.52 538.70,319.74 539.00,320.41 539.30,320.17 539.60,320.46 539.90,321.09 540.20,321.72 540.50,320.66 540.80,320.80 541.10,322.70 541.40,321.65 541.70,320.53 542.00,323.21 542.30,322.06 542.60,321.06 542.90,320.68 543.20,321.90 543.50,321.09 543.80,320.99 544.10,320.88 544.40,321.56 544.70,322.87 545.00,321.76 545.30,321.06 545.60,322.74 545.90,322.36 546.20,323.02 546.50,323.36 546.80,322.39 547.10,322.48 547.40,322.63 547.70,321.89 548.00,323.30 548.30,323.89 548.60,323.08 548.90,322.84 549.20,322.90 549.50,322.59 549.80,322.65 550.10,323.01 550.40,322.77 550.70,323.13 551.00,322.38 551.30,323.84 551.60,323.70 551.90,322.91 552.20,322.17 552.50,323.87 552.80,324.72 553.10,323.50 553.40,323.75 553.70,323.76 554.00,324.69 554.30,323.67 554.60,325.05 554.90,324.24 555.20,325.12 555.50,324.54 555.80,324.39 556.10,323.57 556.40,324.14 556.70,324.46 557.00,325.12 557.30,324.87 557.60,324.26 557.90,325.04 558.20,325.45 558.50,324.72 558.80,324.55 559.10,324.62 559.40,325.45 559.70,325.30 560.00,324.35 560.30,325.25 560.60,324.71 560.90,324.56 561.20,325.91 561.50,325.66 561.80,324.67 562.10,325.23 562.40,325.54 562.70,324.82 563.00,325.19 563.30,325.73 563.60,324.16 563.90,325.57 564.20,325.87 564.50,325.74 564.80,324.58 565.10,325.68 565.40,324.95 565.70,325.90 566.00,325.96 566.30,325.74 566.60,325.14 566.90,325.28 567.20,326.23 567.50,325.15 567.80,326.06 568.10,326.10 568.40,325.63 568.70,327.34 569.00,325.91 569.30,327.24 569.60,324.67 569.90,324.56 570.20,326.60 570.50,326.41 570.80,325.85 571.10,326.04 571.40,324.94 571.70,325.75 572.00,325.53 572.30,326.06 572.60,326.77 572.90,326.29 573.20,326.51 573.50,325.89 573.80,326.08 574.10,326.44 574.40,326.24 574.70,327.19 575.00,325.94 575.30,327.62 575.60,325.94 575.90,327.19 576.20,326.13 576.50,327.59 576.80,326.73 577.10,326.91 577.40,327.14 577.70,326.37 578.00,326.16 578.30,325.62 578.60,327.53 578.90,326.46 579.20,326.55 579.50,326.90 579.80,328.08 580.10,325.98 580.40,327.12 580.70,326.76 581.00,327.30 581.30,325.98 581.60,326.79 581.90,327.50 582.20,327.92 582.50,327.95 582.80,326.57 583.10,327.09 583.40,327.01 583.70,326.30 584.00,326.28 584.30,327.52 584.60,327.24 584.90,327.04 585.20,327.81 585.50,326.57 585.80,327.44 586.10,327.16 586.40,327.13 586.70,327.44 587.00,327.28 587.30,327.34 587.60,327.34 587.90,328.28 588.20,327.04 588.50,327.79 588.80,327.57 589.10,327.05 589.40,327.69 589.70,326.79 590.00,327.91 590.30,326.83 590.60,327.02 590.90,327.47 591.20,327.76 591.50,327.81 591.80,327.81 592.10,327.22 592.40,326.82 592.70,327.65 593.00,327.53 593.30,326.85 593.60,327.91 593.90,327.50 594.20,326.88 594.50,327.65 594.80,326.70 595.10,326.95 595.40,327.65 595.70,326.60 596.00,327.47 596.30,326.73 596.60,327.87 596.90,327.09 597.20,327.59 597.50,326.69 597.80,327.32 598.10,328.02 598.40,327.77 598.70,326.55 599.00,328.04 599.30,328.03 599.60,327.36 599.90,328.32 600.20,327.02 600.50,327.54 600.80,328.19 601.10,328.30 601.40,328.29 601.70,327.05 602.00,326.70 602.30,327.85 602.60,326.90 602.90,327.59 603.20,327.00 603.50,328.23 603.80,328.11 604.10,327.99 604.40,327.72 604.70,327.74 605.00,327.57 605.30,327.93 605.60,327.87 605.90,327.99 606.20,327.54 606.50,328.75 606.80,327.92 607.10,328.51 607.40,328.48 607.70,327.36 608.00,326.95 608.30,328.47 608.60,327.64 608.90,327.88 609.20,327.72 609.50,327.93 609.80,327.27 610.10,327.83 610.40,327.65 610.70,327.89 611.00,326.73 611.30,328.33 611.60,328.09 611.90,327.07 612.20,327.57 612.50,327.97 612.80,328.28 613.10,327.97 613.40,328.67 613.70,328.00 614.00,327.50 614.30,327.67 614.60,328.38 614.90,327.72 615.20,328.45 615.50,328.55 615.80,328.34 616.10,328.56 616.40,327.98 616.70,328.07 617.00,327.80 617.30,327.80 617.60,327.35 617.90,327.85 618.20,327.61 618.50,327.44 618.80,328.21 619.10,328.37 619.40,328.00 619.70,328.80 620.00,328.63 620.30,328.68 620.60,327.90 620.90,327.48 621.20,328.46 621.50,328.34 621.80,328.54 622.10,328.40 622.40,328.80 622.70,328.07 623.00,328.53 623.30,327.79 623.60,327.12 623.90,328.01 624.20,328.80 624.50,327.43 624.80,328.71 625.10,327.91 625.40,328.05 625.70,328.26 626.00,328.34 626.30,327.79 626.60,328.31 626.90,328.46 627.20,328.65 627.50,327.90 627.80,328.80 628.10,328.80 628.40,328.80 628.70,327.64 629.00,328.35 629.30,327.41 629.60,328.46 629.90,328.54 630.20,327.75 630.50,327.55 630.80,328.38 631.10,328.59 631.40,327.93 631.70,328.18 632.00,327.13 632.30,327.98 632.60,328.38 632.90,328.38 633.20,328.80 633.50,327.79 633.80,327.28 634.10,328.53 634.40,328.06 634.70,328.46 635.00,328.67 635.30,328.61 635.60,328.80 635.90,328.80 636.20,327.58 636.50,328.32 636.80,328.80 637.10,328.17 637.40,328.80 637.70,328.34 638.00,328.17 638.30,328.80 638.60,328.80 638.90,328.26 639.20,328.79 639.50,327.78 639.80,328.05 640.10,328.80 640.40,328.41 640.70,327.91 641.00,328.60 641.30,328.55 641.60,328.80 641.90,328.80 642.20,328.29 642.50,328.19 642.80,328.35 643.10,328.32 643.40,328.80 643.70,328.80 644.00,328.80 644.30,328.60 644.60,328.32 644.90,328.80 645.20,328.28 645.50,328.55 645.80,327.70 646.10,328.26 646.40,328.80 646.70,328.00 647.00,327.80 647.30,328.39 647.60,328.80 647.90,328.80 648.20,328.31 648.50,328.26 648.80,328.43 649.10,328.07 649.40,328.50 649.70,328.36 650.00,327.84 650.30,328.24 650.60,328.38 650.90,328.12 651.20,328.01 651.50,328.80 651.80,328.80 652.10,328.39 652.40,328.33 652.70,328.74 653.00,328.42 653.30,328.18 653.60,328.80 653.90,328.08 654.20,328.22 654.50,328.25 654.80,328.16 655.10,328.44 655.40,328.79 655.70,328.80 656.00,328.80 656.30,328.57 656.60,328.02 656.90,328.54 657.20,328.16 657.50,328.53 657.80,328.80 658.10,328.66 658.40,328.49 658.70,328.26 659.00,328.57 659.30,328.63 659.60,328.20 659.90,328.38 660.20,328.80 660.50,327.90 660.80,328.42 661.10,328.12 661.40,328.80 661.70,328.80 662.00,328.80 662.30,328.78 662.60,328.74 662.90,328.75 663.20,327.97 663.50,328.74 663.80,328.80 664.10,328.05 664.40,328.80 664.70,328.80 665.00,328.02 665.30,328.46 665.60,328.53 665.90,328.44 666.20,328.80 666.50,328.14 666.80,328.57 667.10,328.76 667.40,328.80 667.70,328.69 668.00,328.58 668.30,328.80 668.60,327.89 668.90,328.80 669.20,328.57 669.50,328.20 669.80,328.53 670.10,327.97 670.40,327.90 670.70,328.58 671.00,328.40 671.30,328.80 671.60,328.37 671.90,328.22 672.20,328.35 672.50,328.80 672.80,328.74 673.10,328.50 673.40,328.36 673.70,328.32 674.00,328.68 674.30,328.80 674.60,328.80 674.90,328.80" fill="none" stroke="#eba0b8" stroke-width="1.0" stroke-linejoin="round" opacity="1.0"/>
<polyline points="513.50,328.76 513.80,328.80 514.10,328.58 514.40,328.80 514.70,328.80 515.00,328.80 515.30,328.80 515.60,328.43 515.90,328.77 516.20,328.50 516.50,328.47 516.80,328.68 517.10,328.80 517.40,328.80 517.70,328.80 518.00,328.80 518.30,328.49 518.60,326.51 518.90,326.82 519.20,325.62 519.50,324.99 519.80,325.53 520.10,323.55 520.40,320.80 520.70,321.10 521.00,319.18 521.30,316.97 521.60,315.74 521.90,314.56 522.20,313.70 522.50,311.87 522.80,310.94 523.10,311.53 523.40,307.81 523.70,306.85 524.00,306.52 524.30,307.07 524.60,304.12 524.90,305.61 525.20,301.52 525.50,300.89 525.80,302.63 526.10,302.29 526.40,303.18 526.70,304.99 527.00,305.89 527.30,305.80 527.60,305.96 527.90,308.34 528.20,308.01 528.50,308.10 528.80,310.40 529.10,308.95 529.40,310.83 529.70,312.10 530.00,312.19 530.30,312.40 530.60,314.08 530.90,314.00 531.20,314.72 531.50,315.11 531.80,318.00 532.10,316.91 532.40,318.61 532.70,318.12 533.00,317.75 533.30,318.75 533.60,318.60 533.90,318.67 534.20,317.57 534.50,319.00 534.80,319.89 535.10,319.74 535.40,320.35 535.70,320.95 536.00,320.24 536.30,321.72 536.60,319.05 536.90,320.29 537.20,318.64 537.50,321.52 537.80,321.13 538.10,322.59 538.40,321.16 538.70,320.06 539.00,322.82 539.30,320.99 539.60,321.25 539.90,322.28 540.20,322.98 540.50,322.19 540.80,322.76 541.10,321.28 541.40,324.03 541.70,322.75 542.00,322.94 542.30,323.34 542.60,323.09 542.90,323.17 543.20,322.40 543.50,323.05 543.80,323.51 544.10,324.01 544.40,323.22 544.70,323.43 545.00,323.67 545.30,323.89 545.60,323.69 545.90,323.41 546.20,323.29 546.50,324.51 546.80,323.98 547.10,323.84 547.40,326.34 547.70,324.56 548.00,324.59 548.30,324.16 548.60,323.40 548.90,324.96 549.20,324.16 549.50,324.32 549.80,325.05 550.10,325.09 550.40,324.62 550.70,324.52 551.00,325.99 551.30,325.01 551.60,323.98 551.90,325.24 552.20,324.89 552.50,324.87 552.80,325.36 553.10,325.12 553.40,326.35 553.70,325.21 554.00,325.30 554.30,325.95 554.60,324.88 554.90,325.97 555.20,325.30 555.50,326.13 555.80,324.84 556.10,325.69 556.40,324.40 556.70,325.18 557.00,325.50 557.30,325.83 557.60,326.80 557.90,326.74 558.20,324.72 558.50,325.12 558.80,326.43 559.10,325.93 559.40,324.81 559.70,326.01 560.00,325.01 560.30,325.21 560.60,324.98 560.90,325.63 561.20,327.24 561.50,326.08 561.80,325.80 562.10,327.47 562.40,325.63 562.70,325.85 563.00,325.80 563.30,326.25 563.60,325.82 563.90,326.94 564.20,325.88 564.50,326.43 564.80,326.25 565.10,325.61 565.40,325.56 565.70,326.15 566.00,324.81 566.30,326.24 566.60,326.30 566.90,326.36 567.20,326.25 567.50,326.54 567.80,326.14 568.10,326.76 568.40,325.42 568.70,326.97 569.00,325.92 569.30,326.76 569.60,326.22 569.90,326.26 570.20,326.07 570.50,327.36 570.80,325.95 571.10,325.90 571.40,326.76 571.70,326.81 572.00,326.71 572.30,326.15 572.60,326.35 572.90,327.28 573.20,326.18 573.50,327.16 573.80,327.25 574.10,326.93 574.40,326.18 574.70,327.99 575.00,327.00 575.30,327.06 575.60,326.76 575.90,326.46 576.20,326.87 576.50,327.16 576.80,326.59 577.10,327.16 577.40,327.76 577.70,327.38 578.00,327.11 578.30,327.77 578.60,327.72 578.90,327.73 579.20,326.82 579.50,326.29 579.80,327.74 580.10,327.36 580.40,327.13 580.70,327.61 581.00,327.10 581.30,327.02 581.60,328.34 581.90,326.51 582.20,327.83 582.50,327.93 582.80,328.35 583.10,327.54 583.40,327.68 583.70,326.92 584.00,327.44 584.30,326.30 584.60,327.13 584.90,327.43 585.20,327.39 585.50,327.20 585.80,328.09 586.10,326.62 586.40,327.55 586.70,327.27 587.00,327.51 587.30,327.53 587.60,328.55 587.90,326.95 588.20,328.24 588.50,328.28 588.80,327.47 589.10,327.22 589.40,326.90 589.70,327.10 590.00,328.65 590.30,326.43 590.60,327.82 590.90,327.22 591.20,328.59 591.50,327.77 591.80,326.90 592.10,327.35 592.40,327.73 592.70,327.70 593.00,327.14 593.30,327.50 593.60,327.41 593.90,327.91 594.20,327.81 594.50,327.79 594.80,327.38 595.10,328.10 595.40,327.41 595.70,327.27 596.00,327.49 596.30,327.55 596.60,327.57 596.90,326.74 597.20,328.44 597.50,328.07 597.80,328.44 598.10,327.56 598.40,328.16 598.70,327.88 599.00,327.80 599.30,328.71 599.60,327.50 599.90,328.10 600.20,326.93 600.50,328.11 600.80,327.74 601.10,327.32 601.40,327.54 601.70,326.78 602.00,327.32 602.30,327.95 602.60,326.54 602.90,328.43 603.20,328.38 603.50,327.52 603.80,327.16 604.10,327.21 604.40,327.27 604.70,327.55 605.00,328.80 605.30,327.37 605.60,328.32 605.90,328.57 606.20,327.49 606.50,327.83 606.80,328.31 607.10,327.66 607.40,328.61 607.70,328.80 608.00,327.98 608.30,327.60 608.60,328.31 608.90,328.19 609.20,327.66 609.50,327.97 609.80,328.09 610.10,328.30 610.40,328.62 610.70,327.83 611.00,327.44 611.30,327.29 611.60,328.80 611.90,327.89 612.20,327.91 612.50,328.80 612.80,328.66 613.10,328.80 613.40,328.05 613.70,327.81 614.00,327.89 614.30,328.47 614.60,328.36 614.90,328.36 615.20,328.80 615.50,328.80 615.80,327.67 616.10,328.41 616.40,328.49 616.70,327.86 617.00,328.80 617.30,328.66 617.60,328.80 617.90,327.99 618.20,327.71 618.50,328.61 618.80,328.17 619.10,328.00 619.40,328.24 619.70,328.38 620.00,328.36 620.30,328.20 620.60,328.52 620.90,328.80 621.20,328.80 621.50,328.07 621.80,328.80 622.10,328.09 622.40,327.60 622.70,327.67 623.00,327.37 623.30,328.80 623.60,327.81 623.90,327.66 624.20,328.07 624.50,328.23 624.80,327.76 625.10,328.07 625.40,328.33 625.70,328.64 626.00,327.90 626.30,328.60 626.60,328.46 626.90,328.60 627.20,328.10 627.50,327.82 627.80,328.80 628.10,328.62 628.40,328.05 628.70,328.00 629.00,328.68 629.30,328.80 629.60,328.54 629.90,328.80 630.20,328.52 630.50,328.53 630.80,328.60 631.10,328.80 631.40,327.70 631.70,328.46 632.00,328.80 632.30,327.68 632.60,328.50 632.90,328.74 633.20,328.80 633.50,328.80 633.80,328.39 634.10,328.80 634.40,327.91 634.70,327.78 635.00,328.80 635.30,328.72 635.60,327.91 635.90,328.80 636.20,328.80 636.50,328.76 636.80,328.23 637.10,327.86 637.40,327.68 637.70,328.34 638.00,328.37 638.30,328.21 638.60,328.19 638.90,328.80 639.20,327.94 639.50,328.12 639.80,328.80 640.10,328.17 640.40,328.18 640.70,328.80 641.00,327.66 641.30,328.80 641.60,327.90 641.90,328.10 642.20,327.90 642.50,328.05 642.80,328.15 643.10,328.80 643.40,328.46 643.70,328.80 644.00,328.80 644.30,327.94 644.60,328.50 644.90,328.23 645.20,328.31 645.50,328.56 645.80,328.67 646.10,328.70 646.40,327.58 646.70,328.44 647.00,328.31 647.30,328.80 647.60,328.41 647.90,328.51 648.20,328.53 648.50,328.80 648.80,328.03 649.10,328.48 649.40,328.48 649.70,328.53 650.00,328.43 650.30,328.31 650.60,328.58 650.90,327.97 651.20,328.80 651.50,328.55 651.80,327.77 652.10,328.43 652.40,328.80 652.70,328.48 653.00,328.50 653.30,327.58 653.60,328.80 653.90,328.60 654.20,327.73 654.50,328.38 654.80,328.80 655.10,328.74 655.40,327.95 655.70,328.35 656.00,328.69 656.30,328.80 656.60,328.70 656.90,328.80 657.20,328.46 657.50,328.62 657.80,328.18 658.10,328.05 658.40,328.04 658.70,328.36 659.00,328.80 659.30,328.60 659.60,328.80 659.90,328.80 660.20,328.69 660.50,328.42 660.80,328.80 661.10,328.80 661.40,328.80 661.70,328.80 662.00,328.80 662.30,328.74 662.60,328.80 662.90,328.80 663.20,328.80 663.50,328.23 663.80,327.91 664.10,328.46 664.40,328.66 664.70,328.42 665.00,328.80 665.30,328.80 665.60,328.66 665.90,328.70 666.20,328.80 666.50,328.80 666.80,328.80 667.10,328.53 667.40,328.80 667.70,328.23 668.00,327.96 668.30,328.80 668.60,328.80 668.90,328.80 669.20,328.80 669.50,328.80 669.80,328.80 670.10,328.80 670.40,328.80 670.70,328.80 671.00,328.79 671.30,328.20 671.60,328.80 671.90,328.44 672.20,328.50 672.50,328.80 672.80,328.72 673.10,328.80 673.40,328.80 673.70,328.80 674.00,328.57 674.30,328.80 674.60,328.73 674.90,328.80" fill="none" stroke="#e8a8bd" stroke-width="1.0" stroke-linejoin="round" opacity="1.0"/>
<polyline points="513.50,328.80 513.80,328.80 514.10,328.77 514.40,328.47 514.70,328.36 515.00,328.76 515.30,328.38 515.60,328.23 515.90,328.80 516.20,328.80 516.50,328.80 516.80,328.42 517.10,328.75 517.40,328.73 517.70,328.21 518.00,328.80 518.30,328.80 518.60,328.80 518.90,328.80 519.20,328.40 519.50,328.64 519.80,327.71 520.10,327.69 520.40,326.54 520.70,326.46 521.00,326.54 521.30,325.22 521.60,323.71 521.90,321.66 522.20,321.68 522.50,320.25 522.80,319.66 523.10,318.10 523.40,317.75 523.70,315.58 524.00,314.67 524.30,314.06 524.60,311.26 524.90,310.86 525.20,309.68 525.50,311.22 525.80,307.96 526.10,308.20 526.40,308.59 526.70,308.05 527.00,307.13 527.30,310.22 527.60,309.20 527.90,310.81 528.20,309.25 528.50,310.74 528.80,313.04 529.10,313.79 529.40,311.67 529.70,312.24 530.00,314.08 530.30,315.41 530.60,315.45 530.90,316.17 531.20,315.58 531.50,317.59 531.80,318.64 532.10,317.73 532.40,317.05 532.70,317.83 533.00,319.33 533.30,317.38 533.60,318.97 533.90,318.40 534.20,319.31 534.50,319.41 534.80,319.81 535.10,321.22 535.40,320.52 535.70,321.45 536.00,320.43 536.30,320.35 536.60,321.22 536.90,318.85 537.20,321.26 537.50,321.61 537.80,320.71 538.10,322.22 538.40,321.61 538.70,320.36 539.00,322.26 539.30,321.87 539.60,322.41 539.90,322.87 540.20,324.00 540.50,323.21 540.80,323.17 541.10,323.54 541.40,321.99 541.70,324.27 542.00,322.64 542.30,323.80 542.60,322.73 542.90,322.89 543.20,323.37 543.50,325.06 543.80,324.26 544.10,323.39 544.40,323.68 544.70,323.13 545.00,323.97 545.30,323.65 545.60,324.61 545.90,323.22 546.20,323.99 546.50,323.70 546.80,323.84 547.10,324.88 547.40,324.54 547.70,324.91 548.00,325.38 548.30,325.40 548.60,323.75 548.90,325.10 549.20,323.61 549.50,324.81 549.80,326.19 550.10,324.84 550.40,324.78 550.70,325.19 551.00,325.15 551.30,325.21 551.60,324.75 551.90,326.01 552.20,325.94 552.50,325.28 552.80,325.68 553.10,325.96 553.40,326.25 553.70,325.90 554.00,326.15 554.30,325.60 554.60,325.15 554.90,325.57 555.20,326.55 555.50,326.54 555.80,326.04 556.10,325.62 556.40,326.19 556.70,327.05 557.00,326.88 557.30,325.64 557.60,326.06 557.90,325.21 558.20,325.43 558.50,326.26 558.80,326.18 559.10,326.78 559.40,326.98 559.70,326.74 560.00,327.06 560.30,325.94 560.60,325.61 560.90,326.62 561.20,327.96 561.50,326.58 561.80,325.69 562.10,326.55 562.40,327.28 562.70,325.83 563.00,326.95 563.30,326.12 563.60,327.27 563.90,327.00 564.20,326.73 564.50,327.76 564.80,326.35 565.10,326.21 565.40,327.73 565.70,326.14 566.00,327.97 566.30,326.68 566.60,326.12 566.90,326.74 567.20,326.84 567.50,326.90 567.80,326.70 568.10,327.46 568.40,325.51 568.70,326.55 569.00,326.74 569.30,327.96 569.60,325.80 569.90,326.77 570.20,326.33 570.50,326.62 570.80,327.39 571.10,327.28 571.40,327.88 571.70,326.75 572.00,327.26 572.30,327.79 572.60,327.66 572.90,326.99 573.20,327.82 573.50,326.70 573.80,328.24 574.10,327.34 574.40,327.22 574.70,327.45 575.00,327.79 575.30,328.30 575.60,327.29 575.90,327.19 576.20,327.73 576.50,326.96 576.80,326.54 577.10,327.92 577.40,327.29 577.70,328.12 578.00,326.99 578.30,326.02 578.60,327.73 578.90,327.68 579.20,328.47 579.50,327.92 579.80,327.83 580.10,327.99 580.40,327.50 580.70,327.73 581.00,326.99 581.30,327.98 581.60,327.29 581.90,327.49 582.20,328.09 582.50,328.20 582.80,327.21 583.10,328.78 583.40,327.44 583.70,328.18 584.00,328.25 584.30,327.88 584.60,327.86 584.90,328.70 585.20,328.24 585.50,328.02 585.80,326.86 586.10,327.42 586.40,328.40 586.70,327.91 587.00,327.33 587.30,327.49 587.60,327.67 587.90,328.19 588.20,328.04 588.50,328.35 588.80,327.44 589.10,328.36 589.40,327.61 589.70,327.72 590.00,328.75 590.30,327.92 590.60,327.82 590.90,327.79 591.20,327.71 591.50,328.69 591.80,328.61 592.10,328.28 592.40,328.02 592.70,328.45 593.00,327.90 593.30,328.17 593.60,328.15 593.90,328.00 594.20,328.78 594.50,328.80 594.80,328.63 595.10,327.02 595.40,328.80 595.70,328.34 596.00,327.77 596.30,327.99 596.60,328.57 596.90,328.59 597.20,328.44 597.50,328.09 597.80,328.05 598.10,328.45 598.40,328.00 598.70,327.61 599.00,327.75 599.30,327.99 599.60,328.23 599.90,328.80 600.20,327.41 600.50,328.32 600.80,328.04 601.10,328.24 601.40,328.76 601.70,328.71 602.00,328.04 602.30,327.85 602.60,327.46 602.90,328.09 603.20,328.74 603.50,328.01 603.80,328.49 604.10,328.49 604.40,328.35 604.70,328.69 605.00,328.12 605.30,327.78 605.60,327.62 605.90,328.63 606.20,328.02 606.50,328.05 606.80,328.60 607.10,327.84 607.40,328.80 607.70,328.54 608.00,327.98 608.30,327.94 608.60,328.75 608.90,327.69 609.20,327.95 609.50,328.26 609.80,328.36 610.10,328.28 610.40,328.46 610.70,328.11 611.00,328.23 611.30,328.80 611.60,328.60 611.90,328.10 612.20,328.80 612.50,327.39 612.80,328.36 613.10,328.64 613.40,328.78 613.70,328.39 614.00,328.17 614.30,328.62 614.60,328.27 614.90,328.58 615.20,327.07 615.50,328.55 615.80,328.02 616.10,328.80 616.40,328.73 616.70,328.73 617.00,328.22 617.30,328.61 617.60,328.26 617.90,328.52 618.20,328.37 618.50,328.04 618.80,328.80 619.10,328.77 619.40,327.54 619.70,328.80 620.00,327.85 620.30,328.36 620.60,328.21 620.90,328.23 621.20,328.58 621.50,328.33 621.80,327.83 622.10,328.47 622.40,328.64 622.70,328.80 623.00,328.30 623.30,327.96 623.60,328.32 623.90,328.77 624.20,328.10 624.50,328.17 624.80,328.73 625.10,328.49 625.40,328.59 625.70,328.22 626.00,328.13 626.30,328.36 626.60,328.43 626.90,328.35 627.20,328.69 627.50,328.74 627.80,328.75 628.10,328.72 628.40,328.12 628.70,328.02 629.00,328.80 629.30,328.52 629.60,328.57 629.90,328.01 630.20,328.43 630.50,328.24 630.80,328.14 631.10,328.25 631.40,327.87 631.70,328.56 632.00,328.80 632.30,328.22 632.60,328.57 632.90,328.06 633.20,328.80 633.50,328.80 633.80,328.00 634.10,328.44 634.40,328.80 634.70,328.70 635.00,328.59 635.30,327.66 635.60,328.48 635.90,328.80 636.20,328.80 636.50,328.80 636.80,328.30 637.10,328.26 637.40,327.77 637.70,328.09 638.00,328.80 638.30,328.51 638.60,327.99 638.90,328.80 639.20,327.85 639.50,328.80 639.80,328.43 640.10,328.71 640.40,328.80 640.70,328.68 641.00,328.80 641.30,328.58 641.60,328.44 641.90,328.30 642.20,327.97 642.50,328.29 642.80,328.80 643.10,328.80 643.40,328.80 643.70,328.80 644.00,328.80 644.30,328.80 644.60,328.04 644.90,328.49 645.20,328.80 645.50,328.80 645.80,328.54 646.10,328.73 646.40,327.80 646.70,328.25 647.00,328.05 647.30,327.71 647.60,328.80 647.90,328.80 648.20,328.54 648.50,328.76 648.80,328.19 649.10,328.80 649.40,328.80 649.70,328.80 650.00,328.80 650.30,328.80 650.60,328.57 650.90,328.28 651.20,328.38 651.50,328.80 651.80,328.80 652.10,328.64 652.40,328.80 652.70,328.80 653.00,328.64 653.30,328.56 653.60,328.67 653.90,328.25 654.20,328.24 654.50,328.79 654.80,328.40 655.10,328.54 655.40,328.80 655.70,328.57 656.00,328.80 656.30,328.65 656.60,328.80 656.90,328.80 657.20,327.94 657.50,328.80 657.80,328.58 658.10,327.86 658.40,328.71 658.70,328.73 659.00,328.14 659.30,328.42 659.60,328.80 659.90,328.80 660.20,328.80 660.50,328.80 660.80,328.80 661.10,327.68 661.40,328.39 661.70,328.76 662.00,327.60 662.30,328.80 662.60,328.80 662.90,328.38 663.20,328.54 663.50,328.32 663.80,328.68 664.10,328.68 664.40,328.69 664.70,328.29 665.00,328.80 665.30,328.56 665.60,328.80 665.90,328.80 666.20,328.12 666.50,328.14 666.80,328.73 667.10,328.52 667.40,328.80 667.70,328.80 668.00,328.72 668.30,328.06 668.60,328.25 668.90,328.80 669.20,328.31 669.50,328.80 669.80,328.69 670.10,328.80 670.40,328.39 670.70,328.69 671.00,327.60 671.30,328.65 671.60,328.80 671.90,328.39 672.20,328.42 672.50,328.72 672.80,328.76 673.10,328.44 673.40,328.80 673.70,328.13 674.00,328.80 674.30,328.23 674.60,328.45 674.90,328.80" fill="none" stroke="#8c8c8c" stroke-width="1.0" stroke-linejoin="round" opacity="1.0"/>
<polyline points="513.50,328.80 513.80,328.51 514.10,328.80 514.40,328.80 514.70,328.80 515.00,328.25 515.30,328.60 515.60,328.48 515.90,328.36 516.20,328.45 516.50,328.57 516.80,328.65 517.10,328.42 517.40,328.80 517.70,328.55 518.00,327.60 518.30,328.80 518.60,328.61 518.90,328.48 519.20,328.62 519.50,328.25 519.80,327.81 520.10,326.95 520.40,327.16 520.70,325.79 521.00,327.20 521.30,324.53 521.60,324.24 521.90,323.43 522.20,322.61 522.50,321.28 522.80,320.89 523.10,316.49 523.40,318.36 523.70,317.34 524.00,316.11 524.30,317.01 524.60,313.75 524.90,313.69 525.20,310.85 525.50,312.22 525.80,309.37 526.10,308.92 526.40,313.33 526.70,311.99 527.00,311.63 527.30,312.17 527.60,310.92 527.90,311.68 528.20,313.61 528.50,311.62 528.80,314.45 529.10,313.03 529.40,315.31 529.70,314.65 530.00,317.82 530.30,317.63 530.60,316.74 530.90,316.02 531.20,317.51 531.50,318.66 531.80,318.36 532.10,319.84 532.40,320.59 532.70,319.87 533.00,319.72 533.30,320.88 533.60,320.15 533.90,321.25 534.20,320.46 534.50,322.19 534.80,320.81 535.10,320.35 535.40,321.43 535.70,321.01 536.00,320.94 536.30,321.74 536.60,322.58 536.90,320.48 537.20,322.28 537.50,322.36 537.80,322.53 538.10,323.40 538.40,321.98 538.70,323.61 539.00,323.11 539.30,323.52 539.60,323.44 539.90,323.52 540.20,323.47 540.50,324.19 540.80,325.45 541.10,324.74 541.40,324.65 541.70,324.49 542.00,323.81 542.30,324.62 542.60,325.70 542.90,323.40 543.20,324.92 543.50,325.10 543.80,324.64 544.10,325.04 544.40,325.51 544.70,326.12 545.00,325.54 545.30,325.83 545.60,324.98 545.90,325.36 546.20,324.97 546.50,325.10 546.80,324.64 547.10,325.46 547.40,326.02 547.70,325.00 548.00,325.32 548.30,325.62 548.60,325.27 548.90,325.92 549.20,325.52 549.50,324.64 549.80,324.78 550.10,325.97 550.40,325.96 550.70,326.31 551.00,325.81 551.30,325.83 551.60,324.74 551.90,326.69 552.20,325.26 552.50,326.55 552.80,325.23 553.10,325.58 553.40,326.14 553.70,325.83 554.00,325.71 554.30,326.74 554.60,326.66 554.90,326.53 555.20,326.11 555.50,325.84 555.80,326.07 556.10,326.06 556.40,326.38 556.70,326.88 557.00,326.33 557.30,325.97 557.60,326.10 557.90,327.26 558.20,326.60 558.50,326.67 558.80,326.71 559.10,326.92 559.40,326.66 559.70,327.30 560.00,327.10 560.30,324.96 560.60,326.58 560.90,328.41 561.20,325.94 561.50,326.79 561.80,327.37 562.10,326.75 562.40,327.55 562.70,326.05 563.00,326.08 563.30,326.72 563.60,326.42 563.90,326.24 564.20,327.21 564.50,327.05 564.80,326.92 565.10,326.70 565.40,327.11 565.70,326.90 566.00,326.58 566.30,327.30 566.60,327.24 566.90,327.09 567.20,327.46 567.50,326.46 567.80,327.02 568.10,326.82 568.40,327.88 568.70,327.44 569.00,328.35 569.30,328.07 569.60,327.00 569.90,326.62 570.20,327.51 570.50,327.11 570.80,327.20 571.10,326.72 571.40,327.65 571.70,327.44 572.00,327.58 572.30,327.54 572.60,326.90 572.90,326.20 573.20,327.28 573.50,327.10 573.80,327.18 574.10,328.00 574.40,327.45 574.70,328.33 575.00,327.63 575.30,327.92 575.60,327.84 575.90,328.02 576.20,326.95 576.50,328.20 576.80,327.70 577.10,327.15 577.40,328.00 577.70,327.88 578.00,328.39 578.30,328.12 578.60,327.94 578.90,326.93 579.20,328.65 579.50,328.57 579.80,328.22 580.10,328.08 580.40,328.47 580.70,327.41 581.00,328.21 581.30,327.87 581.60,327.36 581.90,328.06 582.20,328.06 582.50,328.75 582.80,328.36 583.10,327.08 583.40,326.91 583.70,327.86 584.00,327.80 584.30,327.44 584.60,327.18 584.90,327.82 585.20,327.35 585.50,327.58 585.80,328.37 586.10,328.06 586.40,327.57 586.70,327.39 587.00,327.86 587.30,328.80 587.60,327.71 587.90,328.80 588.20,327.58 588.50,327.88 588.80,328.33 589.10,327.61 589.40,328.02 589.70,327.33 590.00,328.34 590.30,328.59 590.60,327.70 590.90,328.11 591.20,327.83 591.50,326.97 591.80,328.80 592.10,328.35 592.40,328.45 592.70,328.24 593.00,328.14 593.30,328.80 593.60,327.17 593.90,327.92 594.20,327.87 594.50,327.98 594.80,328.43 595.10,327.74 595.40,327.45 595.70,327.55 596.00,328.33 596.30,328.57 596.60,328.51 596.90,328.80 597.20,327.88 597.50,328.61 597.80,328.47 598.10,328.06 598.40,327.78 598.70,328.58 599.00,327.83 599.30,328.02 599.60,327.70 599.90,328.80 600.20,328.15 600.50,327.94 600.80,328.07 601.10,328.08 601.40,328.24 601.70,327.39 602.00,327.65 602.30,328.45 602.60,328.73 602.90,327.74 603.20,328.28 603.50,327.96 603.80,327.16 604.10,328.09 604.40,327.73 604.70,328.66 605.00,328.16 605.30,328.24 605.60,327.58 605.90,328.34 606.20,327.36 606.50,328.38 606.80,328.80 607.10,327.73 607.40,328.69 607.70,328.80 608.00,328.21 608.30,328.80 608.60,328.36 608.90,328.09 609.20,327.40 609.50,327.83 609.80,327.65 610.10,328.80 610.40,328.47 610.70,328.27 611.00,327.74 611.30,328.80 611.60,327.83 611.90,328.80 612.20,328.80 612.50,328.41 612.80,328.09 613.10,328.37 613.40,327.80 613.70,328.70 614.00,328.80 614.30,328.80 614.60,328.80 614.90,328.11 615.20,328.57 615.50,327.97 615.80,328.23 616.10,328.77 616.40,328.80 616.70,328.48 617.00,328.47 617.30,327.62 617.60,328.54 617.90,328.07 618.20,327.86 618.50,327.82 618.80,328.55 619.10,328.32 619.40,328.80 619.70,328.40 620.00,328.51 620.30,328.80 620.60,328.80 620.90,328.80 621.20,328.80 621.50,328.61 621.80,328.08 622.10,328.17 622.40,327.83 622.70,328.67 623.00,328.34 623.30,328.74 623.60,328.80 623.90,328.17 624.20,328.61 624.50,328.80 624.80,328.56 625.10,328.80 625.40,328.45 625.70,328.12 626.00,328.43 626.30,327.72 626.60,328.80 626.90,328.31 627.20,328.80 627.50,328.01 627.80,328.60 628.10,328.69 628.40,328.46 628.70,328.71 629.00,328.22 629.30,328.08 629.60,327.94 629.90,328.31 630.20,328.20 630.50,328.66 630.80,328.40 631.10,328.27 631.40,328.24 631.70,327.74 632.00,328.40 632.30,328.74 632.60,327.99 632.90,328.45 633.20,328.80 633.50,328.27 633.80,328.65 634.10,328.39 634.40,328.80 634.70,328.80 635.00,328.80 635.30,328.28 635.60,328.80 635.90,328.51 636.20,328.73 636.50,328.33 636.80,328.65 637.10,328.25 637.40,328.71 637.70,328.80 638.00,328.00 638.30,328.02 638.60,328.80 638.90,328.80 639.20,328.43 639.50,328.80 639.80,328.78 640.10,328.80 640.40,328.80 640.70,328.32 641.00,328.80 641.30,328.69 641.60,328.31 641.90,328.80 642.20,328.05 642.50,327.97 642.80,328.80 643.10,328.14 643.40,328.80 643.70,328.80 644.00,328.39 644.30,328.24 644.60,327.67 644.90,328.58 645.20,327.92 645.50,328.80 645.80,327.91 646.10,328.65 646.40,327.47 646.70,328.48 647.00,328.80 647.30,328.44 647.60,328.28 647.90,328.43 648.20,328.79 648.50,328.80 648.80,328.53 649.10,327.77 649.40,328.76 649.70,328.80 650.00,328.80 650.30,328.71 650.60,328.71 650.90,328.41 651.20,328.80 651.50,328.80 651.80,328.23 652.10,328.68 652.40,328.21 652.70,328.36 653.00,328.57 653.30,328.80 653.60,328.30 653.90,328.53 654.20,328.80 654.50,328.80 654.80,328.80 655.10,328.80 655.40,328.58 655.70,328.80 656.00,328.80 656.30,328.66 656.60,328.80 656.90,328.67 657.20,328.80 657.50,328.68 657.80,328.80 658.10,328.40 658.40,328.44 658.70,328.20 659.00,328.80 659.30,328.80 659.60,328.77 659.90,328.80 660.20,328.34 660.50,328.72 660.80,328.48 661.10,327.93 661.40,328.58 661.70,328.33 662.00,328.80 662.30,328.39 662.60,328.44 662.90,328.80 663.20,328.69 663.50,328.16 663.80,328.79 664.10,328.40 664.40,328.80 664.70,328.28 665.00,328.40 665.30,327.60 665.60,328.44 665.90,328.80 666.20,328.66 666.50,328.33 666.80,328.80 667.10,328.60 667.40,328.70 667.70,328.80 668.00,328.80 668.30,328.80 668.60,328.80 668.90,328.36 669.20,327.95 669.50,328.80 669.80,328.80 670.10,328.74 670.40,328.68 670.70,328.80 671.00,328.80 671.30,328.80 671.60,328.80 671.90,328.66 672.20,328.59 672.50,328.80 672.80,328.64 673.10,328.80 673.40,328.80 673.70,328.77 674.00,328.80 674.30,328.56 674.60,328.68 674.90,328.62" fill="none" stroke="#999999" stroke-width="1.0" stroke-linejoin="round" opacity="1.0"/>
<polyline points="513.50,328.38 513.80,328.80 514.10,328.80 514.40,328.80 514.70,328.80 515.00,328.77 515.30,328.80 515.60,328.65 515.90,328.24 516.20,328.57 516.50,328.80 516.80,328.80 517.10,328.63 517.40,328.34 517.70,328.71 518.00,328.52 518.30,328.76 518.60,328.80 518.90,327.87 519.20,328.72 519.50,328.18 519.80,327.39 520.10,326.28 520.40,326.91 520.70,325.80 521.00,324.84 521.30,323.04 521.60,321.60 521.90,321.59 522.20,321.22 522.50,320.13 522.80,319.96 523.10,317.61 523.40,317.29 523.70,313.71 524.00,312.77 524.30,308.38 524.60,305.36 524.90,302.12 525.20,301.75 525.50,299.64 525.80,296.00 526.10,293.90 526.40,290.48 526.70,287.79 527.00,285.51 527.30,281.27 527.60,280.74 527.90,280.55 528.20,278.87 528.50,278.59 528.80,276.05 529.10,273.91 529.40,271.47 529.70,265.74 530.00,267.83 530.30,264.40 530.60,264.97 530.90,262.47 531.20,262.60 531.50,262.46 531.80,263.12 532.10,260.42 532.40,261.28 532.70,266.41 533.00,265.27 533.30,263.96 533.60,264.35 533.90,264.53 534.20,271.35 534.50,267.33 534.80,267.15 535.10,266.71 535.40,264.55 535.70,269.49 536.00,272.34 536.30,272.28 536.60,271.87 536.90,271.13 537.20,270.89 537.50,273.69 537.80,273.60 538.10,273.13 538.40,278.39 538.70,274.90 539.00,276.26 539.30,274.03 539.60,281.27 539.90,279.01 540.20,279.93 540.50,281.30 540.80,280.36 541.10,281.51 541.40,283.73 541.70,282.84 542.00,285.38 542.30,287.53 542.60,287.65 542.90,289.42 543.20,289.71 543.50,291.48 543.80,290.17 544.10,291.17 544.40,289.81 544.70,291.67 545.00,291.33 545.30,292.68 545.60,291.75 545.90,294.08 546.20,297.65 546.50,293.42 546.80,295.71 547.10,296.20 547.40,294.78 547.70,295.81 548.00,295.93 548.30,297.65 548.60,296.64 548.90,301.38 549.20,299.49 549.50,300.28 549.80,302.03 550.10,301.38 550.40,299.73 550.70,300.63 551.00,300.50 551.30,301.08 551.60,302.28 551.90,298.78 552.20,299.47 552.50,301.48 552.80,302.75 553.10,301.85 553.40,302.52 553.70,304.43 554.00,304.18 554.30,303.49 554.60,303.50 554.90,302.38 555.20,305.08 555.50,304.90 555.80,303.89 556.10,305.94 556.40,305.19 556.70,305.51 557.00,304.23 557.30,307.55 557.60,305.87 557.90,307.41 558.20,307.61 558.50,306.98 558.80,307.85 559.10,307.93 559.40,308.20 559.70,309.00 560.00,308.33 560.30,310.02 560.60,309.55 560.90,308.27 561.20,310.23 561.50,309.49 561.80,310.65 562.10,307.69 562.40,310.86 562.70,308.15 563.00,310.33 563.30,314.53 563.60,311.90 563.90,312.51 564.20,310.75 564.50,310.47 564.80,311.79 565.10,312.50 565.40,312.13 565.70,311.68 566.00,311.65 566.30,312.34 566.60,314.68 566.90,313.14 567.20,312.93 567.50,313.23 567.80,312.67 568.10,312.46 568.40,314.22 568.70,315.64 569.00,314.94 569.30,313.18 569.60,316.35 569.90,315.24 570.20,317.08 570.50,315.19 570.80,314.15 571.10,315.92 571.40,315.72 571.70,314.96 572.00,315.48 572.30,315.94 572.60,315.59 572.90,317.19 573.20,317.00 573.50,316.37 573.80,316.58 574.10,317.91 574.40,317.56 574.70,316.14 575.00,317.65 575.30,319.18 575.60,317.93 575.90,316.94 576.20,319.33 576.50,320.36 576.80,318.25 577.10,316.07 577.40,316.98 577.70,320.24 578.00,318.44 578.30,319.38 578.60,319.35 578.90,319.13 579.20,320.65 579.50,319.40 579.80,319.89 580.10,319.76 580.40,319.81 580.70,321.92 581.00,318.82 581.30,318.84 581.60,321.04 581.90,319.04 582.20,320.44 582.50,319.48 582.80,321.36 583.10,320.62 583.40,321.35 583.70,320.21 584.00,320.78 584.30,318.97 584.60,321.73 584.90,321.42 585.20,321.14 585.50,321.23 585.80,320.92 586.10,321.25 586.40,322.99 586.70,320.91 587.00,321.08 587.30,322.14 587.60,321.81 587.90,321.16 588.20,323.12 588.50,323.21 588.80,321.58 589.10,323.44 589.40,320.81 589.70,323.32 590.00,320.74 590.30,322.47 590.60,322.09 590.90,321.97 591.20,322.85 591.50,321.59 591.80,321.83 592.10,321.58 592.40,323.80 592.70,322.14 593.00,322.98 593.30,322.56 593.60,323.66 593.90,322.03 594.20,322.23 594.50,322.48 594.80,323.20 595.10,322.50 595.40,323.54 595.70,323.67 596.00,324.12 596.30,323.78 596.60,324.52 596.90,323.21 597.20,323.14 597.50,323.06 597.80,323.12 598.10,322.68 598.40,324.08 598.70,323.91 599.00,322.27 599.30,323.86 599.60,323.46 599.90,323.38 600.20,323.92 600.50,325.11 600.80,324.34 601.10,322.80 601.40,324.62 601.70,323.77 602.00,325.72 602.30,324.19 602.60,324.55 602.90,324.52 603.20,324.12 603.50,324.49 603.80,324.77 604.10,326.51 604.40,325.06 604.70,325.40 605.00,325.17 605.30,325.29 605.60,325.46 605.90,326.29 606.20,323.24 606.50,324.95 606.80,324.86 607.10,326.11 607.40,324.97 607.70,326.23 608.00,326.35 608.30,325.23 608.60,326.03 608.90,325.33 609.20,326.27 609.50,326.07 609.80,326.56 610.10,326.33 610.40,325.10 610.70,326.81 611.00,325.86 611.30,326.60 611.60,325.95 611.90,326.55 612.20,325.14 612.50,326.88 612.80,325.33 613.10,325.92 613.40,326.37 613.70,325.06 614.00,326.35 614.30,326.14 614.60,326.70 614.90,326.12 615.20,325.54 615.50,325.50 615.80,325.71 616.10,326.36 616.40,326.19 616.70,326.72 617.00,327.35 617.30,326.18 617.60,326.09 617.90,326.67 618.20,326.74 618.50,325.08 618.80,326.08 619.10,326.57 619.40,326.93 619.70,326.26 620.00,325.93 620.30,327.93 620.60,324.65 620.90,327.56 621.20,326.26 621.50,326.45 621.80,326.71 622.10,326.95 622.40,326.16 622.70,325.91 623.00,327.00 623.30,327.60 623.60,326.67 623.90,328.27 624.20,326.11 624.50,327.42 624.80,327.24 625.10,327.78 625.40,326.32 625.70,327.41 626.00,326.97 626.30,325.68 626.60,326.82 626.90,326.25 627.20,326.93 627.50,327.54 627.80,327.14 628.10,328.33 628.40,327.66 628.70,326.93 629.00,327.11 629.30,327.56 629.60,326.93 629.90,327.71 630.20,327.76 630.50,328.01 630.80,327.58 631.10,327.59 631.40,326.85 631.70,327.65 632.00,327.45 632.30,327.65 632.60,327.79 632.90,327.17 633.20,327.35 633.50,327.18 633.80,326.92 634.10,326.57 634.40,327.01 634.70,327.88 635.00,326.30 635.30,327.89 635.60,328.04 635.90,328.14 636.20,327.45 636.50,327.45 636.80,328.25 637.10,328.08 637.40,328.63 637.70,327.46 638.00,327.44 638.30,328.32 638.60,327.50 638.90,327.64 639.20,328.45 639.50,328.17 639.80,327.52 640.10,328.06 640.40,327.73 640.70,328.35 641.00,327.96 641.30,327.30 641.60,328.74 641.90,327.76 642.20,327.83 642.50,327.46 642.80,327.82 643.10,327.61 643.40,328.14 643.70,328.12 644.00,328.50 644.30,328.28 644.60,327.59 644.90,327.49 645.20,327.44 645.50,328.42 645.80,327.47 646.10,328.73 646.40,328.01 646.70,327.89 647.00,328.02 647.30,328.80 647.60,328.00 647.90,327.75 648.20,327.38 648.50,327.09 648.80,327.60 649.10,328.67 649.40,328.30 649.70,327.59 650.00,326.67 650.30,328.60 650.60,328.20 650.90,326.90 651.20,327.90 651.50,327.44 651.80,328.57 652.10,328.38 652.40,327.69 652.70,326.86 653.00,327.89 653.30,328.80 653.60,328.32 653.90,327.79 654.20,328.58 654.50,327.81 654.80,328.80 655.10,327.19 655.40,327.88 655.70,328.80 656.00,328.74 656.30,328.43 656.60,327.37 656.90,328.17 657.20,328.51 657.50,327.93 657.80,328.17 658.10,328.64 658.40,327.98 658.70,328.46 659.00,328.05 659.30,327.60 659.60,327.41 659.90,327.83 660.20,327.75 660.50,328.73 660.80,328.26 661.10,327.24 661.40,328.80 661.70,328.80 662.00,328.01 662.30,328.54 662.60,328.20 662.90,328.66 663.20,328.33 663.50,328.51 663.80,328.28 664.10,327.97 664.40,328.12 664.70,327.91 665.00,327.98 665.30,328.10 665.60,328.80 665.90,328.72 666.20,328.80 666.50,327.60 666.80,328.21 667.10,328.80 667.40,328.80 667.70,328.61 668.00,328.16 668.30,327.66 668.60,328.50 668.90,327.58 669.20,328.52 669.50,328.14 669.80,328.07 670.10,328.06 670.40,327.66 670.70,327.80 671.00,328.59 671.30,328.08 671.60,328.04 671.90,328.80 672.20,328.73 672.50,328.61 672.80,327.73 673.10,328.80 673.40,328.74 673.70,328.01 674.00,328.21 674.30,328.80 674.60,328.80 674.90,328.34" fill="none" stroke="#74c4ec" stroke-width="1.3" stroke-linejoin="round" opacity="1.0"/>
<polyline points="513.50,328.38 513.80,328.57 514.10,328.52 514.40,328.63 514.70,328.80 515.00,328.08 515.30,328.62 515.60,328.56 515.90,328.41 516.20,328.70 516.50,328.75 516.80,328.80 517.10,328.80 517.40,328.75 517.70,328.80 518.00,328.34 518.30,328.52 518.60,328.80 518.90,328.55 519.20,328.37 519.50,328.52 519.80,327.29 520.10,327.97 520.40,327.36 520.70,327.60 521.00,324.87 521.30,324.18 521.60,323.46 521.90,323.31 522.20,322.16 522.50,322.09 522.80,320.41 523.10,318.18 523.40,318.87 523.70,314.69 524.00,314.29 524.30,310.54 524.60,308.94 524.90,304.65 525.20,303.29 525.50,302.85 525.80,300.98 526.10,297.76 526.40,296.13 526.70,291.21 527.00,291.71 527.30,288.90 527.60,286.58 527.90,286.86 528.20,283.88 528.50,281.42 528.80,280.39 529.10,278.61 529.40,277.00 529.70,275.81 530.00,273.19 530.30,273.67 530.60,273.65 530.90,272.83 531.20,270.67 531.50,270.29 531.80,272.14 532.10,271.26 532.40,274.03 532.70,272.23 533.00,272.74 533.30,271.14 533.60,272.50 533.90,270.51 534.20,270.26 534.50,273.61 534.80,271.96 535.10,273.34 535.40,276.32 535.70,278.00 536.00,276.04 536.30,275.80 536.60,278.26 536.90,279.10 537.20,278.94 537.50,277.26 537.80,278.38 538.10,281.32 538.40,278.52 538.70,280.88 539.00,283.21 539.30,283.44 539.60,281.38 539.90,282.47 540.20,283.27 540.50,282.67 540.80,285.23 541.10,284.60 541.40,287.55 541.70,285.81 542.00,287.23 542.30,288.05 542.60,289.74 542.90,286.90 543.20,292.57 543.50,291.64 543.80,292.92 544.10,295.23 544.40,294.28 544.70,295.36 545.00,295.38 545.30,296.77 545.60,296.95 545.90,297.98 546.20,296.75 546.50,295.84 546.80,298.01 547.10,296.60 547.40,298.45 547.70,298.44 548.00,296.50 548.30,299.24 548.60,298.80 548.90,298.82 549.20,298.63 549.50,301.85 549.80,302.50 550.10,300.68 550.40,301.09 550.70,301.65 551.00,301.69 551.30,303.98 551.60,302.35 551.90,305.02 552.20,301.24 552.50,302.26 552.80,305.75 553.10,304.59 553.40,302.90 553.70,308.25 554.00,306.75 554.30,306.62 554.60,303.56 554.90,307.86 555.20,307.08 555.50,307.18 555.80,307.22 556.10,305.93 556.40,306.93 556.70,309.07 557.00,309.98 557.30,309.95 557.60,309.95 557.90,310.02 558.20,310.67 558.50,312.82 558.80,310.78 559.10,309.31 559.40,311.80 559.70,311.24 560.00,310.74 560.30,310.71 560.60,313.01 560.90,311.62 561.20,312.27 561.50,311.71 561.80,313.97 562.10,312.47 562.40,312.60 562.70,311.60 563.00,312.04 563.30,314.61 563.60,312.59 563.90,314.83 564.20,314.45 564.50,314.42 564.80,314.45 565.10,314.38 565.40,315.69 565.70,314.78 566.00,313.40 566.30,314.66 566.60,316.66 566.90,314.06 567.20,315.36 567.50,315.46 567.80,316.78 568.10,314.96 568.40,317.33 568.70,315.05 569.00,316.38 569.30,315.29 569.60,316.71 569.90,316.11 570.20,315.39 570.50,317.29 570.80,316.18 571.10,317.94 571.40,315.01 571.70,319.08 572.00,317.62 572.30,319.48 572.60,318.62 572.90,318.06 573.20,317.92 573.50,317.77 573.80,318.99 574.10,318.27 574.40,317.16 574.70,318.42 575.00,319.22 575.30,318.93 575.60,319.18 575.90,319.46 576.20,316.92 576.50,319.39 576.80,320.69 577.10,319.86 577.40,319.21 577.70,318.60 578.00,319.15 578.30,321.47 578.60,319.48 578.90,320.46 579.20,320.01 579.50,320.72 579.80,319.19 580.10,318.63 580.40,320.10 580.70,320.61 581.00,318.34 581.30,320.48 581.60,320.95 581.90,320.70 582.20,320.63 582.50,319.41 582.80,320.40 583.10,320.24 583.40,321.97 583.70,321.59 584.00,321.85 584.30,320.13 584.60,320.47 584.90,321.79 585.20,321.63 585.50,322.58 585.80,321.27 586.10,321.31 586.40,322.54 586.70,321.24 587.00,321.61 587.30,323.05 587.60,323.40 587.90,321.84 588.20,321.11 588.50,321.84 588.80,319.95 589.10,323.06 589.40,323.79 589.70,322.81 590.00,321.87 590.30,321.76 590.60,322.33 590.90,323.01 591.20,323.57 591.50,323.90 591.80,324.40 592.10,323.37 592.40,324.04 592.70,321.10 593.00,322.19 593.30,323.37 593.60,322.50 593.90,323.10 594.20,323.51 594.50,324.03 594.80,323.66 595.10,323.74 595.40,323.48 595.70,324.11 596.00,324.66 596.30,323.41 596.60,324.17 596.90,324.06 597.20,323.83 597.50,323.30 597.80,323.55 598.10,323.79 598.40,324.54 598.70,324.59 599.00,324.90 599.30,324.31 599.60,323.52 599.90,324.67 600.20,322.97 600.50,325.23 600.80,325.93 601.10,323.97 601.40,324.32 601.70,323.22 602.00,324.68 602.30,324.61 602.60,325.12 602.90,325.33 603.20,324.95 603.50,325.99 603.80,325.86 604.10,324.99 604.40,325.81 604.70,324.44 605.00,324.18 605.30,324.57 605.60,326.74 605.90,324.85 606.20,324.96 606.50,325.55 606.80,325.69 607.10,326.32 607.40,326.65 607.70,325.70 608.00,325.54 608.30,325.35 608.60,325.29 608.90,325.30 609.20,325.61 609.50,326.07 609.80,326.59 610.10,326.42 610.40,325.93 610.70,326.57 611.00,325.44 611.30,327.17 611.60,326.66 611.90,327.39 612.20,326.29 612.50,325.39 612.80,327.46 613.10,326.14 613.40,325.63 613.70,324.91 614.00,324.93 614.30,326.53 614.60,326.73 614.90,326.07 615.20,327.56 615.50,326.42 615.80,326.92 616.10,325.81 616.40,325.91 616.70,325.79 617.00,326.92 617.30,326.62 617.60,326.59 617.90,326.81 618.20,326.66 618.50,326.87 618.80,324.91 619.10,327.13 619.40,327.15 619.70,327.41 620.00,326.82 620.30,326.32 620.60,326.06 620.90,327.47 621.20,326.39 621.50,327.45 621.80,327.09 622.10,326.38 622.40,327.09 622.70,327.81 623.00,327.18 623.30,326.05 623.60,327.10 623.90,326.91 624.20,327.26 624.50,327.07 624.80,327.51 625.10,326.81 625.40,327.26 625.70,327.85 626.00,327.57 626.30,327.42 626.60,327.49 626.90,327.97 627.20,327.95 627.50,327.71 627.80,326.35 628.10,326.64 628.40,327.03 628.70,327.45 629.00,326.84 629.30,326.56 629.60,327.44 629.90,327.00 630.20,326.96 630.50,327.14 630.80,327.03 631.10,327.72 631.40,328.09 631.70,327.41 632.00,327.08 632.30,327.98 632.60,327.21 632.90,327.51 633.20,327.41 633.50,327.32 633.80,328.72 634.10,328.03 634.40,328.39 634.70,328.45 635.00,327.83 635.30,326.55 635.60,328.07 635.90,328.16 636.20,326.86 636.50,327.28 636.80,328.44 637.10,328.10 637.40,328.28 637.70,327.27 638.00,328.16 638.30,327.70 638.60,328.15 638.90,326.97 639.20,327.68 639.50,326.52 639.80,327.27 640.10,327.50 640.40,327.70 640.70,327.51 641.00,327.44 641.30,328.10 641.60,327.72 641.90,327.04 642.20,328.06 642.50,328.51 642.80,327.73 643.10,327.17 643.40,328.52 643.70,328.16 644.00,326.70 644.30,327.84 644.60,327.61 644.90,328.80 645.20,327.84 645.50,327.18 645.80,328.24 646.10,328.54 646.40,326.89 646.70,327.90 647.00,327.71 647.30,328.42 647.60,328.17 647.90,327.52 648.20,328.10 648.50,327.97 648.80,327.07 649.10,327.32 649.40,328.49 649.70,328.47 650.00,328.80 650.30,328.03 650.60,328.33 650.90,327.24 651.20,328.75 651.50,327.38 651.80,327.58 652.10,328.27 652.40,327.58 652.70,328.80 653.00,327.68 653.30,327.22 653.60,327.89 653.90,328.52 654.20,327.54 654.50,328.63 654.80,328.67 655.10,327.12 655.40,328.41 655.70,328.15 656.00,328.21 656.30,328.28 656.60,328.44 656.90,327.89 657.20,328.40 657.50,327.82 657.80,328.77 658.10,328.52 658.40,328.68 658.70,328.16 659.00,328.24 659.30,327.93 659.60,327.67 659.90,328.39 660.20,327.19 660.50,328.80 660.80,328.48 661.10,327.24 661.40,328.51 661.70,328.80 662.00,328.80 662.30,328.07 662.60,328.37 662.90,327.27 663.20,328.53 663.50,328.73 663.80,328.52 664.10,328.36 664.40,328.34 664.70,328.61 665.00,327.76 665.30,327.36 665.60,327.88 665.90,328.80 666.20,328.80 666.50,328.38 666.80,327.40 667.10,328.57 667.40,327.92 667.70,328.80 668.00,328.64 668.30,327.87 668.60,327.83 668.90,328.27 669.20,328.03 669.50,328.13 669.80,327.98 670.10,328.52 670.40,328.80 670.70,328.04 671.00,328.53 671.30,328.45 671.60,327.41 671.90,328.39 672.20,328.42 672.50,327.83 672.80,328.30 673.10,328.66 673.40,328.13 673.70,328.55 674.00,328.80 674.30,328.80 674.60,328.80 674.90,328.80" fill="none" stroke="#80cbef" stroke-width="1.3" stroke-linejoin="round" opacity="1.0"/>
<polyline points="513.50,328.31 513.80,328.80 514.10,328.80 514.40,328.57 514.70,328.27 515.00,328.73 515.30,328.80 515.60,328.80 515.90,328.31 516.20,328.28 516.50,328.80 516.80,328.80 517.10,328.80 517.40,328.80 517.70,328.71 518.00,328.65 518.30,328.80 518.60,328.65 518.90,328.47 519.20,328.34 519.50,328.78 519.80,328.80 520.10,328.63 520.40,328.73 520.70,328.80 521.00,328.80 521.30,328.67 521.60,327.64 521.90,325.89 522.20,326.73 522.50,324.79 522.80,324.97 523.10,323.46 523.40,323.86 523.70,322.68 524.00,322.80 524.30,324.56 524.60,320.60 524.90,318.44 525.20,313.49 525.50,311.52 525.80,309.57 526.10,305.82 526.40,303.41 526.70,300.16 527.00,295.84 527.30,294.87 527.60,290.13 527.90,290.81 528.20,284.62 528.50,283.36 528.80,278.71 529.10,276.48 529.40,270.44 529.70,269.29 530.00,263.83 530.30,262.46 530.60,257.75 530.90,253.27 531.20,247.98 531.50,247.07 531.80,242.88 532.10,241.97 532.40,236.30 532.70,236.12 533.00,234.12 533.30,231.77 533.60,229.70 533.90,228.67 534.20,228.06 534.50,228.16 534.80,230.24 535.10,233.02 535.40,235.66 535.70,235.54 536.00,236.57 536.30,237.19 536.60,238.19 536.90,238.38 537.20,240.62 537.50,244.10 537.80,242.15 538.10,243.40 538.40,250.05 538.70,248.89 539.00,252.06 539.30,253.55 539.60,251.65 539.90,259.33 540.20,259.75 540.50,258.61 540.80,261.14 541.10,261.66 541.40,261.58 541.70,264.41 542.00,266.76 542.30,269.50 542.60,270.42 542.90,270.96 543.20,274.53 543.50,272.85 543.80,276.43 544.10,277.94 544.40,276.89 544.70,275.72 545.00,278.08 545.30,280.80 545.60,282.26 545.90,284.76 546.20,282.17 546.50,284.64 546.80,286.59 547.10,286.51 547.40,284.54 547.70,289.92 548.00,292.97 548.30,291.64 548.60,289.51 548.90,290.61 549.20,291.87 549.50,295.28 549.80,293.25 550.10,293.01 550.40,295.31 550.70,293.62 551.00,296.54 551.30,293.70 551.60,294.40 551.90,296.35 552.20,297.66 552.50,297.11 552.80,297.10 553.10,294.82 553.40,296.47 553.70,296.85 554.00,297.21 554.30,298.85 554.60,297.98 554.90,299.61 555.20,299.01 555.50,298.76 555.80,299.57 556.10,300.21 556.40,300.98 556.70,299.64 557.00,300.19 557.30,299.10 557.60,302.89 557.90,302.97 558.20,301.30 558.50,301.21 558.80,300.58 559.10,302.49 559.40,302.79 559.70,305.34 560.00,303.35 560.30,302.41 560.60,300.74 560.90,305.41 561.20,304.26 561.50,302.45 561.80,304.73 562.10,302.95 562.40,308.93 562.70,306.51 563.00,306.14 563.30,305.55 563.60,303.61 563.90,306.09 564.20,304.76 564.50,307.37 564.80,304.62 565.10,306.21 565.40,308.77 565.70,309.47 566.00,306.66 566.30,306.53 566.60,309.36 566.90,309.57 567.20,307.86 567.50,308.41 567.80,308.66 568.10,308.39 568.40,309.17 568.70,311.42 569.00,311.08 569.30,312.72 569.60,310.76 569.90,310.96 570.20,310.34 570.50,311.45 570.80,310.50 571.10,310.25 571.40,312.88 571.70,313.77 572.00,313.31 572.30,313.95 572.60,313.02 572.90,312.21 573.20,313.15 573.50,312.85 573.80,312.28 574.10,311.86 574.40,312.22 574.70,313.80 575.00,314.10 575.30,313.65 575.60,315.62 575.90,314.57 576.20,315.10 576.50,315.85 576.80,314.07 577.10,313.13 577.40,315.84 577.70,314.64 578.00,316.66 578.30,315.90 578.60,316.66 578.90,316.58 579.20,314.11 579.50,316.83 579.80,315.70 580.10,315.78 580.40,316.22 580.70,317.46 581.00,317.71 581.30,317.97 581.60,315.72 581.90,316.83 582.20,315.39 582.50,317.56 582.80,318.33 583.10,317.28 583.40,318.31 583.70,318.43 584.00,319.20 584.30,317.71 584.60,317.80 584.90,317.96 585.20,320.22 585.50,319.74 585.80,318.80 586.10,319.20 586.40,319.20 586.70,319.37 587.00,319.12 587.30,319.11 587.60,318.44 587.90,319.05 588.20,321.06 588.50,320.23 588.80,319.94 589.10,319.80 589.40,320.13 589.70,320.47 590.00,319.75 590.30,320.53 590.60,320.66 590.90,319.96 591.20,320.03 591.50,319.96 591.80,320.01 592.10,321.67 592.40,319.18 592.70,320.94 593.00,320.77 593.30,320.86 593.60,321.52 593.90,322.43 594.20,321.70 594.50,321.63 594.80,321.36 595.10,321.82 595.40,322.68 595.70,321.74 596.00,321.23 596.30,321.20 596.60,321.38 596.90,321.23 597.20,323.18 597.50,322.68 597.80,322.29 598.10,323.63 598.40,322.09 598.70,323.21 599.00,323.31 599.30,321.62 599.60,321.68 599.90,322.20 600.20,323.62 600.50,323.97 600.80,322.17 601.10,323.90 601.40,322.92 601.70,322.97 602.00,322.92 602.30,323.14 602.60,322.12 602.90,322.78 603.20,322.67 603.50,323.97 603.80,325.17 604.10,325.69 604.40,323.56 604.70,322.64 605.00,323.64 605.30,323.32 605.60,325.43 605.90,324.50 606.20,323.66 606.50,324.88 606.80,324.66 607.10,323.22 607.40,324.00 607.70,324.24 608.00,324.45 608.30,324.56 608.60,324.27 608.90,324.67 609.20,324.17 609.50,323.99 609.80,325.66 610.10,324.91 610.40,325.00 610.70,323.66 611.00,324.65 611.30,325.35 611.60,323.97 611.90,325.60 612.20,324.64 612.50,325.20 612.80,324.88 613.10,325.14 613.40,325.83 613.70,324.80 614.00,326.13 614.30,324.61 614.60,324.55 614.90,325.66 615.20,324.53 615.50,325.02 615.80,325.89 616.10,326.12 616.40,324.21 616.70,325.72 617.00,326.64 617.30,326.23 617.60,325.34 617.90,325.14 618.20,325.37 618.50,324.85 618.80,325.46 619.10,325.54 619.40,325.60 619.70,326.47 620.00,325.61 620.30,324.87 620.60,326.48 620.90,325.18 621.20,325.61 621.50,325.84 621.80,325.74 622.10,325.36 622.40,325.87 622.70,327.40 623.00,325.71 623.30,326.04 623.60,326.84 623.90,326.64 624.20,326.68 624.50,326.78 624.80,325.09 625.10,325.79 625.40,326.43 625.70,326.68 626.00,327.19 626.30,326.73 626.60,326.34 626.90,326.54 627.20,326.42 627.50,326.73 627.80,327.01 628.10,326.45 628.40,326.20 628.70,326.21 629.00,327.39 629.30,327.52 629.60,327.39 629.90,327.34 630.20,327.36 630.50,326.91 630.80,327.32 631.10,326.37 631.40,326.86 631.70,326.57 632.00,327.41 632.30,326.68 632.60,326.96 632.90,327.26 633.20,327.81 633.50,326.60 633.80,326.53 634.10,327.53 634.40,326.46 634.70,327.35 635.00,326.78 635.30,327.05 635.60,326.10 635.90,327.53 636.20,326.86 636.50,326.65 636.80,328.32 637.10,327.57 637.40,328.80 637.70,327.42 638.00,327.01 638.30,327.27 638.60,328.12 638.90,327.22 639.20,327.50 639.50,327.54 639.80,326.76 640.10,327.35 640.40,327.01 640.70,326.61 641.00,327.79 641.30,327.68 641.60,327.37 641.90,326.84 642.20,326.25 642.50,327.62 642.80,327.32 643.10,326.46 643.40,327.36 643.70,326.57 644.00,327.39 644.30,327.50 644.60,327.62 644.90,327.56 645.20,327.54 645.50,326.85 645.80,327.26 646.10,327.21 646.40,327.36 646.70,327.65 647.00,327.84 647.30,328.40 647.60,326.16 647.90,327.76 648.20,327.45 648.50,328.77 648.80,328.07 649.10,326.71 649.40,327.81 649.70,327.33 650.00,328.14 650.30,327.07 650.60,327.58 650.90,327.57 651.20,327.60 651.50,327.36 651.80,326.71 652.10,327.93 652.40,328.22 652.70,327.67 653.00,327.19 653.30,327.83 653.60,328.03 653.90,327.66 654.20,327.75 654.50,328.49 654.80,327.20 655.10,327.50 655.40,326.82 655.70,327.45 656.00,327.44 656.30,327.34 656.60,327.48 656.90,328.76 657.20,327.76 657.50,327.81 657.80,328.80 658.10,327.86 658.40,327.02 658.70,328.11 659.00,327.45 659.30,328.75 659.60,327.32 659.90,327.66 660.20,327.16 660.50,328.02 660.80,327.48 661.10,327.96 661.40,327.81 661.70,327.71 662.00,328.49 662.30,328.49 662.60,328.07 662.90,327.61 663.20,327.54 663.50,328.21 663.80,328.80 664.10,327.87 664.40,327.72 664.70,327.78 665.00,327.59 665.30,327.66 665.60,328.05 665.90,328.80 666.20,328.16 666.50,327.93 666.80,327.41 667.10,328.30 667.40,328.19 667.70,327.63 668.00,327.71 668.30,328.22 668.60,328.72 668.90,328.55 669.20,328.36 669.50,328.13 669.80,328.44 670.10,328.29 670.40,328.80 670.70,327.79 671.00,328.16 671.30,328.80 671.60,328.23 671.90,328.80 672.20,328.35 672.50,328.45 672.80,328.22 673.10,327.77 673.40,327.97 673.70,328.80 674.00,328.72 674.30,328.71 674.60,328.80 674.90,328.71" fill="none" stroke="#3a80a8" stroke-width="1.3" stroke-linejoin="round" opacity="1.0"/>
<polyline points="513.50,328.23 513.80,328.80 514.10,328.65 514.40,328.58 514.70,328.80 515.00,328.77 515.30,328.65 515.60,328.80 515.90,328.57 516.20,328.30 516.50,328.26 516.80,328.56 517.10,328.80 517.40,328.80 517.70,328.80 518.00,328.80 518.30,328.80 518.60,328.80 518.90,328.80 519.20,328.80 519.50,328.56 519.80,328.80 520.10,328.79 520.40,328.69 520.70,328.80 521.00,328.16 521.30,326.87 521.60,326.49 521.90,327.41 522.20,325.16 522.50,325.21 522.80,324.54 523.10,323.86 523.40,323.32 523.70,321.90 524.00,321.29 524.30,318.34 524.60,314.97 524.90,312.95 525.20,310.61 525.50,304.78 525.80,303.25 526.10,298.22 526.40,295.37 526.70,292.76 527.00,290.04 527.30,286.10 527.60,279.51 527.90,281.33 528.20,274.87 528.50,270.29 528.80,268.40 529.10,262.31 529.40,256.89 529.70,256.17 530.00,252.06 530.30,245.84 530.60,246.01 530.90,244.59 531.20,241.25 531.50,246.00 531.80,242.69 532.10,239.91 532.40,243.41 532.70,243.38 533.00,245.50 533.30,241.82 533.60,246.76 533.90,247.14 534.20,247.26 534.50,247.68 534.80,249.51 535.10,249.12 535.40,248.99 535.70,248.19 536.00,252.58 536.30,253.27 536.60,252.99 536.90,253.66 537.20,255.57 537.50,250.88 537.80,256.72 538.10,252.81 538.40,258.43 538.70,260.74 539.00,263.08 539.30,260.01 539.60,262.45 539.90,262.54 540.20,259.90 540.50,265.71 540.80,265.41 541.10,266.37 541.40,265.38 541.70,267.48 542.00,268.32 542.30,270.88 542.60,269.94 542.90,275.65 543.20,270.11 543.50,270.98 543.80,271.96 544.10,271.42 544.40,275.67 544.70,274.96 545.00,272.64 545.30,275.41 545.60,277.64 545.90,274.38 546.20,277.32 546.50,277.28 546.80,281.67 547.10,279.32 547.40,278.63 547.70,278.94 548.00,283.10 548.30,280.16 548.60,284.72 548.90,279.64 549.20,282.17 549.50,282.64 549.80,282.50 550.10,283.75 550.40,285.57 550.70,284.18 551.00,283.63 551.30,288.08 551.60,288.78 551.90,286.30 552.20,288.20 552.50,284.73 552.80,290.22 553.10,287.48 553.40,289.05 553.70,293.25 554.00,289.12 554.30,291.36 554.60,290.41 554.90,289.89 555.20,291.32 555.50,293.72 555.80,292.16 556.10,293.61 556.40,295.83 556.70,295.19 557.00,294.23 557.30,298.32 557.60,297.07 557.90,299.19 558.20,296.62 558.50,300.54 558.80,297.29 559.10,297.32 559.40,299.45 559.70,300.02 560.00,301.30 560.30,300.58 560.60,302.29 560.90,303.39 561.20,301.29 561.50,300.71 561.80,302.14 562.10,303.85 562.40,304.12 562.70,303.03 563.00,302.56 563.30,303.95 563.60,305.36 563.90,303.70 564.20,306.28 564.50,305.32 564.80,305.67 565.10,304.90 565.40,307.42 565.70,306.20 566.00,304.76 566.30,307.61 566.60,306.50 566.90,308.43 567.20,307.70 567.50,307.10 567.80,308.24 568.10,307.80 568.40,307.71 568.70,308.90 569.00,310.04 569.30,309.49 569.60,309.60 569.90,309.38 570.20,310.84 570.50,310.79 570.80,311.78 571.10,311.39 571.40,313.37 571.70,309.71 572.00,311.43 572.30,312.18 572.60,312.71 572.90,310.39 573.20,310.86 573.50,312.22 573.80,313.48 574.10,313.68 574.40,311.21 574.70,313.02 575.00,314.21 575.30,313.22 575.60,312.33 575.90,312.80 576.20,312.35 576.50,314.99 576.80,313.72 577.10,313.72 577.40,313.44 577.70,314.31 578.00,313.73 578.30,313.82 578.60,314.87 578.90,314.85 579.20,315.66 579.50,315.52 579.80,316.65 580.10,315.65 580.40,316.10 580.70,316.22 581.00,315.41 581.30,317.42 581.60,315.96 581.90,315.18 582.20,317.93 582.50,317.54 582.80,316.59 583.10,318.12 583.40,318.28 583.70,318.18 584.00,316.61 584.30,317.92 584.60,316.94 584.90,317.43 585.20,317.58 585.50,317.43 585.80,318.72 586.10,317.70 586.40,319.04 586.70,318.75 587.00,318.18 587.30,318.96 587.60,319.51 587.90,320.00 588.20,318.90 588.50,320.71 588.80,319.82 589.10,320.50 589.40,318.40 589.70,318.76 590.00,320.77 590.30,319.67 590.60,320.35 590.90,321.07 591.20,318.98 591.50,320.65 591.80,321.98 592.10,321.15 592.40,320.67 592.70,321.16 593.00,320.81 593.30,321.54 593.60,322.07 593.90,320.94 594.20,321.69 594.50,321.57 594.80,322.03 595.10,322.19 595.40,320.75 595.70,322.57 596.00,322.40 596.30,320.93 596.60,321.63 596.90,320.78 597.20,321.75 597.50,322.29 597.80,321.21 598.10,321.57 598.40,321.56 598.70,321.76 599.00,321.77 599.30,321.61 599.60,322.92 599.90,322.39 600.20,321.99 600.50,323.43 600.80,322.32 601.10,323.48 601.40,321.95 601.70,323.99 602.00,322.67 602.30,322.36 602.60,323.43 602.90,322.21 603.20,322.46 603.50,323.50 603.80,323.03 604.10,323.74 604.40,323.62 604.70,323.76 605.00,323.74 605.30,324.22 605.60,323.77 605.90,324.62 606.20,324.57 606.50,322.57 606.80,322.79 607.10,325.18 607.40,323.80 607.70,324.28 608.00,324.11 608.30,324.42 608.60,325.80 608.90,323.80 609.20,324.38 609.50,324.37 609.80,323.65 610.10,323.83 610.40,324.29 610.70,324.50 611.00,324.81 611.30,323.23 611.60,323.54 611.90,325.78 612.20,324.56 612.50,325.28 612.80,324.47 613.10,324.31 613.40,326.26 613.70,324.03 614.00,324.29 614.30,325.39 614.60,324.98 614.90,323.91 615.20,325.14 615.50,325.56 615.80,324.10 616.10,324.78 616.40,325.70 616.70,326.48 617.00,323.72 617.30,324.84 617.60,325.34 617.90,324.77 618.20,324.81 618.50,325.11 618.80,325.80 619.10,324.81 619.40,326.10 619.70,326.11 620.00,326.16 620.30,326.63 620.60,325.35 620.90,325.69 621.20,326.39 621.50,326.59 621.80,326.42 622.10,325.58 622.40,325.59 622.70,325.10 623.00,325.69 623.30,325.44 623.60,325.73 623.90,325.84 624.20,326.62 624.50,326.67 624.80,326.15 625.10,325.52 625.40,326.22 625.70,326.55 626.00,326.84 626.30,326.49 626.60,326.88 626.90,326.03 627.20,326.86 627.50,326.94 627.80,326.32 628.10,326.12 628.40,327.34 628.70,326.05 629.00,327.08 629.30,326.56 629.60,326.55 629.90,326.64 630.20,326.56 630.50,326.83 630.80,327.92 631.10,327.76 631.40,326.85 631.70,327.21 632.00,327.47 632.30,326.72 632.60,328.02 632.90,327.00 633.20,327.35 633.50,326.46 633.80,326.38 634.10,326.46 634.40,326.67 634.70,327.63 635.00,326.88 635.30,327.57 635.60,326.84 635.90,326.55 636.20,327.20 636.50,326.89 636.80,326.19 637.10,327.16 637.40,327.81 637.70,327.04 638.00,326.49 638.30,326.75 638.60,326.51 638.90,327.06 639.20,326.68 639.50,327.16 639.80,327.33 640.10,327.98 640.40,326.61 640.70,326.13 641.00,328.17 641.30,327.52 641.60,327.09 641.90,327.58 642.20,326.80 642.50,327.14 642.80,327.71 643.10,327.17 643.40,327.43 643.70,327.61 644.00,327.44 644.30,327.26 644.60,327.68 644.90,328.13 645.20,328.11 645.50,326.95 645.80,327.85 646.10,326.42 646.40,326.70 646.70,327.69 647.00,327.77 647.30,328.23 647.60,326.58 647.90,328.10 648.20,327.24 648.50,327.29 648.80,327.79 649.10,328.31 649.40,327.07 649.70,326.67 650.00,327.27 650.30,327.54 650.60,328.25 650.90,327.82 651.20,327.48 651.50,327.38 651.80,327.41 652.10,328.17 652.40,326.80 652.70,327.32 653.00,327.24 653.30,328.29 653.60,327.78 653.90,327.38 654.20,328.13 654.50,328.76 654.80,328.29 655.10,327.10 655.40,327.67 655.70,328.38 656.00,326.87 656.30,327.19 656.60,327.61 656.90,328.10 657.20,327.43 657.50,327.93 657.80,327.78 658.10,328.04 658.40,327.28 658.70,326.77 659.00,326.82 659.30,328.00 659.60,328.42 659.90,328.18 660.20,327.15 660.50,327.09 660.80,327.83 661.10,327.52 661.40,327.08 661.70,327.71 662.00,327.62 662.30,327.96 662.60,328.22 662.90,328.14 663.20,328.15 663.50,328.32 663.80,328.02 664.10,327.87 664.40,327.93 664.70,328.68 665.00,327.98 665.30,328.52 665.60,328.80 665.90,328.80 666.20,327.13 666.50,328.24 666.80,328.65 667.10,327.98 667.40,327.86 667.70,327.53 668.00,327.90 668.30,328.23 668.60,327.36 668.90,328.25 669.20,327.87 669.50,328.29 669.80,327.78 670.10,328.34 670.40,328.38 670.70,328.00 671.00,328.02 671.30,328.78 671.60,328.64 671.90,328.00 672.20,328.57 672.50,327.86 672.80,328.16 673.10,327.08 673.40,328.16 673.70,328.73 674.00,328.22 674.30,328.71 674.60,328.17 674.90,328.60" fill="none" stroke="#3f86ae" stroke-width="1.3" stroke-linejoin="round" opacity="1.0"/>
<polyline points="513.50,328.71 513.80,328.80 514.10,328.40 514.40,327.95 514.70,328.80 515.00,328.80 515.30,328.80 515.60,328.80 515.90,328.73 516.20,328.51 516.50,328.44 516.80,328.69 517.10,328.62 517.40,328.80 517.70,328.80 518.00,328.22 518.30,328.80 518.60,328.78 518.90,328.80 519.20,328.80 519.50,328.80 519.80,327.21 520.10,328.18 520.40,326.12 520.70,327.85 521.00,325.65 521.30,325.47 521.60,326.62 521.90,323.04 522.20,324.06 522.50,322.52 522.80,322.48 523.10,321.67 523.40,322.57 523.70,320.28 524.00,319.26 524.30,317.90 524.60,313.44 524.90,315.48 525.20,311.74 525.50,308.17 525.80,307.75 526.10,308.14 526.40,306.65 526.70,302.51 527.00,301.96 527.30,300.47 527.60,299.64 527.90,295.00 528.20,294.04 528.50,288.08 528.80,285.53 529.10,285.18 529.40,282.51 529.70,278.28 530.00,276.72 530.30,273.16 530.60,271.48 530.90,269.50 531.20,266.01 531.50,264.76 531.80,260.33 532.10,258.08 532.40,252.30 532.70,256.37 533.00,253.65 533.30,252.87 533.60,245.60 533.90,247.64 534.20,248.07 534.50,245.86 534.80,252.52 535.10,253.80 535.40,248.84 535.70,253.24 536.00,256.66 536.30,250.76 536.60,256.19 536.90,258.09 537.20,259.26 537.50,252.79 537.80,254.02 538.10,257.35 538.40,260.06 538.70,255.33 539.00,257.00 539.30,256.79 539.60,262.10 539.90,259.13 540.20,261.98 540.50,262.51 540.80,263.98 541.10,262.80 541.40,263.01 541.70,265.12 542.00,264.07 542.30,260.82 542.60,262.72 542.90,266.11 543.20,264.90 543.50,264.27 543.80,265.89 544.10,272.60 544.40,266.05 544.70,267.52 545.00,267.85 545.30,266.65 545.60,269.93 545.90,269.53 546.20,268.88 546.50,265.61 546.80,271.20 547.10,270.49 547.40,269.06 547.70,264.09 548.00,269.69 548.30,267.65 548.60,269.92 548.90,269.65 549.20,269.30 549.50,273.27 549.80,271.76 550.10,274.28 550.40,270.20 550.70,272.02 551.00,275.38 551.30,273.62 551.60,271.84 551.90,271.80 552.20,272.68 552.50,273.96 552.80,275.76 553.10,274.99 553.40,276.46 553.70,276.91 554.00,275.80 554.30,278.35 554.60,277.57 554.90,276.08 555.20,276.39 555.50,276.93 555.80,275.81 556.10,274.93 556.40,277.82 556.70,277.04 557.00,279.39 557.30,277.40 557.60,278.98 557.90,279.43 558.20,278.43 558.50,279.94 558.80,278.48 559.10,279.30 559.40,281.86 559.70,281.34 560.00,280.87 560.30,279.68 560.60,282.69 560.90,285.35 561.20,277.90 561.50,284.12 561.80,282.84 562.10,284.72 562.40,285.10 562.70,281.37 563.00,286.66 563.30,282.67 563.60,283.56 563.90,285.41 564.20,284.36 564.50,285.22 564.80,284.04 565.10,283.34 565.40,285.47 565.70,283.71 566.00,288.30 566.30,286.56 566.60,288.86 566.90,284.38 567.20,283.14 567.50,283.02 567.80,286.62 568.10,285.25 568.40,288.38 568.70,285.42 569.00,285.79 569.30,288.93 569.60,287.99 569.90,290.08 570.20,290.51 570.50,289.91 570.80,287.38 571.10,288.18 571.40,293.77 571.70,289.66 572.00,290.74 572.30,290.64 572.60,290.57 572.90,290.51 573.20,290.03 573.50,290.30 573.80,287.95 574.10,294.39 574.40,291.56 574.70,289.72 575.00,293.00 575.30,293.43 575.60,290.07 575.90,291.82 576.20,295.38 576.50,293.97 576.80,293.97 577.10,295.10 577.40,293.41 577.70,293.33 578.00,296.64 578.30,293.89 578.60,294.26 578.90,295.62 579.20,294.82 579.50,292.93 579.80,298.23 580.10,295.21 580.40,298.44 580.70,296.53 581.00,294.42 581.30,298.58 581.60,295.99 581.90,295.07 582.20,296.60 582.50,293.40 582.80,297.67 583.10,296.05 583.40,297.00 583.70,296.17 584.00,298.86 584.30,298.55 584.60,299.88 584.90,300.99 585.20,299.01 585.50,298.91 585.80,299.44 586.10,297.89 586.40,298.50 586.70,300.72 587.00,298.41 587.30,296.94 587.60,299.59 587.90,300.72 588.20,302.78 588.50,299.62 588.80,299.48 589.10,301.25 589.40,301.07 589.70,301.87 590.00,300.91 590.30,302.19 590.60,301.21 590.90,303.75 591.20,302.89 591.50,303.52 591.80,302.21 592.10,300.93 592.40,303.27 592.70,303.37 593.00,305.26 593.30,305.25 593.60,303.98 593.90,304.16 594.20,302.98 594.50,304.56 594.80,305.12 595.10,304.41 595.40,303.65 595.70,307.23 596.00,304.27 596.30,308.14 596.60,307.66 596.90,308.36 597.20,305.18 597.50,307.45 597.80,304.81 598.10,306.45 598.40,305.02 598.70,306.33 599.00,306.84 599.30,309.06 599.60,309.42 599.90,307.62 600.20,307.91 600.50,307.19 600.80,307.09 601.10,306.39 601.40,308.68 601.70,309.94 602.00,308.28 602.30,309.96 602.60,308.10 602.90,308.47 603.20,309.27 603.50,311.31 603.80,309.62 604.10,311.48 604.40,310.18 604.70,309.37 605.00,308.37 605.30,310.53 605.60,310.07 605.90,312.65 606.20,312.21 606.50,309.72 606.80,313.06 607.10,312.81 607.40,308.56 607.70,311.04 608.00,312.78 608.30,310.58 608.60,311.79 608.90,313.47 609.20,313.24 609.50,313.61 609.80,313.92 610.10,312.18 610.40,316.35 610.70,314.15 611.00,316.26 611.30,313.41 611.60,314.54 611.90,314.38 612.20,313.90 612.50,314.58 612.80,314.62 613.10,315.41 613.40,314.93 613.70,314.72 614.00,315.35 614.30,316.61 614.60,315.08 614.90,315.83 615.20,315.39 615.50,313.02 615.80,314.40 616.10,314.49 616.40,314.06 616.70,315.08 617.00,313.86 617.30,316.35 617.60,315.52 617.90,317.68 618.20,316.82 618.50,315.03 618.80,316.36 619.10,316.77 619.40,316.06 619.70,316.54 620.00,315.84 620.30,316.35 620.60,317.59 620.90,317.01 621.20,318.84 621.50,315.24 621.80,316.82 622.10,317.40 622.40,319.55 622.70,319.25 623.00,318.96 623.30,319.30 623.60,320.08 623.90,319.18 624.20,318.30 624.50,318.86 624.80,317.99 625.10,318.63 625.40,319.37 625.70,318.55 626.00,319.30 626.30,318.84 626.60,318.01 626.90,317.99 627.20,320.34 627.50,319.75 627.80,320.69 628.10,319.82 628.40,320.02 628.70,320.42 629.00,319.90 629.30,321.77 629.60,321.48 629.90,320.97 630.20,319.62 630.50,320.24 630.80,321.09 631.10,322.14 631.40,321.00 631.70,321.07 632.00,321.68 632.30,321.34 632.60,321.14 632.90,320.24 633.20,322.62 633.50,321.43 633.80,321.04 634.10,321.50 634.40,320.38 634.70,320.10 635.00,320.07 635.30,322.22 635.60,320.64 635.90,322.09 636.20,320.91 636.50,320.41 636.80,321.58 637.10,321.53 637.40,321.64 637.70,324.00 638.00,322.61 638.30,321.93 638.60,323.37 638.90,322.31 639.20,323.82 639.50,321.29 639.80,323.81 640.10,321.86 640.40,322.23 640.70,323.15 641.00,322.02 641.30,321.55 641.60,322.74 641.90,322.88 642.20,321.70 642.50,324.14 642.80,322.55 643.10,322.79 643.40,323.19 643.70,323.49 644.00,324.45 644.30,321.61 644.60,323.60 644.90,324.43 645.20,323.90 645.50,323.67 645.80,322.80 646.10,324.13 646.40,323.45 646.70,324.05 647.00,323.05 647.30,323.75 647.60,323.95 647.90,322.84 648.20,325.07 648.50,324.12 648.80,323.16 649.10,324.11 649.40,324.48 649.70,324.13 650.00,323.59 650.30,324.33 650.60,323.41 650.90,323.20 651.20,325.66 651.50,326.16 651.80,326.34 652.10,326.71 652.40,326.00 652.70,324.13 653.00,324.49 653.30,325.93 653.60,324.67 653.90,324.82 654.20,325.14 654.50,325.55 654.80,324.14 655.10,325.33 655.40,325.75 655.70,323.75 656.00,326.36 656.30,326.12 656.60,324.90 656.90,327.07 657.20,325.98 657.50,326.08 657.80,326.97 658.10,323.77 658.40,325.86 658.70,326.73 659.00,327.05 659.30,325.97 659.60,325.90 659.90,325.50 660.20,325.88 660.50,325.51 660.80,324.37 661.10,325.79 661.40,325.51 661.70,325.86 662.00,326.00 662.30,326.02 662.60,326.49 662.90,326.40 663.20,326.22 663.50,326.07 663.80,326.48 664.10,326.37 664.40,326.54 664.70,327.68 665.00,326.88 665.30,326.45 665.60,325.28 665.90,325.76 666.20,324.71 666.50,327.51 666.80,327.71 667.10,326.66 667.40,326.66 667.70,327.36 668.00,327.46 668.30,325.87 668.60,326.95 668.90,326.95 669.20,326.33 669.50,328.22 669.80,327.79 670.10,326.89 670.40,327.31 670.70,327.01 671.00,327.07 671.30,327.19 671.60,328.17 671.90,327.53 672.20,327.25 672.50,327.14 672.80,327.80 673.10,327.09 673.40,326.65 673.70,327.65 674.00,328.80 674.30,327.37 674.60,327.95 674.90,327.76" fill="none" stroke="#1d4255" stroke-width="1.3" stroke-linejoin="round" opacity="1.0"/>
<polyline points="513.50,328.80 513.80,328.80 514.10,328.13 514.40,327.88 514.70,328.70 515.00,328.80 515.30,328.68 515.60,328.09 515.90,328.53 516.20,328.80 516.50,328.13 516.80,328.80 517.10,328.80 517.40,328.80 517.70,328.80 518.00,328.50 518.30,328.70 518.60,328.80 518.90,328.58 519.20,328.56 519.50,328.12 519.80,328.05 520.10,328.36 520.40,328.31 520.70,327.50 521.00,327.08 521.30,326.63 521.60,326.02 521.90,326.15 522.20,324.78 522.50,325.39 522.80,323.98 523.10,322.20 523.40,322.03 523.70,321.79 524.00,319.91 524.30,317.48 524.60,316.31 524.90,315.77 525.20,314.44 525.50,313.40 525.80,309.64 526.10,309.63 526.40,308.92 526.70,306.41 527.00,306.81 527.30,302.04 527.60,300.64 527.90,297.92 528.20,294.02 528.50,291.58 528.80,289.05 529.10,285.61 529.40,281.79 529.70,278.87 530.00,276.54 530.30,270.79 530.60,271.36 530.90,266.85 531.20,266.47 531.50,262.76 531.80,263.10 532.10,260.10 532.40,258.30 532.70,255.27 533.00,256.61 533.30,260.03 533.60,253.31 533.90,258.47 534.20,258.22 534.50,257.30 534.80,255.82 535.10,262.03 535.40,259.52 535.70,261.53 536.00,259.07 536.30,258.62 536.60,262.72 536.90,262.36 537.20,260.61 537.50,261.14 537.80,263.19 538.10,260.69 538.40,260.98 538.70,262.92 539.00,265.37 539.30,265.43 539.60,264.45 539.90,267.10 540.20,264.48 540.50,264.15 540.80,270.08 541.10,264.84 541.40,267.33 541.70,267.58 542.00,267.07 542.30,267.62 542.60,268.88 542.90,268.94 543.20,267.09 543.50,268.56 543.80,271.56 544.10,270.64 544.40,268.76 544.70,270.05 545.00,268.38 545.30,268.12 545.60,269.87 545.90,274.21 546.20,270.29 546.50,268.04 546.80,271.86 547.10,271.08 547.40,274.06 547.70,275.28 548.00,272.65 548.30,273.79 548.60,272.21 548.90,276.40 549.20,273.12 549.50,274.82 549.80,279.45 550.10,273.66 550.40,275.98 550.70,275.87 551.00,277.12 551.30,277.42 551.60,279.57 551.90,278.06 552.20,278.55 552.50,275.54 552.80,278.79 553.10,275.97 553.40,280.84 553.70,278.87 554.00,281.00 554.30,278.68 554.60,280.27 554.90,280.32 555.20,281.46 555.50,280.62 555.80,280.09 556.10,280.79 556.40,280.63 556.70,280.48 557.00,280.29 557.30,280.19 557.60,286.31 557.90,282.09 558.20,281.78 558.50,285.71 558.80,284.82 559.10,284.43 559.40,286.91 559.70,288.45 560.00,284.17 560.30,288.34 560.60,287.22 560.90,288.53 561.20,286.01 561.50,290.02 561.80,289.48 562.10,283.55 562.40,290.29 562.70,290.73 563.00,286.54 563.30,289.70 563.60,289.18 563.90,290.15 564.20,288.71 564.50,291.48 564.80,291.94 565.10,290.91 565.40,291.28 565.70,288.95 566.00,292.90 566.30,290.33 566.60,292.71 566.90,291.73 567.20,297.43 567.50,293.64 567.80,296.37 568.10,294.22 568.40,294.54 568.70,296.07 569.00,295.19 569.30,299.17 569.60,295.61 569.90,298.69 570.20,294.62 570.50,295.24 570.80,297.81 571.10,294.92 571.40,300.18 571.70,298.19 572.00,297.70 572.30,300.43 572.60,297.17 572.90,297.02 573.20,294.43 573.50,295.62 573.80,298.25 574.10,295.80 574.40,300.21 574.70,300.73 575.00,300.13 575.30,297.25 575.60,298.57 575.90,298.00 576.20,301.25 576.50,301.91 576.80,300.26 577.10,300.87 577.40,301.30 577.70,302.23 578.00,300.04 578.30,300.15 578.60,302.86 578.90,302.65 579.20,302.79 579.50,302.37 579.80,303.57 580.10,303.34 580.40,301.99 580.70,305.47 581.00,304.77 581.30,303.08 581.60,303.47 581.90,302.79 582.20,302.03 582.50,302.71 582.80,302.37 583.10,303.64 583.40,305.19 583.70,304.85 584.00,303.18 584.30,305.11 584.60,304.74 584.90,304.33 585.20,307.56 585.50,304.85 585.80,307.72 586.10,304.43 586.40,307.31 586.70,306.22 587.00,308.67 587.30,308.14 587.60,306.78 587.90,308.89 588.20,309.96 588.50,310.24 588.80,310.64 589.10,308.47 589.40,311.96 589.70,308.62 590.00,309.42 590.30,307.85 590.60,309.77 590.90,308.42 591.20,310.63 591.50,308.48 591.80,313.29 592.10,312.18 592.40,313.38 592.70,313.07 593.00,312.02 593.30,312.63 593.60,312.52 593.90,310.18 594.20,311.27 594.50,312.46 594.80,314.29 595.10,311.71 595.40,313.83 595.70,313.14 596.00,314.93 596.30,315.17 596.60,313.26 596.90,313.37 597.20,316.65 597.50,316.38 597.80,315.34 598.10,316.56 598.40,315.89 598.70,316.58 599.00,315.82 599.30,317.10 599.60,318.59 599.90,318.56 600.20,318.48 600.50,317.31 600.80,318.34 601.10,316.90 601.40,317.15 601.70,317.74 602.00,316.48 602.30,317.99 602.60,316.00 602.90,319.76 603.20,319.00 603.50,318.51 603.80,317.53 604.10,317.74 604.40,318.06 604.70,316.81 605.00,318.23 605.30,317.82 605.60,319.78 605.90,320.40 606.20,320.62 606.50,317.77 606.80,317.85 607.10,320.88 607.40,320.27 607.70,320.62 608.00,320.28 608.30,319.90 608.60,321.93 608.90,320.69 609.20,320.57 609.50,318.90 609.80,320.16 610.10,321.45 610.40,320.72 610.70,321.14 611.00,320.09 611.30,321.07 611.60,319.84 611.90,320.30 612.20,321.64 612.50,322.33 612.80,320.37 613.10,320.55 613.40,320.60 613.70,320.71 614.00,321.00 614.30,321.91 614.60,321.45 614.90,321.17 615.20,321.69 615.50,319.57 615.80,321.24 616.10,323.38 616.40,320.52 616.70,321.02 617.00,321.91 617.30,322.70 617.60,321.55 617.90,320.85 618.20,323.41 618.50,319.77 618.80,321.21 619.10,321.42 619.40,320.00 619.70,323.56 620.00,324.19 620.30,320.97 620.60,322.06 620.90,322.27 621.20,323.21 621.50,322.44 621.80,323.20 622.10,323.17 622.40,322.65 622.70,322.88 623.00,324.19 623.30,323.11 623.60,323.60 623.90,323.03 624.20,323.76 624.50,324.65 624.80,323.30 625.10,322.83 625.40,322.65 625.70,324.30 626.00,322.73 626.30,323.91 626.60,325.82 626.90,323.79 627.20,325.25 627.50,323.72 627.80,323.68 628.10,324.33 628.40,323.10 628.70,321.78 629.00,323.93 629.30,323.40 629.60,324.27 629.90,325.86 630.20,324.74 630.50,322.92 630.80,324.67 631.10,322.81 631.40,322.51 631.70,326.26 632.00,323.65 632.30,322.59 632.60,324.45 632.90,324.38 633.20,324.98 633.50,324.47 633.80,324.48 634.10,325.41 634.40,324.57 634.70,324.12 635.00,325.09 635.30,324.34 635.60,325.77 635.90,324.92 636.20,324.77 636.50,324.59 636.80,325.49 637.10,325.87 637.40,324.81 637.70,323.24 638.00,325.77 638.30,324.52 638.60,325.70 638.90,324.72 639.20,325.59 639.50,325.08 639.80,324.66 640.10,324.28 640.40,325.30 640.70,325.52 641.00,324.09 641.30,323.47 641.60,325.69 641.90,327.27 642.20,324.87 642.50,325.33 642.80,324.70 643.10,324.57 643.40,326.83 643.70,324.32 644.00,325.87 644.30,325.10 644.60,326.19 644.90,327.00 645.20,325.90 645.50,325.55 645.80,326.69 646.10,325.60 646.40,324.39 646.70,326.96 647.00,325.51 647.30,326.12 647.60,327.73 647.90,326.73 648.20,326.27 648.50,327.36 648.80,325.37 649.10,324.78 649.40,325.23 649.70,326.22 650.00,326.34 650.30,325.66 650.60,327.88 650.90,326.88 651.20,326.41 651.50,325.75 651.80,326.27 652.10,326.57 652.40,326.08 652.70,328.61 653.00,327.72 653.30,326.95 653.60,326.48 653.90,325.17 654.20,327.33 654.50,326.02 654.80,327.37 655.10,326.91 655.40,325.62 655.70,326.68 656.00,326.52 656.30,326.52 656.60,326.65 656.90,326.81 657.20,326.60 657.50,327.40 657.80,327.22 658.10,326.72 658.40,326.75 658.70,326.65 659.00,326.63 659.30,326.82 659.60,327.12 659.90,326.76 660.20,325.65 660.50,327.08 660.80,326.41 661.10,327.06 661.40,328.80 661.70,327.86 662.00,325.45 662.30,325.92 662.60,327.91 662.90,326.66 663.20,326.13 663.50,326.04 663.80,327.18 664.10,326.75 664.40,327.33 664.70,327.15 665.00,327.40 665.30,327.11 665.60,326.88 665.90,327.95 666.20,328.55 666.50,326.92 666.80,327.42 667.10,328.80 667.40,326.84 667.70,326.85 668.00,327.99 668.30,328.25 668.60,327.66 668.90,328.46 669.20,327.65 669.50,327.89 669.80,327.75 670.10,328.01 670.40,327.83 670.70,328.78 671.00,328.34 671.30,328.80 671.60,327.82 671.90,327.44 672.20,327.58 672.50,327.73 672.80,328.22 673.10,327.77 673.40,328.24 673.70,328.35 674.00,327.39 674.30,327.27 674.60,328.80 674.90,327.79" fill="none" stroke="#22475a" stroke-width="1.3" stroke-linejoin="round" opacity="1.0"/>
<rect x="588.0" y="221.6" width="81.20000000000005" height="50.20000000000002" fill="#fff" stroke="#222" stroke-width="1"/>
<line x1="584.5" y1="270.00" x2="588.0" y2="270.00" stroke="#333" stroke-width="0.9"/>
<text x="583.8" y="273.90" text-anchor="end" font-size="11" fill="#222">0</text>
<line x1="586.0" y1="257.85" x2="588.0" y2="257.85" stroke="#333" stroke-width="0.9"/>
<line x1="584.5" y1="245.70" x2="588.0" y2="245.70" stroke="#333" stroke-width="0.9"/>
<text x="583.8" y="249.60" text-anchor="end" font-size="11" fill="#222">40</text>
<line x1="586.0" y1="233.55" x2="588.0" y2="233.55" stroke="#333" stroke-width="0.9"/>
<line x1="584.5" y1="221.40" x2="588.0" y2="221.40" stroke="#333" stroke-width="0.9"/>
<text x="583.8" y="225.30" text-anchor="end" font-size="11" fill="#222">80</text>
<line x1="601.20" y1="271.8" x2="601.20" y2="268.8" stroke="#333" stroke-width="0.9"/>
<text x="601.20" y="284" text-anchor="middle" font-size="11" fill="#222">0.01</text>
<line x1="628.20" y1="271.8" x2="628.20" y2="268.8" stroke="#333" stroke-width="0.9"/>
<text x="628.20" y="284" text-anchor="middle" font-size="11" fill="#222">0.02</text>
<line x1="655.20" y1="271.8" x2="655.20" y2="268.8" stroke="#333" stroke-width="0.9"/>
<text x="655.20" y="284" text-anchor="middle" font-size="11" fill="#222">0.03</text>
<circle cx="597.5" cy="268" r="1.9" fill="#8a8a8a" stroke="#333" stroke-width="0.4"/>
<circle cx="604" cy="268" r="1.9" fill="#8a8a8a" stroke="#333" stroke-width="0.4"/>
<circle cx="600" cy="268.5" r="1.9" fill="#a8a8a8" stroke="#333" stroke-width="0.4"/>
<circle cx="597.5" cy="266.3" r="1.9" fill="#e36a95" stroke="#333" stroke-width="0.4"/>
<circle cx="600" cy="265.3" r="1.9" fill="#d64c7d" stroke="#333" stroke-width="0.4"/>
<circle cx="604.2" cy="265.8" r="1.9" fill="#e06890" stroke="#333" stroke-width="0.4"/>
<circle cx="602" cy="267" r="1.9" fill="#ef9fbb" stroke="#333" stroke-width="0.4"/>
<circle cx="619.2" cy="265" r="1.9" fill="#a8405f" stroke="#333" stroke-width="0.4"/>
<circle cx="624.5" cy="265.5" r="1.9" fill="#a8405f" stroke="#333" stroke-width="0.4"/>
<circle cx="628.8" cy="265" r="1.9" fill="#a8405f" stroke="#333" stroke-width="0.4"/>
<circle cx="623.3" cy="242" r="1.9" fill="#7cc8ee" stroke="#333" stroke-width="0.4"/>
<circle cx="621.7" cy="245" r="1.9" fill="#7cc8ee" stroke="#333" stroke-width="0.4"/>
<circle cx="620.8" cy="247.5" r="1.9" fill="#7cc8ee" stroke="#333" stroke-width="0.4"/>
<circle cx="624.7" cy="250" r="1.9" fill="#3e82a8" stroke="#333" stroke-width="0.4"/>
<circle cx="627.5" cy="252" r="1.9" fill="#3e82a8" stroke="#333" stroke-width="0.4"/>
<circle cx="620.8" cy="253.7" r="1.9" fill="#3e82a8" stroke="#333" stroke-width="0.4"/>
<circle cx="647.5" cy="234.2" r="1.9" fill="#1f4456" stroke="#333" stroke-width="0.4"/>
<circle cx="648.7" cy="233" r="1.9" fill="#1f4456" stroke="#333" stroke-width="0.4"/>
<circle cx="650.8" cy="230" r="1.9" fill="#1f4456" stroke="#333" stroke-width="0.4"/>
<circle cx="660.3" cy="231.7" r="1.9" fill="#1f4456" stroke="#333" stroke-width="0.4"/>
<text x="665.6" y="218.4" text-anchor="end" font-size="10.6" fill="#222">CaOV3</text>
<text x="629.3" y="293.3" text-anchor="middle" font-size="10.7" fill="#222">Median contrast</text>
<text transform="translate(567.6,246.5) rotate(-90)" text-anchor="middle" font-size="10.6" fill="#222">Count density</text>
<rect x="512.8" y="207.8" width="162.5" height="121.30000000000001" fill="none" stroke="#222" stroke-width="1"/>
<line x1="509.19999999999993" y1="328.30" x2="512.8" y2="328.30" stroke="#333" stroke-width="0.9"/>
<text x="507.2" y="328.60" text-anchor="end" font-size="10" fill="#222">0</text>
<line x1="510.49999999999994" y1="314.18" x2="512.8" y2="314.18" stroke="#333" stroke-width="0.9"/>
<line x1="509.19999999999993" y1="300.06" x2="512.8" y2="300.06" stroke="#333" stroke-width="0.9"/>
<text x="507.2" y="300.84" text-anchor="end" font-size="10" fill="#222">400</text>
<line x1="510.49999999999994" y1="285.94" x2="512.8" y2="285.94" stroke="#333" stroke-width="0.9"/>
<line x1="509.19999999999993" y1="271.82" x2="512.8" y2="271.82" stroke="#333" stroke-width="0.9"/>
<text x="507.2" y="273.08" text-anchor="end" font-size="10" fill="#222">800</text>
<line x1="510.49999999999994" y1="257.70" x2="512.8" y2="257.70" stroke="#333" stroke-width="0.9"/>
<line x1="509.19999999999993" y1="243.58" x2="512.8" y2="243.58" stroke="#333" stroke-width="0.9"/>
<text x="507.2" y="245.32" text-anchor="end" font-size="10" fill="#222">1200</text>
<line x1="510.49999999999994" y1="229.46" x2="512.8" y2="229.46" stroke="#333" stroke-width="0.9"/>
<line x1="509.19999999999993" y1="215.34" x2="512.8" y2="215.34" stroke="#333" stroke-width="0.9"/>
<text x="507.2" y="217.56" text-anchor="end" font-size="10" fill="#222">1600</text>
<line x1="513.00" y1="329.1" x2="513.00" y2="333.3" stroke="#333" stroke-width="0.9"/>
<line x1="529.00" y1="329.1" x2="529.00" y2="331.40000000000003" stroke="#333" stroke-width="0.9"/>
<line x1="545.00" y1="329.1" x2="545.00" y2="331.40000000000003" stroke="#333" stroke-width="0.9"/>
<line x1="561.00" y1="329.1" x2="561.00" y2="331.40000000000003" stroke="#333" stroke-width="0.9"/>
<line x1="577.00" y1="329.1" x2="577.00" y2="331.40000000000003" stroke="#333" stroke-width="0.9"/>
<line x1="593.00" y1="329.1" x2="593.00" y2="333.3" stroke="#333" stroke-width="0.9"/>
<line x1="609.00" y1="329.1" x2="609.00" y2="331.40000000000003" stroke="#333" stroke-width="0.9"/>
<line x1="625.00" y1="329.1" x2="625.00" y2="331.40000000000003" stroke="#333" stroke-width="0.9"/>
<line x1="641.00" y1="329.1" x2="641.00" y2="331.40000000000003" stroke="#333" stroke-width="0.9"/>
<line x1="657.00" y1="329.1" x2="657.00" y2="331.40000000000003" stroke="#333" stroke-width="0.9"/>
<line x1="673.00" y1="329.1" x2="673.00" y2="333.3" stroke="#333" stroke-width="0.9"/>
<text x="519.5" y="342.7" text-anchor="middle" font-size="10.5" fill="#222">0.00</text>
<text x="596" y="342.7" text-anchor="middle" font-size="10.5" fill="#222">0.05</text>
<text x="676" y="342.7" text-anchor="middle" font-size="10.5" fill="#222">0.10</text>
<text x="594.7" y="357.6" text-anchor="middle" font-size="13.3" fill="#222">Contrast magnitude</text>
<text transform="translate(479.3,269.5) rotate(-90)" text-anchor="middle" font-size="12.5" fill="#222">Incidences</text>
<text x="0.6" y="10.3" font-size="14.3" font-weight="bold" fill="#000">A</text><text x="173.6" y="10.2" font-size="14.3" font-weight="bold" fill="#000">B</text><text x="460.2" y="10.4" font-size="14.3" font-weight="bold" fill="#000">C</text><text x="-1.4" y="203.8" font-size="14.3" font-weight="bold" fill="#000">D</text><text x="462.2" y="203.8" font-size="14.3" font-weight="bold" fill="#000">E</text>
</svg></body></html>
